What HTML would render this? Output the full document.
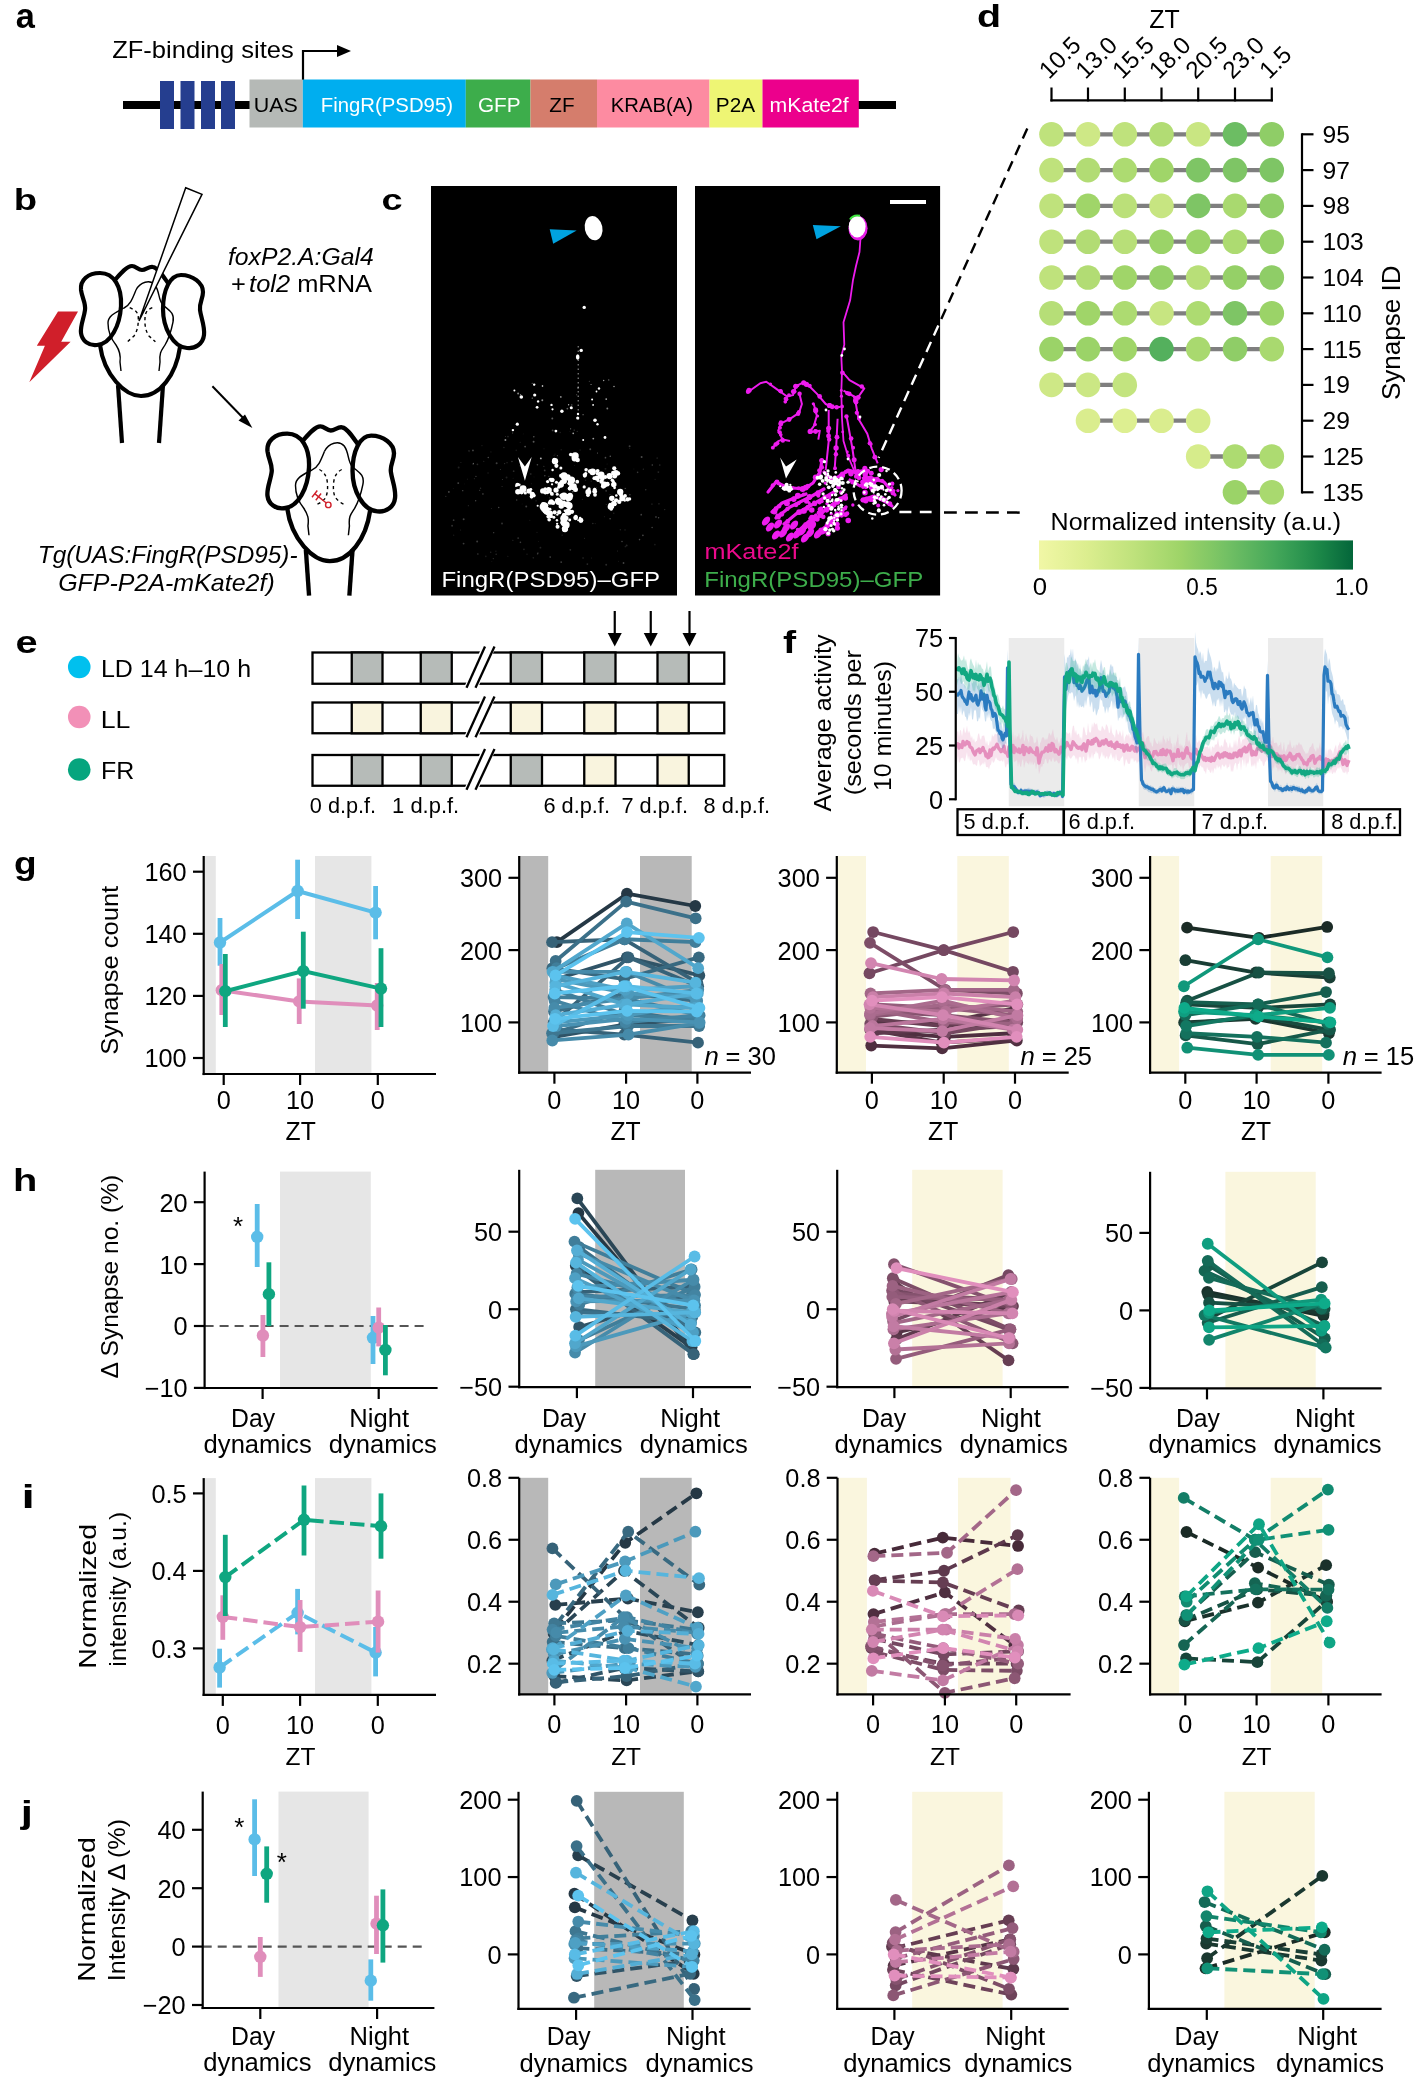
<!DOCTYPE html>
<html><head><meta charset="utf-8"><style>
html,body{margin:0;padding:0;background:#fff;}
svg{display:block;will-change:transform;font-family:"Liberation Sans", sans-serif;}
</style></head><body>
<svg width="1414" height="2079" viewBox="0 0 1414 2079">
<rect width="1414" height="2079" fill="#fff"/>
<text x="15.67" y="27.56" font-size="34.43" font-weight="bold" fill="#000" textLength="19.11" lengthAdjust="spacingAndGlyphs" >a</text>
<text x="112.17" y="58" font-size="24.5" fill="#000" textLength="181.7" lengthAdjust="spacingAndGlyphs" >ZF-binding sites</text>
<path d="M303,80 L303,51 L340,51" stroke="#000" fill="none" stroke-width="2.2" />
<path d="M337,45 L351,51 L337,57 Z" stroke="none" fill="#000" stroke-width="1" />
<rect x="123" y="101" width="128" height="8" fill="#000" />
<rect x="858" y="101" width="38" height="8" fill="#000" />
<rect x="160" y="81" width="14" height="48" fill="#253e8f" />
<rect x="180.5" y="81" width="14" height="48" fill="#253e8f" />
<rect x="201" y="81" width="14" height="48" fill="#253e8f" />
<rect x="221" y="81" width="14" height="48" fill="#253e8f" />
<rect x="249.5" y="79.5" width="53.3" height="48" fill="#b5b9b6" />
<rect x="302.8" y="79.5" width="163" height="48" fill="#00aeef" />
<rect x="465.8" y="79.5" width="64.7" height="48" fill="#3dad4b" />
<rect x="530.5" y="79.5" width="66.5" height="48" fill="#d57d6c" />
<rect x="597" y="79.5" width="112.5" height="48" fill="#fd8ba1" />
<rect x="709.5" y="79.5" width="53" height="48" fill="#eef574" />
<rect x="762.5" y="79.5" width="96.3" height="48" fill="#ec008c" />
<text x="253.84" y="111.8" font-size="20.5" fill="#000" textLength="44.1" lengthAdjust="spacingAndGlyphs" >UAS</text>
<text x="320.82" y="111.8" font-size="20.5" fill="#fff" textLength="132.14" lengthAdjust="spacingAndGlyphs" >FingR(PSD95)</text>
<text x="477.96" y="111.8" font-size="20.5" fill="#fff" textLength="42.64" lengthAdjust="spacingAndGlyphs" >GFP</text>
<text x="549.33" y="111.8" font-size="20.5" fill="#000" textLength="25.29" lengthAdjust="spacingAndGlyphs" >ZF</text>
<text x="610.83" y="111.8" font-size="20.5" fill="#000" textLength="82.16" lengthAdjust="spacingAndGlyphs" >KRAB(A)</text>
<text x="715.79" y="111.8" font-size="20.5" fill="#000" textLength="39.27" lengthAdjust="spacingAndGlyphs" >P2A</text>
<text x="769.57" y="111.8" font-size="20.5" fill="#fff" textLength="79.11" lengthAdjust="spacingAndGlyphs" >mKate2f</text>
<text x="13.82" y="209.8" font-size="30.34" font-weight="bold" fill="#000" textLength="23.35" lengthAdjust="spacingAndGlyphs" >b</text>
<g transform="translate(0,0) scale(1.0)">
<path d="M118,385 L122,443" stroke="#000" fill="none" stroke-width="4.2" />
<path d="M163,385 L159,443" stroke="#000" fill="none" stroke-width="4.2" />
<path d="M100,345 C104,375 125,396 141,396 C160,396 176,375 180,347" stroke="#000" fill="none" stroke-width="4.2" />
<path d="M115,280 C121,273 127,266 132,266 C136,266 138,270 142,270 C146,270 149,266 153,267 C158,268 163,276 168,283" stroke="#000" fill="none" stroke-width="4.2" />
<path d="M100,273 C88,273 80,280 81,290 C82,298 86,303 85,310 C84,318 80,326 81,333 C82,341 89,346 97,345 C111,344 120,325 121,306 C122,287 114,273 100,273 Z" stroke="#000" fill="#fff" stroke-width="4.2" />
<path d="M181,275 C193,275 203,283 203,292 C203,299 199,303 200,310 C201,318 205,326 204,335 C203,344 195,349 187,348 C173,347 163,328 163,309 C163,290 170,275 181,275 Z" stroke="#000" fill="#fff" stroke-width="4.2" />
<path d="M136,290 C140,282 150,279 155,285 C160,292 158,300 163,305 C168,310 175,312 173,322 C171,332 168,340 165,345 C162,350 159,352 160,362 L159,371" stroke="#000" fill="none" stroke-width="1.4" />
<path d="M136,290 C132,300 130,305 124,308 C117,312 108,315 108,323 C108,332 112,340 116,345 C120,351 121,355 120,362 L121,371" stroke="#000" fill="none" stroke-width="1.4" />
<path d="M129.7,307.6 C135,310 138.3,312 138.3,318 C138.3,324 138,330 134,336 L127.4,341.8" stroke="#000" fill="none" stroke-width="1.4" stroke-dasharray="3.2,3.2"/>
<path d="M152.3,307.6 C147,310 145.3,312 145,318 C144.7,324 145,330 149,336 L155.4,341.8" stroke="#000" fill="none" stroke-width="1.4" stroke-dasharray="3.2,3.2"/>
</g>
<path d="M185.7,187.8 L202,194.3 L139,321 Z" stroke="#000" fill="#fff" stroke-width="1.5" />
<path d="M58,311.5 L78,311.5 L61.2,341.8 L70.6,341.8 L29.3,382.3 L44.9,345.7 L36.8,345.7 Z" stroke="none" fill="#d01f2a" stroke-width="1" />
<line x1="212.4" y1="386.3" x2="248" y2="423" stroke="#000" stroke-width="2" />
<path d="M252.4,427.9 L238.5,420.5 L245,414.5 Z" stroke="none" fill="#000" stroke-width="1" />
<g transform="translate(183.5,150.5) scale(1.037)">
<path d="M118,385 L121.06,429.3" stroke="#000" fill="none" stroke-width="4.2" />
<path d="M163,385 L159.94,429.3" stroke="#000" fill="none" stroke-width="4.2" />
<path d="M100,345 C104,375 125,396 141,396 C160,396 176,375 180,347" stroke="#000" fill="none" stroke-width="4.2" />
<path d="M115,280 C121,273 127,266 132,266 C136,266 138,270 142,270 C146,270 149,266 153,267 C158,268 163,276 168,283" stroke="#000" fill="none" stroke-width="4.2" />
<path d="M100,273 C88,273 80,280 81,290 C82,298 86,303 85,310 C84,318 80,326 81,333 C82,341 89,346 97,345 C111,344 120,325 121,306 C122,287 114,273 100,273 Z" stroke="#000" fill="#fff" stroke-width="4.2" />
<path d="M181,275 C193,275 203,283 203,292 C203,299 199,303 200,310 C201,318 205,326 204,335 C203,344 195,349 187,348 C173,347 163,328 163,309 C163,290 170,275 181,275 Z" stroke="#000" fill="#fff" stroke-width="4.2" />
<path d="M136,290 C140,282 150,279 155,285 C160,292 158,300 163,305 C168,310 175,312 173,322 C171,332 168,340 165,345 C162,350 159,352 160,362 L159,371" stroke="#000" fill="none" stroke-width="1.4" />
<path d="M136,290 C132,300 130,305 124,308 C117,312 108,315 108,323 C108,332 112,340 116,345 C120,351 121,355 120,362 L121,371" stroke="#000" fill="none" stroke-width="1.4" />
</g>
<path d="M319.4,469.5 C324,472 326.5,476 327.3,482 C328,488 327.5,494 325.3,498.2 C322,502 319,503.5 316,504.7" stroke="#000" fill="none" stroke-width="1.4" stroke-dasharray="3.2,3.2"/>
<path d="M341.7,469.5 C337,472 334.5,476 333.7,482 C333,488 333.5,494 335.2,497.2 C338,501 341.5,503.5 345.1,504.7" stroke="#000" fill="none" stroke-width="1.4" stroke-dasharray="3.2,3.2"/>
<path d="M315,493.9 L326.3,503" stroke="#d01f2a" fill="none" stroke-width="1.4" />
<path d="M317.3,490.5 L312,497.3 M321.1,493.5 L315.8,500.3" stroke="#d01f2a" fill="none" stroke-width="1.4" />
<circle cx="328.3" cy="504.9" r="2.75" fill="none" stroke="#d01f2a" stroke-width="1.4"/>
<text x="227.9" y="265" font-size="23.5" font-style="italic" fill="#000" textLength="145.79" lengthAdjust="spacingAndGlyphs" >foxP2.A:Gal4</text>
<text x="231" y="292" font-size="23.5" textLength="141" lengthAdjust="spacingAndGlyphs">+<tspan font-style="italic" dx="3">tol2</tspan> mRNA</text>
<text x="37.81" y="562.5" font-size="23.8" font-style="italic" fill="#000" textLength="259.78" lengthAdjust="spacingAndGlyphs" >Tg(UAS:FingR(PSD95)-</text>
<text x="58.15" y="591.3" font-size="23.8" font-style="italic" fill="#000" textLength="216.59" lengthAdjust="spacingAndGlyphs" >GFP-P2A-mKate2f)</text>
<text x="381.48" y="209.9" font-size="29.95" font-weight="bold" fill="#000" textLength="21.11" lengthAdjust="spacingAndGlyphs" >c</text>
<defs><filter id="soft" x="-5%" y="-5%" width="110%" height="110%"><feGaussianBlur stdDeviation="0.7"/></filter></defs>
<rect x="431" y="186" width="246" height="409.5" fill="#000" />
<rect x="695" y="186" width="245.1" height="409.5" fill="#000" />
<ellipse cx="593.6" cy="228.2" rx="8.8" ry="12.2" fill="#fff" transform="rotate(-12 593.6 228.2)"/>
<path d="M549.7,229.3 L576.7,230.6 L553.2,243.8 Z" stroke="none" fill="#00a3e0" stroke-width="1" />
<circle cx="584.2" cy="307.4" r="1.7" fill="#fff" />
<circle cx="581.2" cy="350.4" r="1.7" fill="#fff" />
<ellipse cx="577.7" cy="357" rx="1.8" ry="2.8" fill="#fff"/>
<circle cx="516.24" cy="450.36" r="0.79" fill="#fff" opacity="0.11"/>
<circle cx="562.89" cy="479.37" r="0.43" fill="#fff" opacity="0.2"/>
<circle cx="453.25" cy="488.54" r="0.44" fill="#fff" opacity="0.12"/>
<circle cx="538.39" cy="541.63" r="0.47" fill="#fff" opacity="0.14"/>
<circle cx="583.04" cy="557.94" r="0.75" fill="#fff" opacity="0.18"/>
<circle cx="633.86" cy="469.1" r="0.49" fill="#fff" opacity="0.12"/>
<circle cx="512.87" cy="540.18" r="0.51" fill="#fff" opacity="0.22"/>
<circle cx="585.56" cy="480.27" r="0.73" fill="#fff" opacity="0.11"/>
<circle cx="594.69" cy="487.72" r="0.59" fill="#fff" opacity="0.22"/>
<circle cx="544.7" cy="470.47" r="0.88" fill="#fff" opacity="0.24"/>
<circle cx="498.7" cy="507.55" r="0.72" fill="#fff" opacity="0.28"/>
<circle cx="605.48" cy="468.87" r="0.99" fill="#fff" opacity="0.12"/>
<circle cx="536.99" cy="532.21" r="0.49" fill="#fff" opacity="0.2"/>
<circle cx="453.63" cy="520.21" r="0.86" fill="#fff" opacity="0.21"/>
<circle cx="637.61" cy="472.36" r="0.82" fill="#fff" opacity="0.22"/>
<circle cx="572.58" cy="491.59" r="0.9" fill="#fff" opacity="0.29"/>
<circle cx="549.3" cy="519.66" r="0.44" fill="#fff" opacity="0.24"/>
<circle cx="587.37" cy="564.07" r="0.89" fill="#fff" opacity="0.16"/>
<circle cx="529.87" cy="520.27" r="0.41" fill="#fff" opacity="0.19"/>
<circle cx="481.97" cy="445.81" r="0.44" fill="#fff" opacity="0.25"/>
<circle cx="473.45" cy="463.43" r="0.63" fill="#fff" opacity="0.27"/>
<circle cx="462.73" cy="490.64" r="0.73" fill="#fff" opacity="0.28"/>
<circle cx="625.24" cy="546.64" r="0.57" fill="#fff" opacity="0.18"/>
<circle cx="523.93" cy="549.37" r="0.97" fill="#fff" opacity="0.13"/>
<circle cx="483.77" cy="461.31" r="0.54" fill="#fff" opacity="0.2"/>
<circle cx="574.61" cy="465.47" r="0.4" fill="#fff" opacity="0.18"/>
<circle cx="526.24" cy="506.46" r="0.97" fill="#fff" opacity="0.24"/>
<circle cx="558.41" cy="513.38" r="0.81" fill="#fff" opacity="0.11"/>
<circle cx="642.9" cy="535.3" r="0.92" fill="#fff" opacity="0.26"/>
<circle cx="531.32" cy="483.86" r="0.46" fill="#fff" opacity="0.23"/>
<circle cx="490.93" cy="451.91" r="0.6" fill="#fff" opacity="0.11"/>
<circle cx="467.32" cy="479.09" r="0.42" fill="#fff" opacity="0.27"/>
<circle cx="580.1" cy="450.05" r="0.55" fill="#fff" opacity="0.17"/>
<circle cx="525.12" cy="446.58" r="0.91" fill="#fff" opacity="0.3"/>
<circle cx="547.52" cy="495.32" r="0.45" fill="#fff" opacity="0.12"/>
<circle cx="520.38" cy="465.74" r="0.9" fill="#fff" opacity="0.13"/>
<circle cx="561.22" cy="449.79" r="0.73" fill="#fff" opacity="0.11"/>
<circle cx="561.18" cy="562.1" r="0.92" fill="#fff" opacity="0.24"/>
<circle cx="502.45" cy="479.5" r="0.5" fill="#fff" opacity="0.25"/>
<circle cx="562.17" cy="535.17" r="0.6" fill="#fff" opacity="0.14"/>
<circle cx="623.53" cy="562.97" r="0.91" fill="#fff" opacity="0.26"/>
<circle cx="625.03" cy="529.88" r="0.54" fill="#fff" opacity="0.2"/>
<circle cx="523.22" cy="433.91" r="0.42" fill="#fff" opacity="0.16"/>
<circle cx="502.02" cy="523.49" r="0.97" fill="#fff" opacity="0.19"/>
<circle cx="655.1" cy="479.23" r="0.53" fill="#fff" opacity="0.15"/>
<circle cx="488.28" cy="457.59" r="0.77" fill="#fff" opacity="0.28"/>
<circle cx="629.9" cy="494.73" r="0.79" fill="#fff" opacity="0.26"/>
<circle cx="463.65" cy="519.18" r="0.95" fill="#fff" opacity="0.26"/>
<circle cx="610.03" cy="494.53" r="0.51" fill="#fff" opacity="0.26"/>
<circle cx="518.15" cy="538.11" r="0.98" fill="#fff" opacity="0.18"/>
<circle cx="533.31" cy="557.82" r="0.83" fill="#fff" opacity="0.13"/>
<circle cx="472.95" cy="450.41" r="0.94" fill="#fff" opacity="0.26"/>
<circle cx="477.16" cy="541.58" r="0.99" fill="#fff" opacity="0.23"/>
<circle cx="522.09" cy="504.07" r="0.48" fill="#fff" opacity="0.1"/>
<circle cx="658.6" cy="517.71" r="0.72" fill="#fff" opacity="0.29"/>
<circle cx="540.44" cy="547.69" r="0.9" fill="#fff" opacity="0.14"/>
<circle cx="500.4" cy="469.55" r="0.54" fill="#fff" opacity="0.22"/>
<circle cx="502.06" cy="486.57" r="0.48" fill="#fff" opacity="0.28"/>
<circle cx="522.83" cy="491.85" r="0.75" fill="#fff" opacity="0.28"/>
<circle cx="537.54" cy="553.89" r="0.7" fill="#fff" opacity="0.21"/>
<circle cx="560.17" cy="432.53" r="0.66" fill="#fff" opacity="0.14"/>
<circle cx="482.92" cy="493.92" r="0.84" fill="#fff" opacity="0.21"/>
<circle cx="516.72" cy="499.98" r="0.73" fill="#fff" opacity="0.26"/>
<circle cx="468.34" cy="505.64" r="0.55" fill="#fff" opacity="0.16"/>
<circle cx="614.9" cy="498.54" r="0.74" fill="#fff" opacity="0.25"/>
<circle cx="645.75" cy="489.84" r="0.77" fill="#fff" opacity="0.2"/>
<circle cx="557.68" cy="523.52" r="0.67" fill="#fff" opacity="0.21"/>
<circle cx="550.17" cy="557.1" r="0.82" fill="#fff" opacity="0.28"/>
<circle cx="652.28" cy="465.04" r="0.74" fill="#fff" opacity="0.29"/>
<circle cx="629.8" cy="448.51" r="0.47" fill="#fff" opacity="0.19"/>
<circle cx="460.96" cy="462.49" r="0.44" fill="#fff" opacity="0.23"/>
<circle cx="617.47" cy="551.1" r="0.49" fill="#fff" opacity="0.24"/>
<circle cx="590.26" cy="449.3" r="0.93" fill="#fff" opacity="0.29"/>
<circle cx="493.31" cy="558.59" r="0.64" fill="#fff" opacity="0.2"/>
<circle cx="480.52" cy="488.26" r="0.71" fill="#fff" opacity="0.17"/>
<circle cx="488.06" cy="473" r="0.83" fill="#fff" opacity="0.1"/>
<circle cx="566.89" cy="489.46" r="0.41" fill="#fff" opacity="0.17"/>
<circle cx="582.26" cy="499.16" r="0.44" fill="#fff" opacity="0.3"/>
<circle cx="618.44" cy="561.18" r="0.46" fill="#fff" opacity="0.15"/>
<circle cx="453.71" cy="535.16" r="0.56" fill="#fff" opacity="0.13"/>
<circle cx="537.9" cy="553.04" r="0.89" fill="#fff" opacity="0.15"/>
<circle cx="477.86" cy="554.09" r="0.74" fill="#fff" opacity="0.24"/>
<circle cx="596.41" cy="487.42" r="0.44" fill="#fff" opacity="0.29"/>
<circle cx="584.58" cy="538.22" r="0.45" fill="#fff" opacity="0.27"/>
<circle cx="544.83" cy="475.79" r="0.73" fill="#fff" opacity="0.29"/>
<circle cx="503.93" cy="447.45" r="0.72" fill="#fff" opacity="0.15"/>
<circle cx="469.08" cy="451.8" r="0.43" fill="#fff" opacity="0.14"/>
<circle cx="513.64" cy="471.18" r="0.86" fill="#fff" opacity="0.16"/>
<circle cx="555.02" cy="454.02" r="0.61" fill="#fff" opacity="0.1"/>
<circle cx="606.28" cy="504.39" r="0.51" fill="#fff" opacity="0.19"/>
<circle cx="625.16" cy="488.34" r="0.7" fill="#fff" opacity="0.27"/>
<circle cx="531.48" cy="498.4" r="0.81" fill="#fff" opacity="0.3"/>
<circle cx="520.4" cy="542.36" r="0.82" fill="#fff" opacity="0.23"/>
<circle cx="534.03" cy="476.92" r="0.43" fill="#fff" opacity="0.13"/>
<circle cx="460.56" cy="530.02" r="0.55" fill="#fff" opacity="0.13"/>
<circle cx="463.59" cy="543.57" r="0.92" fill="#fff" opacity="0.23"/>
<circle cx="507.03" cy="462.7" r="0.58" fill="#fff" opacity="0.19"/>
<circle cx="479.66" cy="490.19" r="0.56" fill="#fff" opacity="0.29"/>
<circle cx="658.98" cy="503.85" r="0.55" fill="#fff" opacity="0.29"/>
<circle cx="513.1" cy="478.14" r="0.4" fill="#fff" opacity="0.18"/>
<circle cx="549.42" cy="497.87" r="0.52" fill="#fff" opacity="0.2"/>
<circle cx="464.75" cy="483.93" r="0.43" fill="#fff" opacity="0.1"/>
<circle cx="511.93" cy="461.43" r="0.75" fill="#fff" opacity="0.21"/>
<circle cx="610.12" cy="518.77" r="0.83" fill="#fff" opacity="0.28"/>
<circle cx="530.69" cy="474.03" r="0.99" fill="#fff" opacity="0.13"/>
<circle cx="604.31" cy="516.83" r="0.43" fill="#fff" opacity="0.27"/>
<circle cx="641.23" cy="514.69" r="0.84" fill="#fff" opacity="0.26"/>
<circle cx="475.65" cy="500.71" r="0.7" fill="#fff" opacity="0.27"/>
<circle cx="622.03" cy="541.57" r="0.75" fill="#fff" opacity="0.28"/>
<circle cx="595.24" cy="523.6" r="0.54" fill="#fff" opacity="0.11"/>
<circle cx="474.28" cy="478.7" r="0.46" fill="#fff" opacity="0.27"/>
<circle cx="567.88" cy="514.75" r="0.78" fill="#fff" opacity="0.24"/>
<circle cx="552.64" cy="430.45" r="0.88" fill="#fff" opacity="0.25"/>
<circle cx="555.65" cy="502.25" r="0.8" fill="#fff" opacity="0.11"/>
<circle cx="607.09" cy="464.05" r="0.44" fill="#fff" opacity="0.15"/>
<circle cx="605.45" cy="457.7" r="0.84" fill="#fff" opacity="0.3"/>
<circle cx="553.67" cy="481.65" r="0.69" fill="#fff" opacity="0.24"/>
<circle cx="613.73" cy="513.29" r="0.79" fill="#fff" opacity="0.12"/>
<circle cx="477.43" cy="464.28" r="0.85" fill="#fff" opacity="0.16"/>
<circle cx="569.91" cy="431.68" r="0.44" fill="#fff" opacity="0.15"/>
<circle cx="592.84" cy="523.44" r="0.81" fill="#fff" opacity="0.16"/>
<circle cx="558.64" cy="492.73" r="0.68" fill="#fff" opacity="0.12"/>
<circle cx="641.61" cy="456.9" r="0.99" fill="#fff" opacity="0.29"/>
<circle cx="448.85" cy="491.96" r="0.89" fill="#fff" opacity="0.29"/>
<circle cx="543.88" cy="466.27" r="0.53" fill="#fff" opacity="0.29"/>
<circle cx="491.36" cy="508.5" r="0.49" fill="#fff" opacity="0.2"/>
<circle cx="625.45" cy="498.68" r="0.93" fill="#fff" opacity="0.24"/>
<circle cx="495.9" cy="551.19" r="0.69" fill="#fff" opacity="0.1"/>
<circle cx="445.79" cy="496.38" r="0.67" fill="#fff" opacity="0.16"/>
<circle cx="475.96" cy="476.43" r="0.59" fill="#fff" opacity="0.27"/>
<circle cx="629.6" cy="446.21" r="0.96" fill="#fff" opacity="0.24"/>
<circle cx="643.34" cy="469.13" r="0.62" fill="#fff" opacity="0.18"/>
<circle cx="664.73" cy="509.54" r="0.62" fill="#fff" opacity="0.19"/>
<circle cx="505.53" cy="436.52" r="0.46" fill="#fff" opacity="0.27"/>
<circle cx="507.84" cy="556.3" r="0.55" fill="#fff" opacity="0.15"/>
<circle cx="557.41" cy="455.63" r="0.62" fill="#fff" opacity="0.29"/>
<circle cx="639.54" cy="539.61" r="0.78" fill="#fff" opacity="0.28"/>
<circle cx="651.95" cy="504.15" r="0.83" fill="#fff" opacity="0.11"/>
<circle cx="606.12" cy="490.87" r="0.85" fill="#fff" opacity="0.23"/>
<circle cx="507.97" cy="436.61" r="0.96" fill="#fff" opacity="0.13"/>
<circle cx="548.88" cy="476.39" r="0.58" fill="#fff" opacity="0.25"/>
<circle cx="659.79" cy="465.12" r="0.79" fill="#fff" opacity="0.16"/>
<circle cx="567.61" cy="483.24" r="0.5" fill="#fff" opacity="0.13"/>
<circle cx="490.73" cy="552.3" r="0.7" fill="#fff" opacity="0.14"/>
<circle cx="543.99" cy="448.85" r="0.52" fill="#fff" opacity="0.12"/>
<circle cx="520.23" cy="442.3" r="0.54" fill="#fff" opacity="0.15"/>
<circle cx="570.32" cy="549.78" r="0.85" fill="#fff" opacity="0.18"/>
<circle cx="536.05" cy="500.76" r="0.63" fill="#fff" opacity="0.17"/>
<circle cx="458.65" cy="467.46" r="0.98" fill="#fff" opacity="0.13"/>
<circle cx="555.75" cy="515" r="0.92" fill="#fff" opacity="0.14"/>
<circle cx="504.62" cy="463.54" r="0.64" fill="#fff" opacity="0.19"/>
<circle cx="654.87" cy="544.57" r="0.92" fill="#fff" opacity="0.1"/>
<circle cx="452.09" cy="525.78" r="0.94" fill="#fff" opacity="0.19"/>
<circle cx="574.18" cy="430.02" r="0.63" fill="#fff" opacity="0.29"/>
<circle cx="626.63" cy="545.49" r="0.98" fill="#fff" opacity="0.15"/>
<circle cx="468.99" cy="450.84" r="0.71" fill="#fff" opacity="0.24"/>
<circle cx="652.13" cy="527.43" r="0.79" fill="#fff" opacity="0.25"/>
<circle cx="545.61" cy="504.45" r="0.42" fill="#fff" opacity="0.26"/>
<circle cx="496.17" cy="554.19" r="0.79" fill="#fff" opacity="0.16"/>
<circle cx="473.15" cy="463.99" r="0.78" fill="#fff" opacity="0.24"/>
<circle cx="560.38" cy="508.69" r="0.63" fill="#fff" opacity="0.14"/>
<circle cx="577.23" cy="431.41" r="0.58" fill="#fff" opacity="0.19"/>
<circle cx="655.97" cy="517.02" r="0.93" fill="#fff" opacity="0.2"/>
<circle cx="496.65" cy="463.35" r="0.98" fill="#fff" opacity="0.24"/>
<circle cx="512.63" cy="432.94" r="0.7" fill="#fff" opacity="0.23"/>
<circle cx="537.4" cy="464.73" r="0.8" fill="#fff" opacity="0.29"/>
<circle cx="519.37" cy="486.78" r="0.81" fill="#fff" opacity="0.14"/>
<circle cx="620.35" cy="529.78" r="0.7" fill="#fff" opacity="0.14"/>
<circle cx="658.37" cy="472.08" r="0.89" fill="#fff" opacity="0.15"/>
<circle cx="493.72" cy="532.66" r="0.58" fill="#fff" opacity="0.29"/>
<circle cx="554.07" cy="455.29" r="0.53" fill="#fff" opacity="0.18"/>
<circle cx="591.36" cy="558.08" r="0.49" fill="#fff" opacity="0.18"/>
<circle cx="491.85" cy="561.51" r="0.49" fill="#fff" opacity="0.11"/>
<circle cx="458.23" cy="483.1" r="0.94" fill="#fff" opacity="0.28"/>
<circle cx="606.2" cy="564.67" r="0.96" fill="#fff" opacity="0.17"/>
<circle cx="485.81" cy="556.34" r="0.85" fill="#fff" opacity="0.11"/>
<circle cx="591.17" cy="481.11" r="0.62" fill="#fff" opacity="0.17"/>
<circle cx="506.56" cy="477.45" r="0.97" fill="#fff" opacity="0.12"/>
<circle cx="657.14" cy="458" r="0.61" fill="#fff" opacity="0.26"/>
<circle cx="625.84" cy="488.38" r="0.43" fill="#fff" opacity="0.19"/>
<circle cx="527" cy="554.13" r="0.52" fill="#fff" opacity="0.17"/>
<line x1="578.2" y1="346" x2="578.2" y2="421" stroke="#fff" stroke-width="0.9" stroke-dasharray="1.5,3" opacity="0.7"/>
<circle cx="521.3" cy="397" r="1.8" fill="#fff" />
<circle cx="534.7" cy="395" r="1.6" fill="#fff" />
<circle cx="534.2" cy="384.6" r="1.2" fill="#fff" />
<circle cx="514.4" cy="390.5" r="1" fill="#fff" />
<circle cx="538.1" cy="401.4" r="1.2" fill="#fff" />
<circle cx="537.1" cy="407.3" r="1.4" fill="#fff" />
<circle cx="551.5" cy="404.9" r="1.2" fill="#fff" />
<circle cx="552.5" cy="409.3" r="1.1" fill="#fff" />
<circle cx="561.9" cy="411.3" r="1.7" fill="#fff" />
<circle cx="571.3" cy="407.8" r="1.5" fill="#fff" />
<circle cx="599" cy="388.5" r="1.2" fill="#fff" />
<circle cx="596.5" cy="391.5" r="0.9" fill="#fff" />
<circle cx="592.1" cy="399.4" r="1" fill="#fff" />
<circle cx="593.1" cy="404.9" r="0.9" fill="#fff" />
<circle cx="595" cy="420.2" r="1.8" fill="#fff" />
<circle cx="597.5" cy="424.2" r="1.2" fill="#fff" />
<circle cx="605" cy="437.5" r="1.4" fill="#fff" />
<circle cx="517.3" cy="424.2" r="1.6" fill="#fff" />
<circle cx="512.9" cy="430.1" r="1.2" fill="#fff" />
<circle cx="555.9" cy="431.1" r="1.4" fill="#fff" />
<circle cx="583.2" cy="440" r="1" fill="#fff" />
<circle cx="577.7" cy="418" r="1.6" fill="#fff" />
<circle cx="578" cy="414" r="1.2" fill="#fff" />
<circle cx="542.5" cy="386" r="0.8" fill="#fff" />
<circle cx="603.67" cy="380.48" r="0.71" fill="#fff" opacity="0.62"/>
<circle cx="589.33" cy="381.33" r="0.52" fill="#fff" opacity="0.33"/>
<circle cx="606.21" cy="399.08" r="0.87" fill="#fff" opacity="0.66"/>
<circle cx="542.3" cy="400.33" r="0.98" fill="#fff" opacity="0.55"/>
<circle cx="533.84" cy="436.76" r="0.66" fill="#fff" opacity="0.41"/>
<circle cx="505.41" cy="439.96" r="0.96" fill="#fff" opacity="0.55"/>
<circle cx="608.76" cy="379.99" r="0.62" fill="#fff" opacity="0.49"/>
<circle cx="610.25" cy="456.22" r="0.69" fill="#fff" opacity="0.4"/>
<circle cx="552.29" cy="418.46" r="0.96" fill="#fff" opacity="0.37"/>
<circle cx="593.28" cy="438.56" r="0.91" fill="#fff" opacity="0.61"/>
<circle cx="571.8" cy="404.88" r="0.66" fill="#fff" opacity="0.44"/>
<circle cx="591.05" cy="384.48" r="0.6" fill="#fff" opacity="0.6"/>
<circle cx="532.2" cy="383.31" r="0.52" fill="#fff" opacity="0.52"/>
<circle cx="540.83" cy="458.38" r="0.94" fill="#fff" opacity="0.7"/>
<circle cx="534.14" cy="384.89" r="0.55" fill="#fff" opacity="0.5"/>
<circle cx="583.07" cy="414.65" r="0.62" fill="#fff" opacity="0.47"/>
<circle cx="573.23" cy="433.28" r="0.87" fill="#fff" opacity="0.64"/>
<circle cx="578.09" cy="387.94" r="0.92" fill="#fff" opacity="0.42"/>
<circle cx="567.36" cy="408.58" r="0.87" fill="#fff" opacity="0.38"/>
<circle cx="532.22" cy="398.12" r="0.58" fill="#fff" opacity="0.65"/>
<circle cx="568.61" cy="404.76" r="0.7" fill="#fff" opacity="0.7"/>
<circle cx="560.81" cy="396.97" r="0.9" fill="#fff" opacity="0.56"/>
<circle cx="614.01" cy="386.39" r="0.74" fill="#fff" opacity="0.63"/>
<circle cx="597.46" cy="452.98" r="0.52" fill="#fff" opacity="0.42"/>
<circle cx="518.11" cy="393.55" r="0.99" fill="#fff" opacity="0.53"/>
<circle cx="607.32" cy="408.52" r="0.93" fill="#fff" opacity="0.48"/>
<circle cx="533.59" cy="441.78" r="0.97" fill="#fff" opacity="0.34"/>
<circle cx="570.58" cy="428.84" r="0.61" fill="#fff" opacity="0.45"/>
<circle cx="520.55" cy="394.73" r="0.63" fill="#fff" opacity="0.54"/>
<circle cx="576.68" cy="394.68" r="0.51" fill="#fff" opacity="0.43"/>
<circle cx="555" cy="461.2" r="3.15" fill="#fff" />
<circle cx="554.25" cy="459.64" r="1.83" fill="#fff" />
<circle cx="556.39" cy="465.8" r="2.08" fill="#fff" />
<circle cx="556.15" cy="461.68" r="1.92" fill="#fff" />
<circle cx="575.1" cy="455.9" r="3.68" fill="#fff" />
<circle cx="570.82" cy="454.51" r="1.86" fill="#fff" />
<circle cx="577.61" cy="460.06" r="2.25" fill="#fff" />
<circle cx="574.54" cy="458.54" r="2.92" fill="#fff" />
<circle cx="523.1" cy="488.8" r="3.46" fill="#fff" />
<circle cx="521.63" cy="492.35" r="2.06" fill="#fff" />
<circle cx="517.96" cy="491.77" r="2.8" fill="#fff" />
<circle cx="521.81" cy="490.29" r="2.49" fill="#fff" />
<circle cx="529" cy="491" r="2.62" fill="#fff" />
<circle cx="529.07" cy="491.23" r="2.04" fill="#fff" />
<circle cx="525.3" cy="492.92" r="1.61" fill="#fff" />
<circle cx="530.85" cy="489.32" r="1.39" fill="#fff" />
<circle cx="517.3" cy="484.6" r="1.89" fill="#fff" />
<circle cx="519.34" cy="484.79" r="1.3" fill="#fff" />
<circle cx="517.89" cy="484.22" r="1.29" fill="#fff" />
<circle cx="515.98" cy="485.99" r="0.99" fill="#fff" />
<circle cx="532.1" cy="494.1" r="2.42" fill="#fff" />
<circle cx="531.58" cy="496.56" r="1.9" fill="#fff" />
<circle cx="533.96" cy="495.62" r="1.8" fill="#fff" />
<circle cx="533.44" cy="493.82" r="1.25" fill="#fff" />
<circle cx="542.7" cy="490.9" r="2.62" fill="#fff" />
<circle cx="548.44" cy="488.75" r="1.67" fill="#fff" />
<circle cx="547.55" cy="492.59" r="1.59" fill="#fff" />
<circle cx="545.28" cy="489.13" r="1.97" fill="#fff" />
<circle cx="549.1" cy="489.9" r="2.73" fill="#fff" />
<circle cx="551.3" cy="493.37" r="1.5" fill="#fff" />
<circle cx="545.36" cy="492.46" r="2.05" fill="#fff" />
<circle cx="549.77" cy="491.4" r="1.66" fill="#fff" />
<circle cx="564" cy="476" r="3.68" fill="#fff" />
<circle cx="560.92" cy="475.65" r="1.9" fill="#fff" />
<circle cx="564.09" cy="481.06" r="2.85" fill="#fff" />
<circle cx="567.92" cy="477.03" r="2.68" fill="#fff" />
<circle cx="571.4" cy="480.3" r="3.68" fill="#fff" />
<circle cx="577.24" cy="481.73" r="1.89" fill="#fff" />
<circle cx="568.17" cy="477.97" r="2.52" fill="#fff" />
<circle cx="570.26" cy="483.39" r="2.46" fill="#fff" />
<circle cx="573.5" cy="486.7" r="3.36" fill="#fff" />
<circle cx="569.73" cy="488.6" r="2.1" fill="#fff" />
<circle cx="572.92" cy="486.94" r="2.29" fill="#fff" />
<circle cx="571.4" cy="486.84" r="2.46" fill="#fff" />
<circle cx="560.8" cy="484.6" r="3.15" fill="#fff" />
<circle cx="561.36" cy="481.66" r="1.69" fill="#fff" />
<circle cx="559.53" cy="484.82" r="1.63" fill="#fff" />
<circle cx="559.73" cy="485.1" r="1.96" fill="#fff" />
<circle cx="564" cy="496.2" r="3.68" fill="#fff" />
<circle cx="563.09" cy="496.14" r="2.53" fill="#fff" />
<circle cx="568.45" cy="498.73" r="2.7" fill="#fff" />
<circle cx="562.95" cy="496.12" r="2.37" fill="#fff" />
<circle cx="569.3" cy="497.3" r="3.46" fill="#fff" />
<circle cx="564.05" cy="502.36" r="1.81" fill="#fff" />
<circle cx="575.47" cy="489.56" r="2.5" fill="#fff" />
<circle cx="570.07" cy="495.51" r="2.78" fill="#fff" />
<circle cx="558.6" cy="501.5" r="3.46" fill="#fff" />
<circle cx="551.17" cy="501.88" r="2.71" fill="#fff" />
<circle cx="561.26" cy="506.01" r="2.72" fill="#fff" />
<circle cx="561.13" cy="502.6" r="2.52" fill="#fff" />
<circle cx="543.8" cy="506.8" r="4.2" fill="#fff" />
<circle cx="547.96" cy="513.24" r="2.38" fill="#fff" />
<circle cx="544.6" cy="504.96" r="2.7" fill="#fff" />
<circle cx="545.96" cy="505.61" r="2.37" fill="#fff" />
<circle cx="545.9" cy="510" r="3.68" fill="#fff" />
<circle cx="543.14" cy="509.9" r="1.8" fill="#fff" />
<circle cx="546.67" cy="511.7" r="2.9" fill="#fff" />
<circle cx="543.04" cy="503.95" r="1.96" fill="#fff" />
<circle cx="569.3" cy="505.8" r="3.36" fill="#fff" />
<circle cx="569.61" cy="504.41" r="2.19" fill="#fff" />
<circle cx="567.52" cy="503.74" r="2.58" fill="#fff" />
<circle cx="565.73" cy="504.51" r="2.59" fill="#fff" />
<circle cx="568.2" cy="512.1" r="3.46" fill="#fff" />
<circle cx="575.6" cy="517.81" r="2.38" fill="#fff" />
<circle cx="564.02" cy="515.37" r="1.96" fill="#fff" />
<circle cx="572.09" cy="511.87" r="2.07" fill="#fff" />
<circle cx="564" cy="518.5" r="3.78" fill="#fff" />
<circle cx="564.32" cy="515.01" r="2.02" fill="#fff" />
<circle cx="563.96" cy="517.48" r="2.83" fill="#fff" />
<circle cx="563.89" cy="523.13" r="3.04" fill="#fff" />
<circle cx="566.1" cy="524.9" r="3.57" fill="#fff" />
<circle cx="562.22" cy="522.58" r="2.07" fill="#fff" />
<circle cx="566.9" cy="524.91" r="1.88" fill="#fff" />
<circle cx="563.67" cy="522.73" r="2.31" fill="#fff" />
<circle cx="565" cy="529.1" r="3.15" fill="#fff" />
<circle cx="566.14" cy="528.22" r="1.74" fill="#fff" />
<circle cx="564.67" cy="528.63" r="1.5" fill="#fff" />
<circle cx="564.22" cy="530.11" r="1.88" fill="#fff" />
<circle cx="550.2" cy="513.2" r="2.73" fill="#fff" />
<circle cx="550.7" cy="516.26" r="1.84" fill="#fff" />
<circle cx="551.13" cy="516.34" r="1.73" fill="#fff" />
<circle cx="553.84" cy="517.32" r="1.52" fill="#fff" />
<circle cx="556" cy="490" r="2.62" fill="#fff" />
<circle cx="556.6" cy="490.81" r="1.81" fill="#fff" />
<circle cx="558.71" cy="487.16" r="1.6" fill="#fff" />
<circle cx="555.97" cy="490.34" r="1.81" fill="#fff" />
<circle cx="552" cy="480" r="2.31" fill="#fff" />
<circle cx="550.3" cy="479.3" r="1.6" fill="#fff" />
<circle cx="547.63" cy="481.61" r="1.66" fill="#fff" />
<circle cx="552.04" cy="484.28" r="1.13" fill="#fff" />
<circle cx="592.6" cy="471.8" r="3.36" fill="#fff" />
<circle cx="589.72" cy="471.22" r="1.87" fill="#fff" />
<circle cx="597.27" cy="473.59" r="1.61" fill="#fff" />
<circle cx="586.1" cy="469.65" r="1.76" fill="#fff" />
<circle cx="601.1" cy="475" r="3.46" fill="#fff" />
<circle cx="602.37" cy="478.86" r="2.24" fill="#fff" />
<circle cx="597.67" cy="470.77" r="1.85" fill="#fff" />
<circle cx="600.19" cy="477.34" r="1.71" fill="#fff" />
<circle cx="609.6" cy="476.1" r="3.15" fill="#fff" />
<circle cx="613.22" cy="473.08" r="2.25" fill="#fff" />
<circle cx="614.8" cy="476.31" r="2.28" fill="#fff" />
<circle cx="605.26" cy="477.06" r="1.98" fill="#fff" />
<circle cx="615.9" cy="472.9" r="2.94" fill="#fff" />
<circle cx="616.08" cy="474.08" r="1.63" fill="#fff" />
<circle cx="618.11" cy="473.45" r="2.13" fill="#fff" />
<circle cx="614.25" cy="468.32" r="2.1" fill="#fff" />
<circle cx="588.3" cy="492" r="2.94" fill="#fff" />
<circle cx="587.98" cy="495.19" r="1.83" fill="#fff" />
<circle cx="589.03" cy="489.02" r="1.66" fill="#fff" />
<circle cx="584.2" cy="486.92" r="1.61" fill="#fff" />
<circle cx="594.7" cy="491.4" r="2.42" fill="#fff" />
<circle cx="594.96" cy="491.15" r="1.36" fill="#fff" />
<circle cx="595" cy="494.8" r="1.91" fill="#fff" />
<circle cx="594.66" cy="489.56" r="1.86" fill="#fff" />
<circle cx="604.3" cy="484.6" r="3.15" fill="#fff" />
<circle cx="603.35" cy="486.36" r="2.45" fill="#fff" />
<circle cx="601.47" cy="481.56" r="2.2" fill="#fff" />
<circle cx="607.31" cy="484.2" r="2.38" fill="#fff" />
<circle cx="613.8" cy="484.6" r="2.73" fill="#fff" />
<circle cx="612.31" cy="480.23" r="1.7" fill="#fff" />
<circle cx="613.32" cy="481.6" r="1.58" fill="#fff" />
<circle cx="614.57" cy="487.77" r="1.37" fill="#fff" />
<circle cx="620.2" cy="492" r="3.15" fill="#fff" />
<circle cx="621.48" cy="491.2" r="1.53" fill="#fff" />
<circle cx="625.07" cy="495.86" r="1.86" fill="#fff" />
<circle cx="620.61" cy="492.51" r="1.54" fill="#fff" />
<circle cx="622.3" cy="498.3" r="2.94" fill="#fff" />
<circle cx="621.04" cy="494.96" r="2.08" fill="#fff" />
<circle cx="622.22" cy="497.37" r="1.98" fill="#fff" />
<circle cx="619.26" cy="501.82" r="2.2" fill="#fff" />
<circle cx="611.7" cy="498.3" r="2.62" fill="#fff" />
<circle cx="612.34" cy="497.78" r="2.01" fill="#fff" />
<circle cx="616.34" cy="495.53" r="1.34" fill="#fff" />
<circle cx="612" cy="499.35" r="1.28" fill="#fff" />
<circle cx="613.8" cy="503.6" r="2.73" fill="#fff" />
<circle cx="616.26" cy="500.1" r="1.88" fill="#fff" />
<circle cx="615.3" cy="500.65" r="1.56" fill="#fff" />
<circle cx="614.66" cy="504.22" r="1.99" fill="#fff" />
<circle cx="610.6" cy="506.8" r="2.94" fill="#fff" />
<circle cx="611.22" cy="508.92" r="1.82" fill="#fff" />
<circle cx="612.52" cy="507.05" r="1.68" fill="#fff" />
<circle cx="610.08" cy="504.44" r="1.71" fill="#fff" />
<circle cx="627.6" cy="499.4" r="2.1" fill="#fff" />
<circle cx="629.68" cy="498.92" r="1.6" fill="#fff" />
<circle cx="627.27" cy="499.09" r="1.29" fill="#fff" />
<circle cx="624.74" cy="500.61" r="1.24" fill="#fff" />
<circle cx="580.9" cy="520.6" r="2.42" fill="#fff" />
<circle cx="580.18" cy="518.13" r="1.32" fill="#fff" />
<circle cx="581.49" cy="519.91" r="1.81" fill="#fff" />
<circle cx="580.95" cy="520.69" r="1.31" fill="#fff" />
<circle cx="597" cy="478" r="2.62" fill="#fff" />
<circle cx="597.47" cy="471.81" r="1.25" fill="#fff" />
<circle cx="594.39" cy="478.15" r="1.95" fill="#fff" />
<circle cx="598.05" cy="480.41" r="1.55" fill="#fff" />
<circle cx="585" cy="475" r="2.1" fill="#fff" />
<circle cx="585.69" cy="473.78" r="1.66" fill="#fff" />
<circle cx="584.74" cy="476.22" r="1.49" fill="#fff" />
<circle cx="584.13" cy="475.01" r="1.45" fill="#fff" />
<circle cx="575.85" cy="516.71" r="1.84" fill="#fff" />
<circle cx="564.91" cy="481.1" r="1.43" fill="#fff" />
<circle cx="554.66" cy="512.32" r="2.07" fill="#fff" />
<circle cx="578.15" cy="520.27" r="1.03" fill="#fff" />
<circle cx="563.92" cy="515.03" r="2.08" fill="#fff" />
<circle cx="553.21" cy="502.88" r="2.06" fill="#fff" />
<circle cx="563.03" cy="520.69" r="1.64" fill="#fff" />
<circle cx="562.42" cy="476.25" r="1.78" fill="#fff" />
<circle cx="557.36" cy="514.59" r="1.19" fill="#fff" />
<circle cx="569.32" cy="483.35" r="1.89" fill="#fff" />
<circle cx="566.68" cy="518.05" r="1.93" fill="#fff" />
<circle cx="557.89" cy="499.04" r="1.55" fill="#fff" />
<circle cx="566.98" cy="495.21" r="1.23" fill="#fff" />
<circle cx="557.54" cy="526.64" r="2.01" fill="#fff" />
<circle cx="564.96" cy="510.69" r="1.3" fill="#fff" />
<circle cx="556.94" cy="520.24" r="1.19" fill="#fff" />
<circle cx="559.25" cy="512.14" r="2.17" fill="#fff" />
<circle cx="561.44" cy="495.65" r="2.15" fill="#fff" />
<circle cx="569.12" cy="512.39" r="2.18" fill="#fff" />
<circle cx="566.07" cy="478.02" r="1.52" fill="#fff" />
<circle cx="566.26" cy="524.52" r="1.13" fill="#fff" />
<circle cx="564.41" cy="518.27" r="1.04" fill="#fff" />
<circle cx="549.17" cy="519.78" r="1.83" fill="#fff" />
<circle cx="549.27" cy="502.93" r="1.56" fill="#fff" />
<circle cx="569.7" cy="519.93" r="1.49" fill="#fff" />
<circle cx="560.88" cy="468.1" r="1.52" fill="#fff" />
<circle cx="548.62" cy="491.07" r="1.51" fill="#fff" />
<circle cx="563.93" cy="528.38" r="2.06" fill="#fff" />
<circle cx="564.1" cy="478.45" r="2.02" fill="#fff" />
<circle cx="556.48" cy="482.29" r="1.54" fill="#fff" />
<circle cx="557.12" cy="523.77" r="1.12" fill="#fff" />
<circle cx="548.25" cy="516.53" r="1.86" fill="#fff" />
<circle cx="557.31" cy="494.17" r="1.51" fill="#fff" />
<circle cx="549.95" cy="509.2" r="1.49" fill="#fff" />
<circle cx="552.6" cy="470.08" r="1.22" fill="#fff" />
<circle cx="553.18" cy="480.08" r="1.47" fill="#fff" />
<circle cx="537.65" cy="505.77" r="1.05" fill="#fff" />
<circle cx="556.87" cy="500.45" r="1.94" fill="#fff" />
<circle cx="572.14" cy="495.94" r="1.12" fill="#fff" />
<circle cx="551.98" cy="493.98" r="1.86" fill="#fff" />
<path d="M517.9,456.9 L524.9,480.8 L531.7,456.9 L524.9,466.4 Z" stroke="none" fill="#fff" stroke-width="1" />
<text x="441.42" y="587.4" font-size="22.8" fill="#fff" textLength="218.72" lengthAdjust="spacingAndGlyphs" >FingR(PSD95)–GFP</text>
<rect x="890" y="200" width="36" height="4" fill="#fff" />
<path d="M812.8,225 L840.8,226.3 L816.5,239.2 Z" stroke="none" fill="#00a3e0" stroke-width="1" />
<polyline points="860.5,238 859.5,252 856,266 853,280 850.2,300 843.5,322.3 844.3,344.6 841.3,356.4 842,371.3 841.3,392.1 842,418.8 843.5,441.1 848,456 853.9,470" stroke="#ee1cee" fill="none" stroke-width="1.8" stroke-linejoin="round"/>
<polyline points="842,371.3 849.5,380.2 864.3,388.4 855.4,401 858.4,418.8 867.3,433.7 871.7,448.5 877.7,463.4" stroke="#ee1cee" fill="none" stroke-width="2.0" stroke-linejoin="round"/>
<circle cx="856.81" cy="412.77" r="2.13" fill="#ee1cee" />
<circle cx="856.04" cy="402.37" r="2.32" fill="#ee1cee" />
<circle cx="855.69" cy="400.32" r="2.68" fill="#ee1cee" />
<circle cx="858.48" cy="397.44" r="1.98" fill="#ee1cee" />
<circle cx="842.4" cy="372.74" r="2.34" fill="#ee1cee" />
<circle cx="858.21" cy="397.39" r="2.39" fill="#ee1cee" />
<circle cx="874.8" cy="457.15" r="2.46" fill="#ee1cee" />
<circle cx="855.77" cy="400.88" r="2.43" fill="#ee1cee" />
<circle cx="869.81" cy="443.15" r="2.17" fill="#ee1cee" />
<circle cx="861.79" cy="386.58" r="2.27" fill="#ee1cee" />
<circle cx="870.82" cy="444.01" r="1.85" fill="#ee1cee" />
<circle cx="859" cy="418.39" r="1.93" fill="#ee1cee" />
<polyline points="843.5,390.6 856.9,398" stroke="#ee1cee" fill="none" stroke-width="2.0" stroke-linejoin="round"/>
<circle cx="854.84" cy="397.47" r="1.8" fill="#ee1cee" />
<circle cx="849.23" cy="393.79" r="2.37" fill="#ee1cee" />
<circle cx="847.28" cy="393.19" r="2.08" fill="#ee1cee" />
<polyline points="747,392.8 760.3,383.2 766.3,381.7 776.7,389.1 787.1,396.5 793,395.1 796,386.1 802,383.2 807.9,384.7 816.8,393.6 825.7,404 831.6,406.9 840.5,406.9" stroke="#ee1cee" fill="none" stroke-width="2.0" stroke-linejoin="round"/>
<circle cx="788.98" cy="395.25" r="1.93" fill="#ee1cee" />
<circle cx="832.2" cy="406.74" r="2.49" fill="#ee1cee" />
<circle cx="829.67" cy="405.59" r="2.5" fill="#ee1cee" />
<circle cx="806.44" cy="384.31" r="2.64" fill="#ee1cee" />
<circle cx="808.67" cy="385.75" r="1.67" fill="#ee1cee" />
<circle cx="770.48" cy="384.07" r="1.68" fill="#ee1cee" />
<circle cx="829.51" cy="405.48" r="2.57" fill="#ee1cee" />
<circle cx="803.68" cy="382.71" r="2.57" fill="#ee1cee" />
<circle cx="819.69" cy="396.39" r="2.33" fill="#ee1cee" />
<circle cx="795.67" cy="386.35" r="2.56" fill="#ee1cee" />
<circle cx="797.69" cy="385.7" r="1.67" fill="#ee1cee" />
<circle cx="794.92" cy="391.47" r="1.67" fill="#ee1cee" />
<circle cx="793.48" cy="391.42" r="2.54" fill="#ee1cee" />
<circle cx="748" cy="391.78" r="2.18" fill="#ee1cee" />
<circle cx="809.77" cy="385.76" r="2" fill="#ee1cee" />
<circle cx="836.61" cy="407.29" r="2.26" fill="#ee1cee" />
<circle cx="749.03" cy="390.25" r="2.62" fill="#ee1cee" />
<circle cx="780.43" cy="391.16" r="2.08" fill="#ee1cee" />
<circle cx="829.66" cy="405.69" r="2.25" fill="#ee1cee" />
<circle cx="780.87" cy="391.36" r="2.07" fill="#ee1cee" />
<polyline points="787.1,396.5 785.6,402.5" stroke="#ee1cee" fill="none" stroke-width="2.0" stroke-linejoin="round"/>
<circle cx="786.36" cy="399.24" r="2.02" fill="#ee1cee" />
<circle cx="785.41" cy="398.66" r="1.85" fill="#ee1cee" />
<circle cx="785.27" cy="401.87" r="1.83" fill="#ee1cee" />
<polyline points="799,392.1 801.9,404 799,412.9 790,418.8 781.1,423.3 778.2,430.7 782.6,439.6 790,441.1" stroke="#ee1cee" fill="none" stroke-width="2.0" stroke-linejoin="round"/>
<circle cx="789.12" cy="419.54" r="2.45" fill="#ee1cee" />
<circle cx="798.11" cy="413.81" r="2.2" fill="#ee1cee" />
<circle cx="780.89" cy="423.76" r="2.37" fill="#ee1cee" />
<circle cx="782.33" cy="439.36" r="1.86" fill="#ee1cee" />
<circle cx="799.6" cy="393.77" r="2.23" fill="#ee1cee" />
<circle cx="780.6" cy="424.12" r="2.23" fill="#ee1cee" />
<circle cx="780.94" cy="422.39" r="2.22" fill="#ee1cee" />
<circle cx="779.92" cy="427.71" r="2.05" fill="#ee1cee" />
<circle cx="779.12" cy="432.18" r="1.54" fill="#ee1cee" />
<circle cx="779.93" cy="432.22" r="1.94" fill="#ee1cee" />
<circle cx="780.79" cy="434.84" r="1.81" fill="#ee1cee" />
<circle cx="798.89" cy="412.06" r="2.02" fill="#ee1cee" />
<polyline points="782.6,439.6 778.2,441.1 772.2,448.5" stroke="#ee1cee" fill="none" stroke-width="2.0" stroke-linejoin="round"/>
<circle cx="775.58" cy="444.47" r="2.18" fill="#ee1cee" />
<circle cx="782.87" cy="440.52" r="2.19" fill="#ee1cee" />
<circle cx="772.83" cy="447.64" r="1.96" fill="#ee1cee" />
<circle cx="777.4" cy="443.36" r="2.07" fill="#ee1cee" />
<polyline points="813.8,404 816.8,415.8 813.8,426.2 809.4,432.2 819.8,430.7 818.3,439.6" stroke="#ee1cee" fill="none" stroke-width="2.0" stroke-linejoin="round"/>
<circle cx="815.15" cy="424.42" r="1.75" fill="#ee1cee" />
<circle cx="815.73" cy="411.36" r="2.32" fill="#ee1cee" />
<circle cx="815.55" cy="409.84" r="2.54" fill="#ee1cee" />
<circle cx="816.34" cy="410.35" r="1.79" fill="#ee1cee" />
<circle cx="815.63" cy="431.49" r="2.43" fill="#ee1cee" />
<circle cx="815.16" cy="430.69" r="1.6" fill="#ee1cee" />
<circle cx="810.2" cy="431.42" r="2.62" fill="#ee1cee" />
<circle cx="817.59" cy="416.09" r="1.51" fill="#ee1cee" />
<circle cx="813.33" cy="403.82" r="1.6" fill="#ee1cee" />
<polyline points="828.7,409.9 828.7,441.1 825.7,470" stroke="#ee1cee" fill="none" stroke-width="2.0" stroke-linejoin="round"/>
<circle cx="828.65" cy="428.28" r="2.53" fill="#ee1cee" />
<circle cx="829.23" cy="439.41" r="2.19" fill="#ee1cee" />
<circle cx="828.55" cy="436.03" r="2.46" fill="#ee1cee" />
<circle cx="828.18" cy="431.12" r="2" fill="#ee1cee" />
<polyline points="837.6,418.8 836.1,448.5 834.6,470" stroke="#ee1cee" fill="none" stroke-width="2.0" stroke-linejoin="round"/>
<circle cx="836.93" cy="437.15" r="2.44" fill="#ee1cee" />
<circle cx="836.08" cy="448.04" r="2.67" fill="#ee1cee" />
<circle cx="835.91" cy="454.34" r="2.23" fill="#ee1cee" />
<circle cx="835.08" cy="468.14" r="1.87" fill="#ee1cee" />
<polyline points="846.5,415.8 852.4,448.5 855.4,470" stroke="#ee1cee" fill="none" stroke-width="2.0" stroke-linejoin="round"/>
<circle cx="851.13" cy="438.59" r="2.32" fill="#ee1cee" />
<circle cx="853.24" cy="447.67" r="1.84" fill="#ee1cee" />
<circle cx="846.46" cy="416.52" r="2.2" fill="#ee1cee" />
<circle cx="854.14" cy="459.87" r="2.5" fill="#ee1cee" />
<circle cx="847.27" cy="452.02" r="1.49" fill="#ee1cee" />
<circle cx="848.3" cy="455.63" r="1.94" fill="#ee1cee" />
<circle cx="842.11" cy="406.45" r="1.86" fill="#ee1cee" />
<circle cx="841.32" cy="390.53" r="1.46" fill="#ee1cee" />
<circle cx="842.71" cy="431.92" r="1.44" fill="#ee1cee" />
<circle cx="841.43" cy="396.21" r="1.62" fill="#ee1cee" />
<circle cx="844.5" cy="349" r="1.4" fill="#fff" />
<circle cx="841.8" cy="355.5" r="1.4" fill="#fff" />
<circle cx="826" cy="410" r="1.4" fill="#fff" />
<circle cx="860" cy="417" r="1.4" fill="#fff" />
<circle cx="848" cy="459" r="1.4" fill="#fff" />
<ellipse cx="858" cy="228.2" rx="9.6" ry="12.2" fill="#e61ee6" filter="url(#soft)"/>
<ellipse cx="857.2" cy="226.6" rx="8.4" ry="10.9" fill="#fff"/>
<path d="M850,219.5 C852,216 856,215 860,215.8" stroke="#3de63d" fill="none" stroke-width="2.0" />
<g filter="url(#soft)">
<polyline points="768,492 776,482 787,487.5 804,489 813,483 820,472 822,460" stroke="#ee1cee" fill="none" stroke-width="3.2" stroke-linejoin="round" stroke-linecap="round"/>
<circle cx="772.76" cy="485.36" r="2.08" fill="#ee1cee" />
<circle cx="807.95" cy="486.25" r="2.43" fill="#ee1cee" />
<circle cx="798.67" cy="488.29" r="2.03" fill="#ee1cee" />
<circle cx="776.95" cy="481.87" r="2.48" fill="#ee1cee" />
<circle cx="792.89" cy="488.01" r="1.85" fill="#ee1cee" />
<circle cx="821.7" cy="460.49" r="2.56" fill="#ee1cee" />
<circle cx="818.2" cy="476.66" r="2.21" fill="#ee1cee" />
<circle cx="802.66" cy="488.89" r="2.99" fill="#ee1cee" />
<circle cx="819.25" cy="470.42" r="2.11" fill="#ee1cee" />
<circle cx="815.53" cy="477.17" r="2.72" fill="#ee1cee" />
<circle cx="819.52" cy="473.55" r="1.85" fill="#ee1cee" />
<circle cx="778.74" cy="483.6" r="1.86" fill="#ee1cee" />
<circle cx="805.78" cy="487.57" r="2.94" fill="#ee1cee" />
<circle cx="821.84" cy="467.37" r="2.28" fill="#ee1cee" />
<polyline points="772,512 782,503 792,499 806,494" stroke="#ee1cee" fill="none" stroke-width="3.2" stroke-linejoin="round" stroke-linecap="round"/>
<circle cx="776.08" cy="508.71" r="2.48" fill="#ee1cee" />
<circle cx="793.92" cy="498.4" r="2.27" fill="#ee1cee" />
<circle cx="786.9" cy="503.24" r="2.99" fill="#ee1cee" />
<circle cx="779.04" cy="506.35" r="2.22" fill="#ee1cee" />
<circle cx="803.68" cy="494.42" r="1.86" fill="#ee1cee" />
<circle cx="797.85" cy="495.69" r="2.98" fill="#ee1cee" />
<circle cx="774.44" cy="511.6" r="2.93" fill="#ee1cee" />
<circle cx="793.78" cy="499.27" r="2.71" fill="#ee1cee" />
<polyline points="776,518 790,507 800,502 812,496 824,489" stroke="#ee1cee" fill="none" stroke-width="3.2" stroke-linejoin="round" stroke-linecap="round"/>
<circle cx="780.39" cy="514.88" r="1.95" fill="#ee1cee" />
<circle cx="798.6" cy="503.36" r="1.97" fill="#ee1cee" />
<circle cx="809.46" cy="498" r="2.03" fill="#ee1cee" />
<circle cx="778.1" cy="516.5" r="2.92" fill="#ee1cee" />
<circle cx="817.86" cy="492.5" r="2.34" fill="#ee1cee" />
<circle cx="781.68" cy="513.96" r="2.55" fill="#ee1cee" />
<circle cx="796.05" cy="504.83" r="2.37" fill="#ee1cee" />
<circle cx="806.06" cy="499.59" r="1.87" fill="#ee1cee" />
<circle cx="809.59" cy="496.85" r="2.84" fill="#ee1cee" />
<circle cx="787.4" cy="508.98" r="2.13" fill="#ee1cee" />
<polyline points="784,524 796,514 808,507 822,499 834,492" stroke="#ee1cee" fill="none" stroke-width="3.2" stroke-linejoin="round" stroke-linecap="round"/>
<circle cx="825.5" cy="497.23" r="2.39" fill="#ee1cee" />
<circle cx="799.19" cy="512.11" r="2.97" fill="#ee1cee" />
<circle cx="787.54" cy="521.11" r="2.05" fill="#ee1cee" />
<circle cx="806.92" cy="508.15" r="2.04" fill="#ee1cee" />
<circle cx="804.06" cy="510.78" r="2.91" fill="#ee1cee" />
<circle cx="788.04" cy="521.93" r="1.87" fill="#ee1cee" />
<circle cx="819.33" cy="502.32" r="1.82" fill="#ee1cee" />
<circle cx="823.84" cy="498.16" r="1.8" fill="#ee1cee" />
<circle cx="824.87" cy="496.95" r="2.32" fill="#ee1cee" />
<circle cx="829.68" cy="495.66" r="1.97" fill="#ee1cee" />
<polyline points="806,527 818,517 826,509 836,502 846,495" stroke="#ee1cee" fill="none" stroke-width="3.2" stroke-linejoin="round" stroke-linecap="round"/>
<circle cx="813.27" cy="519.83" r="2.04" fill="#ee1cee" />
<circle cx="810.06" cy="524.97" r="2.39" fill="#ee1cee" />
<circle cx="817.1" cy="519.06" r="2.65" fill="#ee1cee" />
<circle cx="837.61" cy="500.28" r="1.88" fill="#ee1cee" />
<circle cx="833.68" cy="503.57" r="1.87" fill="#ee1cee" />
<circle cx="837.25" cy="501.9" r="2.84" fill="#ee1cee" />
<circle cx="826.6" cy="510.32" r="2.37" fill="#ee1cee" />
<circle cx="840.56" cy="499.28" r="2.8" fill="#ee1cee" />
<circle cx="820.68" cy="515.38" r="2.51" fill="#ee1cee" />
<circle cx="805.32" cy="526.74" r="2.42" fill="#ee1cee" />
<polyline points="818,535 828,526 836,517 846,507" stroke="#ee1cee" fill="none" stroke-width="3.2" stroke-linejoin="round" stroke-linecap="round"/>
<circle cx="821.23" cy="530.36" r="2.84" fill="#ee1cee" />
<circle cx="827.27" cy="525.73" r="2.7" fill="#ee1cee" />
<circle cx="821.19" cy="531.95" r="2.39" fill="#ee1cee" />
<circle cx="831.6" cy="520.66" r="1.82" fill="#ee1cee" />
<circle cx="845.17" cy="508.41" r="1.92" fill="#ee1cee" />
<circle cx="825.46" cy="528.18" r="1.92" fill="#ee1cee" />
<circle cx="837.61" cy="515.58" r="2.52" fill="#ee1cee" />
<circle cx="833.01" cy="518.8" r="1.92" fill="#ee1cee" />
<polyline points="796,533 806,524 816,515" stroke="#ee1cee" fill="none" stroke-width="3.2" stroke-linejoin="round" stroke-linecap="round"/>
<circle cx="813.34" cy="517.11" r="1.95" fill="#ee1cee" />
<circle cx="805.22" cy="524.11" r="1.95" fill="#ee1cee" />
<circle cx="804.81" cy="526.51" r="2.83" fill="#ee1cee" />
<circle cx="797.76" cy="529.76" r="2" fill="#ee1cee" />
<circle cx="813.25" cy="517.83" r="2.3" fill="#ee1cee" />
<circle cx="812" cy="517.76" r="2.93" fill="#ee1cee" />
<polyline points="824,472 832,480 840,476 848,470 856,472 866,470" stroke="#ee1cee" fill="none" stroke-width="3.2" stroke-linejoin="round" stroke-linecap="round"/>
<circle cx="855.04" cy="472.34" r="2.2" fill="#ee1cee" />
<circle cx="842.2" cy="475.26" r="2.9" fill="#ee1cee" />
<circle cx="857.32" cy="471.55" r="2.42" fill="#ee1cee" />
<circle cx="864.54" cy="470.16" r="2.31" fill="#ee1cee" />
<circle cx="847.89" cy="470.88" r="1.88" fill="#ee1cee" />
<circle cx="840.5" cy="475.5" r="1.97" fill="#ee1cee" />
<circle cx="864.87" cy="468.43" r="2.56" fill="#ee1cee" />
<circle cx="858.13" cy="470.72" r="1.84" fill="#ee1cee" />
<circle cx="848.84" cy="471.44" r="2.13" fill="#ee1cee" />
<circle cx="845.91" cy="471.8" r="2.1" fill="#ee1cee" />
<circle cx="842.27" cy="473.75" r="2.15" fill="#ee1cee" />
<circle cx="834.94" cy="478.08" r="2.51" fill="#ee1cee" />
<polyline points="850,480 860,486 872,478 884,482 895,495" stroke="#ee1cee" fill="none" stroke-width="3.2" stroke-linejoin="round" stroke-linecap="round"/>
<circle cx="892.79" cy="493.08" r="2.36" fill="#ee1cee" />
<circle cx="875.74" cy="479.5" r="1.96" fill="#ee1cee" />
<circle cx="863.37" cy="483.75" r="2.09" fill="#ee1cee" />
<circle cx="852.73" cy="482.08" r="2.53" fill="#ee1cee" />
<circle cx="877.1" cy="479.37" r="2.65" fill="#ee1cee" />
<circle cx="870.63" cy="477.89" r="2.36" fill="#ee1cee" />
<circle cx="864.73" cy="483.43" r="2.41" fill="#ee1cee" />
<circle cx="867.97" cy="480.55" r="2.22" fill="#ee1cee" />
<circle cx="890.1" cy="490.14" r="2.39" fill="#ee1cee" />
<circle cx="864.18" cy="483.61" r="2.73" fill="#ee1cee" />
<polyline points="862,500 874,496 886,502 892,506" stroke="#ee1cee" fill="none" stroke-width="3.2" stroke-linejoin="round" stroke-linecap="round"/>
<circle cx="868.49" cy="498.99" r="2.33" fill="#ee1cee" />
<circle cx="863.3" cy="499.91" r="2.68" fill="#ee1cee" />
<circle cx="865.76" cy="500.85" r="2.69" fill="#ee1cee" />
<circle cx="866.49" cy="499.01" r="2.61" fill="#ee1cee" />
<circle cx="881.9" cy="498.31" r="2.42" fill="#ee1cee" />
<circle cx="884.62" cy="499.99" r="2.37" fill="#ee1cee" />
<circle cx="885.59" cy="500.32" r="1.95" fill="#ee1cee" />
<circle cx="889.79" cy="503.65" r="2.5" fill="#ee1cee" />
<ellipse cx="770" cy="527" rx="3.2" ry="5.2" fill="#ee1cee" transform="rotate(40 770 527)"/>
<ellipse cx="778" cy="524" rx="3.2" ry="5.2" fill="#ee1cee" transform="rotate(40 778 524)"/>
<ellipse cx="786" cy="528" rx="3.2" ry="5.2" fill="#ee1cee" transform="rotate(40 786 528)"/>
<ellipse cx="794" cy="525" rx="3.2" ry="5.2" fill="#ee1cee" transform="rotate(40 794 525)"/>
<ellipse cx="802" cy="531" rx="3.2" ry="5.2" fill="#ee1cee" transform="rotate(40 802 531)"/>
<ellipse cx="810" cy="533" rx="3.2" ry="5.2" fill="#ee1cee" transform="rotate(40 810 533)"/>
<ellipse cx="818" cy="534" rx="3.2" ry="5.2" fill="#ee1cee" transform="rotate(40 818 534)"/>
<ellipse cx="776" cy="535" rx="3.2" ry="5.2" fill="#ee1cee" transform="rotate(40 776 535)"/>
<ellipse cx="790" cy="537" rx="3.2" ry="5.2" fill="#ee1cee" transform="rotate(40 790 537)"/>
<ellipse cx="805" cy="538" rx="3.2" ry="5.2" fill="#ee1cee" transform="rotate(40 805 538)"/>
<ellipse cx="783" cy="533" rx="3.2" ry="5.2" fill="#ee1cee" transform="rotate(40 783 533)"/>
<ellipse cx="797" cy="534" rx="3.2" ry="5.2" fill="#ee1cee" transform="rotate(40 797 534)"/>
<ellipse cx="812" cy="526" rx="3.2" ry="5.2" fill="#ee1cee" transform="rotate(40 812 526)"/>
<ellipse cx="766" cy="521" rx="3.2" ry="5.2" fill="#ee1cee" transform="rotate(40 766 521)"/>
<ellipse cx="824" cy="530" rx="3.2" ry="5.2" fill="#ee1cee" transform="rotate(40 824 530)"/>
<circle cx="852.84" cy="505.01" r="1.69" fill="#ee1cee" />
<circle cx="842.63" cy="512.16" r="1.99" fill="#ee1cee" />
<circle cx="875.09" cy="481.06" r="1.96" fill="#ee1cee" />
<circle cx="827.12" cy="526.46" r="2" fill="#ee1cee" />
<circle cx="848.23" cy="520.56" r="2.79" fill="#ee1cee" />
<circle cx="872.01" cy="489.98" r="1.9" fill="#ee1cee" />
<circle cx="807.84" cy="508.83" r="1.8" fill="#ee1cee" />
<circle cx="828.1" cy="533.78" r="2.59" fill="#ee1cee" />
<circle cx="837.39" cy="528.09" r="2.68" fill="#ee1cee" />
<circle cx="836.84" cy="501.72" r="2.66" fill="#ee1cee" />
<circle cx="847.09" cy="513.38" r="2.2" fill="#ee1cee" />
<circle cx="866" cy="486.81" r="2.39" fill="#ee1cee" />
<circle cx="875.19" cy="488.58" r="2.38" fill="#ee1cee" />
<circle cx="892.23" cy="483.65" r="2.18" fill="#ee1cee" />
<circle cx="821.06" cy="508.89" r="2.34" fill="#ee1cee" />
<circle cx="864.19" cy="480.66" r="2.05" fill="#ee1cee" />
<circle cx="864.98" cy="492.63" r="2.79" fill="#ee1cee" />
<circle cx="830.24" cy="507.63" r="1.62" fill="#ee1cee" />
<circle cx="831.14" cy="519.69" r="2.66" fill="#ee1cee" />
<circle cx="845.44" cy="498.01" r="2.65" fill="#ee1cee" />
<circle cx="869.72" cy="479.95" r="2.56" fill="#ee1cee" />
<circle cx="809.84" cy="504.8" r="1.74" fill="#ee1cee" />
<circle cx="857.53" cy="475.18" r="2.79" fill="#ee1cee" />
<circle cx="829.53" cy="498.08" r="1.5" fill="#ee1cee" />
<circle cx="867.11" cy="478.1" r="2.59" fill="#ee1cee" />
<circle cx="863.46" cy="478.12" r="1.73" fill="#ee1cee" />
<circle cx="850.92" cy="473.86" r="2.66" fill="#ee1cee" />
<circle cx="869.84" cy="477.88" r="2.03" fill="#ee1cee" />
<circle cx="836.65" cy="513.4" r="2.16" fill="#ee1cee" />
<circle cx="834.45" cy="505.04" r="2.18" fill="#ee1cee" />
<circle cx="864.25" cy="477.37" r="1.58" fill="#ee1cee" />
<circle cx="825.27" cy="483.12" r="1.69" fill="#ee1cee" />
<circle cx="812.04" cy="509.84" r="1.85" fill="#ee1cee" />
<circle cx="843.87" cy="473.7" r="1.58" fill="#ee1cee" />
<circle cx="807.49" cy="508.06" r="1.57" fill="#ee1cee" />
<circle cx="856.01" cy="476.68" r="2.07" fill="#ee1cee" />
<circle cx="862.31" cy="481.54" r="1.71" fill="#ee1cee" />
<circle cx="865.19" cy="474.56" r="2.67" fill="#ee1cee" />
<circle cx="873.5" cy="499.54" r="2.75" fill="#ee1cee" />
<circle cx="881.71" cy="487.57" r="2.38" fill="#ee1cee" />
<circle cx="862.92" cy="482.23" r="2.64" fill="#ee1cee" />
<circle cx="897.93" cy="490.54" r="1.61" fill="#ee1cee" />
<circle cx="811.76" cy="509.99" r="2.76" fill="#ee1cee" />
<circle cx="828.97" cy="524.62" r="1.94" fill="#ee1cee" />
<circle cx="870.54" cy="499.21" r="2.75" fill="#ee1cee" />
<circle cx="882.27" cy="480.56" r="1.82" fill="#ee1cee" />
<circle cx="807.8" cy="506.89" r="2.07" fill="#ee1cee" />
<circle cx="831.25" cy="513.72" r="1.7" fill="#ee1cee" />
<circle cx="820.3" cy="509.36" r="2.59" fill="#ee1cee" />
<circle cx="806.55" cy="501.2" r="2.53" fill="#ee1cee" />
<circle cx="819.03" cy="512.85" r="2.44" fill="#ee1cee" />
<circle cx="868.93" cy="479.38" r="1.89" fill="#ee1cee" />
<circle cx="870.82" cy="487.8" r="2.09" fill="#ee1cee" />
<circle cx="841.27" cy="492.49" r="2.27" fill="#ee1cee" />
<circle cx="869.83" cy="483.49" r="1.82" fill="#ee1cee" />
<circle cx="858.9" cy="477.83" r="2.48" fill="#ee1cee" />
<circle cx="871.84" cy="483.31" r="2.46" fill="#ee1cee" />
<circle cx="893.66" cy="490.57" r="1.69" fill="#ee1cee" />
<circle cx="827.06" cy="503.79" r="1.73" fill="#ee1cee" />
<circle cx="809.91" cy="518.3" r="1.64" fill="#ee1cee" />
<circle cx="871.3" cy="473.34" r="2.49" fill="#ee1cee" />
<circle cx="821.32" cy="508.48" r="1.79" fill="#ee1cee" />
<circle cx="818.29" cy="495.79" r="1.96" fill="#ee1cee" />
<circle cx="881.24" cy="469.59" r="2.62" fill="#ee1cee" />
<circle cx="819.6" cy="502.59" r="1.98" fill="#ee1cee" />
<circle cx="836.44" cy="518.91" r="2.41" fill="#ee1cee" />
<circle cx="878.19" cy="505.43" r="1.96" fill="#ee1cee" />
<circle cx="831.85" cy="506.3" r="2.69" fill="#ee1cee" />
<circle cx="814.46" cy="502.21" r="1.55" fill="#ee1cee" />
<circle cx="802.8" cy="512.09" r="1.7" fill="#ee1cee" />
<circle cx="818" cy="493.63" r="2.72" fill="#ee1cee" />
<circle cx="866.16" cy="472.5" r="2.43" fill="#ee1cee" />
<circle cx="845.64" cy="514.64" r="2.25" fill="#ee1cee" />
<circle cx="841.66" cy="515.37" r="2.35" fill="#ee1cee" />
<circle cx="838.45" cy="486.88" r="2.4" fill="#ee1cee" />
<circle cx="814.08" cy="502.5" r="1.91" fill="#ee1cee" />
<circle cx="834.99" cy="516.6" r="2.4" fill="#ee1cee" />
<circle cx="891.82" cy="487.85" r="1.79" fill="#ee1cee" />
<circle cx="874.26" cy="484.48" r="2.05" fill="#ee1cee" />
<circle cx="830.3" cy="507.77" r="2.58" fill="#ee1cee" />
<circle cx="863" cy="487.26" r="1.77" fill="#ee1cee" />
<circle cx="867.94" cy="470.87" r="2.14" fill="#ee1cee" />
<circle cx="826.99" cy="509.22" r="2.55" fill="#ee1cee" />
<circle cx="837.18" cy="524.26" r="2.52" fill="#ee1cee" />
<circle cx="809.17" cy="502.93" r="1.58" fill="#ee1cee" />
<circle cx="832.98" cy="522.89" r="2.33" fill="#ee1cee" />
<circle cx="823.2" cy="516.85" r="2.37" fill="#ee1cee" />
<circle cx="814.76" cy="503.96" r="2.4" fill="#ee1cee" />
<circle cx="821.85" cy="501.35" r="1.89" fill="#ee1cee" />
</g>
<circle cx="835.47" cy="482.28" r="1.76" fill="#fff" />
<circle cx="823.93" cy="506.95" r="1.2" fill="#fff" />
<circle cx="834.38" cy="480.48" r="1.92" fill="#fff" />
<circle cx="877.6" cy="489.81" r="1.43" fill="#fff" />
<circle cx="890.43" cy="490.01" r="1.36" fill="#fff" />
<circle cx="830.37" cy="501.6" r="1.14" fill="#fff" />
<circle cx="783.95" cy="488.66" r="1.35" fill="#fff" />
<circle cx="837.39" cy="515.18" r="2.18" fill="#fff" />
<circle cx="831.49" cy="482" r="2.18" fill="#fff" />
<circle cx="887.19" cy="502.12" r="1.52" fill="#fff" />
<circle cx="873.68" cy="479.97" r="1.43" fill="#fff" />
<circle cx="827.67" cy="500.92" r="2.12" fill="#fff" />
<circle cx="878.15" cy="494.68" r="1.9" fill="#fff" />
<circle cx="835.76" cy="472.42" r="1.36" fill="#fff" />
<circle cx="842.75" cy="482.98" r="2.07" fill="#fff" />
<circle cx="843.1" cy="491.68" r="1.37" fill="#fff" />
<circle cx="784.38" cy="489.49" r="1.43" fill="#fff" />
<circle cx="864.28" cy="492.51" r="1.44" fill="#fff" />
<circle cx="880.15" cy="499.03" r="1.68" fill="#fff" />
<circle cx="840.97" cy="513.89" r="1.59" fill="#fff" />
<circle cx="824.41" cy="461.64" r="1.72" fill="#fff" />
<circle cx="834.26" cy="517.59" r="1.17" fill="#fff" />
<circle cx="833.97" cy="522.91" r="1.53" fill="#fff" />
<circle cx="873.72" cy="492.62" r="1.04" fill="#fff" />
<circle cx="833.96" cy="523.82" r="1.07" fill="#fff" />
<circle cx="834.11" cy="520.63" r="1.01" fill="#fff" />
<circle cx="839.97" cy="482.62" r="1.35" fill="#fff" />
<circle cx="828" cy="470.93" r="1.68" fill="#fff" />
<circle cx="829.04" cy="480.25" r="1.55" fill="#fff" />
<circle cx="848.09" cy="482.13" r="1.74" fill="#fff" />
<circle cx="833.08" cy="485.5" r="1.79" fill="#fff" />
<circle cx="837.38" cy="519.99" r="1.78" fill="#fff" />
<circle cx="886.52" cy="490.55" r="1.76" fill="#fff" />
<circle cx="874.54" cy="497.31" r="1.83" fill="#fff" />
<circle cx="835.94" cy="479.29" r="1.7" fill="#fff" />
<circle cx="831.11" cy="525.43" r="1.53" fill="#fff" />
<circle cx="883.8" cy="499.91" r="2.07" fill="#fff" />
<circle cx="833.71" cy="530.75" r="1.78" fill="#fff" />
<circle cx="865.28" cy="484.98" r="1.59" fill="#fff" />
<circle cx="826.77" cy="484.45" r="1.14" fill="#fff" />
<circle cx="836.49" cy="499.88" r="1.96" fill="#fff" />
<circle cx="841.31" cy="478.3" r="1.86" fill="#fff" />
<circle cx="823.11" cy="493.85" r="1.62" fill="#fff" />
<circle cx="827.93" cy="473.63" r="1.21" fill="#fff" />
<circle cx="857.66" cy="481.34" r="1.16" fill="#fff" />
<circle cx="832.46" cy="499.29" r="1.05" fill="#fff" />
<circle cx="867.58" cy="486.89" r="1.16" fill="#fff" />
<circle cx="824.66" cy="498.01" r="1.68" fill="#fff" />
<circle cx="789.04" cy="490.16" r="1.41" fill="#fff" />
<circle cx="835.4" cy="491.08" r="1.45" fill="#fff" />
<circle cx="786.87" cy="487.56" r="1.72" fill="#fff" />
<circle cx="829.25" cy="519.01" r="1.72" fill="#fff" />
<circle cx="842.03" cy="488.19" r="1.31" fill="#fff" />
<circle cx="871.36" cy="484.64" r="2.19" fill="#fff" />
<circle cx="826.62" cy="478.67" r="1.13" fill="#fff" />
<circle cx="884.02" cy="505.17" r="1.35" fill="#fff" />
<circle cx="835.75" cy="515.15" r="1.3" fill="#fff" />
<circle cx="881.27" cy="496.63" r="1.41" fill="#fff" />
<circle cx="833.41" cy="485.65" r="1.04" fill="#fff" />
<circle cx="841.45" cy="505.17" r="1.77" fill="#fff" />
<circle cx="838.77" cy="508.9" r="1.83" fill="#fff" />
<circle cx="819.63" cy="484.31" r="1.73" fill="#fff" />
<circle cx="828.07" cy="521.4" r="1.37" fill="#fff" />
<circle cx="836.99" cy="483.89" r="1.2" fill="#fff" />
<circle cx="786.68" cy="486.67" r="1.56" fill="#fff" />
<circle cx="786.11" cy="489.25" r="1.58" fill="#fff" />
<circle cx="881.9" cy="487" r="2.18" fill="#fff" />
<circle cx="827.42" cy="481.65" r="1.17" fill="#fff" />
<circle cx="832.31" cy="528.99" r="1.31" fill="#fff" />
<circle cx="839.05" cy="484.91" r="1.67" fill="#fff" />
<circle cx="838" cy="499.6" r="1.76" fill="#fff" />
<circle cx="829.35" cy="518.17" r="1.95" fill="#fff" />
<circle cx="836.58" cy="479.59" r="1.92" fill="#fff" />
<circle cx="783.46" cy="487.88" r="1.42" fill="#fff" />
<circle cx="829.84" cy="530.08" r="1.81" fill="#fff" />
<circle cx="817.52" cy="477.75" r="1.97" fill="#fff" />
<circle cx="787.99" cy="488.83" r="2.07" fill="#fff" />
<circle cx="822.68" cy="480.82" r="1.93" fill="#fff" />
<circle cx="836.09" cy="482.98" r="1.86" fill="#fff" />
<circle cx="878.52" cy="488.23" r="2.12" fill="#fff" />
<circle cx="788.45" cy="488.43" r="2.11" fill="#fff" />
<circle cx="836.75" cy="491.16" r="1.56" fill="#fff" />
<circle cx="831.37" cy="508.67" r="2.01" fill="#fff" />
<circle cx="788.62" cy="487.29" r="1.31" fill="#fff" />
<circle cx="834.45" cy="478.78" r="1.28" fill="#fff" />
<circle cx="835.2" cy="509.87" r="1.24" fill="#fff" />
<circle cx="887.6" cy="489.37" r="1.24" fill="#fff" />
<circle cx="841.92" cy="492.95" r="1.1" fill="#fff" />
<circle cx="786.95" cy="487.85" r="1.32" fill="#fff" />
<circle cx="825.33" cy="474.34" r="1.25" fill="#fff" />
<circle cx="787.39" cy="487.74" r="1.58" fill="#fff" />
<circle cx="789.28" cy="490.66" r="1.96" fill="#fff" />
<circle cx="828.84" cy="505.57" r="1.59" fill="#fff" />
<circle cx="832.8" cy="528.69" r="1.02" fill="#fff" />
<circle cx="780.19" cy="486.26" r="1.07" fill="#fff" />
<circle cx="787.27" cy="488.24" r="1.25" fill="#fff" />
<circle cx="829.03" cy="519.38" r="1.41" fill="#fff" />
<circle cx="835.02" cy="477.07" r="1.4" fill="#fff" />
<circle cx="883.54" cy="489.65" r="1.04" fill="#fff" />
<circle cx="874.15" cy="489.8" r="1.85" fill="#fff" />
<circle cx="873.67" cy="503.58" r="1.33" fill="#fff" />
<circle cx="889.08" cy="497.45" r="1.79" fill="#fff" />
<circle cx="789.06" cy="489.71" r="1.48" fill="#fff" />
<circle cx="838.46" cy="506.6" r="1.15" fill="#fff" />
<circle cx="866.64" cy="484.49" r="2.13" fill="#fff" />
<circle cx="786.58" cy="484.77" r="2.05" fill="#fff" />
<circle cx="834.34" cy="483.84" r="1.85" fill="#fff" />
<circle cx="830.67" cy="477.35" r="1.76" fill="#fff" />
<circle cx="789.02" cy="487.13" r="1.25" fill="#fff" />
<circle cx="841.6" cy="510.25" r="1.08" fill="#fff" />
<circle cx="831.3" cy="517.04" r="1.27" fill="#fff" />
<circle cx="825.43" cy="529.22" r="2.13" fill="#fff" />
<circle cx="873.81" cy="486.27" r="1.85" fill="#fff" />
<circle cx="872.71" cy="490.69" r="1.91" fill="#fff" />
<circle cx="872.29" cy="518.47" r="1.26" fill="#fff" />
<circle cx="828.77" cy="487.31" r="1.92" fill="#fff" />
<circle cx="839.44" cy="479.88" r="1.4" fill="#fff" />
<circle cx="828.1" cy="475.27" r="1.38" fill="#fff" />
<circle cx="826.31" cy="479.59" r="1.94" fill="#fff" />
<circle cx="791.13" cy="488.74" r="1.53" fill="#fff" />
<circle cx="841.52" cy="507.31" r="1.36" fill="#fff" />
<circle cx="835.17" cy="489.98" r="2.1" fill="#fff" />
<circle cx="839.94" cy="482.89" r="1.88" fill="#fff" />
<circle cx="832.05" cy="500.82" r="1.48" fill="#fff" />
<circle cx="828.22" cy="533.36" r="1.86" fill="#fff" />
<circle cx="787.64" cy="487.95" r="1.28" fill="#fff" />
<circle cx="840.91" cy="500.63" r="1.28" fill="#fff" />
<circle cx="830.94" cy="512.82" r="1.06" fill="#fff" />
<circle cx="788.11" cy="488.29" r="2.15" fill="#fff" />
<circle cx="837.72" cy="484.92" r="1.27" fill="#fff" />
<circle cx="834.64" cy="478.47" r="2.19" fill="#fff" />
<circle cx="790.35" cy="484.81" r="1.09" fill="#fff" />
<circle cx="886.54" cy="471.07" r="1.27" fill="#fff" />
<circle cx="831.55" cy="518.18" r="1.32" fill="#fff" />
<circle cx="835.23" cy="510.61" r="1.06" fill="#fff" />
<circle cx="786.76" cy="489.32" r="1.05" fill="#fff" />
<circle cx="821.14" cy="476.28" r="1.83" fill="#fff" />
<circle cx="874.35" cy="500.62" r="1.5" fill="#fff" />
<circle cx="835.01" cy="489.5" r="1.49" fill="#fff" />
<circle cx="842.55" cy="479.06" r="1.29" fill="#fff" />
<circle cx="875.51" cy="486.37" r="2.19" fill="#fff" />
<circle cx="870.01" cy="483.45" r="1.74" fill="#fff" />
<circle cx="835.6" cy="494.75" r="1.83" fill="#fff" />
<circle cx="785.92" cy="486.51" r="1.8" fill="#fff" />
<circle cx="826.17" cy="477.96" r="1.9" fill="#fff" />
<circle cx="820.65" cy="477.57" r="2.19" fill="#fff" />
<circle cx="879.23" cy="474.96" r="2.04" fill="#fff" />
<circle cx="786.41" cy="486.54" r="1.63" fill="#fff" />
<circle cx="791.02" cy="489.17" r="1.8" fill="#fff" />
<circle cx="878.82" cy="510.38" r="2.03" fill="#fff" />
<circle cx="784.18" cy="487.76" r="1.27" fill="#fff" />
<circle cx="844.16" cy="489.74" r="1.44" fill="#fff" />
<circle cx="855.76" cy="483.8" r="1.29" fill="#fff" />
<circle cx="841.39" cy="493.43" r="1.21" fill="#fff" />
<circle cx="831.52" cy="508.08" r="2.04" fill="#fff" />
<circle cx="834.65" cy="524.42" r="1.3" fill="#fff" />
<circle cx="827.13" cy="523.08" r="1.63" fill="#fff" />
<circle cx="876.72" cy="497.88" r="1.47" fill="#fff" />
<circle cx="824.52" cy="472.86" r="1.57" fill="#fff" />
<circle cx="838.13" cy="481.02" r="1.82" fill="#fff" />
<circle cx="783.34" cy="488.16" r="1.75" fill="#fff" />
<circle cx="787.61" cy="486.91" r="1.67" fill="#fff" />
<circle cx="832.13" cy="495.08" r="1.21" fill="#fff" />
<circle cx="885.33" cy="494.32" r="1.32" fill="#fff" />
<circle cx="830.78" cy="481.86" r="2.03" fill="#fff" />
<circle cx="887.71" cy="498.74" r="1.35" fill="#fff" />
<circle cx="790.49" cy="486.86" r="1.45" fill="#fff" />
<circle cx="832.83" cy="486.42" r="1.49" fill="#fff" />
<circle cx="875.27" cy="502.53" r="1.69" fill="#fff" />
<circle cx="889.41" cy="484.09" r="1.7" fill="#fff" />
<path d="M780.1,457.6 L786,478.4 L796.7,459.4 L786,466.4 Z" stroke="none" fill="#fff" stroke-width="1" />
<circle cx="877.6" cy="490.6" r="24" fill="none" stroke="#fff" stroke-width="2.3" stroke-dasharray="8,5"/>
<text x="704.5" y="559.3" font-size="22.8" fill="#ec0a8c" textLength="93.92" lengthAdjust="spacingAndGlyphs" >mKate2f</text>
<text x="704.22" y="586.5" font-size="22.8" fill="#3dad4b" textLength="219.02" lengthAdjust="spacingAndGlyphs" >FingR(PSD95)–GFP</text>
<line x1="1027.3" y1="128.5" x2="940" y2="321.83" stroke="#000" stroke-width="2.4" stroke-dasharray="11,7"/>
<line x1="940" y1="321.83" x2="878.6" y2="457.8" stroke="#fff" stroke-width="2.4" stroke-dasharray="11,7" stroke-dashoffset="-4"/>
<line x1="899.4" y1="512" x2="931.6" y2="512" stroke="#fff" stroke-width="2.4" stroke-dasharray="12,8.4"/>
<line x1="944" y1="512.6" x2="1019.7" y2="512.6" stroke="#000" stroke-width="2.5" stroke-dasharray="12.8,8.2"/>
<text x="977.02" y="27.18" font-size="32.11" font-weight="bold" fill="#000" textLength="24.07" lengthAdjust="spacingAndGlyphs" >d</text>
<text x="1149.19" y="28.2" font-size="25" fill="#000" textLength="30.41" lengthAdjust="spacingAndGlyphs" >ZT</text>
<line x1="1050.4" y1="100.3" x2="1272.9" y2="100.3" stroke="#000" stroke-width="2.2" />
<line x1="1051.5" y1="87.5" x2="1051.5" y2="101.4" stroke="#000" stroke-width="2.2" />
<line x1="1088" y1="87.5" x2="1088" y2="101.4" stroke="#000" stroke-width="2.2" />
<line x1="1124.8" y1="87.5" x2="1124.8" y2="101.4" stroke="#000" stroke-width="2.2" />
<line x1="1161.5" y1="87.5" x2="1161.5" y2="101.4" stroke="#000" stroke-width="2.2" />
<line x1="1198.2" y1="87.5" x2="1198.2" y2="101.4" stroke="#000" stroke-width="2.2" />
<line x1="1235" y1="87.5" x2="1235" y2="101.4" stroke="#000" stroke-width="2.2" />
<line x1="1271.8" y1="87.5" x2="1271.8" y2="101.4" stroke="#000" stroke-width="2.2" />
<text transform="translate(1048.9,80) rotate(-45)" font-size="24.2">10.5</text>
<text transform="translate(1085.4,80) rotate(-45)" font-size="24.2">13.0</text>
<text transform="translate(1122.2,80) rotate(-45)" font-size="24.2">15.5</text>
<text transform="translate(1158.9,80) rotate(-45)" font-size="24.2">18.0</text>
<text transform="translate(1195.6,80) rotate(-45)" font-size="24.2">20.5</text>
<text transform="translate(1232.4,80) rotate(-45)" font-size="24.2">23.0</text>
<text transform="translate(1269.2,80) rotate(-45)" font-size="24.2">1.5</text>
<line x1="1051.5" y1="134.3" x2="1271.8" y2="134.3" stroke="#7f7f7f" stroke-width="4.3" />
<circle cx="1051.5" cy="134.3" r="12.3" fill="#bfe27c" />
<circle cx="1088" cy="134.3" r="12.3" fill="#cee886" />
<circle cx="1124.8" cy="134.3" r="12.3" fill="#bfe27c" />
<circle cx="1161.5" cy="134.3" r="12.3" fill="#b2dc74" />
<circle cx="1198.2" cy="134.3" r="12.3" fill="#c9e682" />
<circle cx="1235" cy="134.3" r="12.3" fill="#6cbd63" />
<circle cx="1271.8" cy="134.3" r="12.3" fill="#8fcd67" />
<line x1="1302" y1="134.3" x2="1313.5" y2="134.3" stroke="#000" stroke-width="2.2" />
<text x="1322.6" y="142.8" font-size="24.6" text-anchor="start" font-weight="normal" font-style="normal" fill="#000" >95</text>
<line x1="1051.5" y1="170.1" x2="1271.8" y2="170.1" stroke="#7f7f7f" stroke-width="4.3" />
<circle cx="1051.5" cy="170.1" r="12.3" fill="#bfe27c" />
<circle cx="1088" cy="170.1" r="12.3" fill="#b2dc74" />
<circle cx="1124.8" cy="170.1" r="12.3" fill="#addb71" />
<circle cx="1161.5" cy="170.1" r="12.3" fill="#a0d569" />
<circle cx="1198.2" cy="170.1" r="12.3" fill="#7ec565" />
<circle cx="1235" cy="170.1" r="12.3" fill="#7ec565" />
<circle cx="1271.8" cy="170.1" r="12.3" fill="#7ec565" />
<line x1="1302" y1="170.1" x2="1313.5" y2="170.1" stroke="#000" stroke-width="2.2" />
<text x="1322.6" y="178.6" font-size="24.6" text-anchor="start" font-weight="normal" font-style="normal" fill="#000" >97</text>
<line x1="1051.5" y1="205.9" x2="1271.8" y2="205.9" stroke="#7f7f7f" stroke-width="4.3" />
<circle cx="1051.5" cy="205.9" r="12.3" fill="#bfe27c" />
<circle cx="1088" cy="205.9" r="12.3" fill="#a0d569" />
<circle cx="1124.8" cy="205.9" r="12.3" fill="#bbe079" />
<circle cx="1161.5" cy="205.9" r="12.3" fill="#c7e581" />
<circle cx="1198.2" cy="205.9" r="12.3" fill="#7ec565" />
<circle cx="1235" cy="205.9" r="12.3" fill="#a9d96f" />
<circle cx="1271.8" cy="205.9" r="12.3" fill="#8fcd67" />
<line x1="1302" y1="205.9" x2="1313.5" y2="205.9" stroke="#000" stroke-width="2.2" />
<text x="1322.6" y="214.4" font-size="24.6" text-anchor="start" font-weight="normal" font-style="normal" fill="#000" >98</text>
<line x1="1051.5" y1="241.7" x2="1271.8" y2="241.7" stroke="#7f7f7f" stroke-width="4.3" />
<circle cx="1051.5" cy="241.7" r="12.3" fill="#bfe27c" />
<circle cx="1088" cy="241.7" r="12.3" fill="#b2dc74" />
<circle cx="1124.8" cy="241.7" r="12.3" fill="#b8df78" />
<circle cx="1161.5" cy="241.7" r="12.3" fill="#9bd368" />
<circle cx="1198.2" cy="241.7" r="12.3" fill="#9bd368" />
<circle cx="1235" cy="241.7" r="12.3" fill="#addb71" />
<circle cx="1271.8" cy="241.7" r="12.3" fill="#95d067" />
<line x1="1302" y1="241.7" x2="1313.5" y2="241.7" stroke="#000" stroke-width="2.2" />
<text x="1322.6" y="250.2" font-size="24.6" text-anchor="start" font-weight="normal" font-style="normal" fill="#000" >103</text>
<line x1="1051.5" y1="277.5" x2="1271.8" y2="277.5" stroke="#7f7f7f" stroke-width="4.3" />
<circle cx="1051.5" cy="277.5" r="12.3" fill="#bfe27c" />
<circle cx="1088" cy="277.5" r="12.3" fill="#b2dc74" />
<circle cx="1124.8" cy="277.5" r="12.3" fill="#a0d569" />
<circle cx="1161.5" cy="277.5" r="12.3" fill="#95d067" />
<circle cx="1198.2" cy="277.5" r="12.3" fill="#b8df78" />
<circle cx="1235" cy="277.5" r="12.3" fill="#95d067" />
<circle cx="1271.8" cy="277.5" r="12.3" fill="#8fcd67" />
<line x1="1302" y1="277.5" x2="1313.5" y2="277.5" stroke="#000" stroke-width="2.2" />
<text x="1322.6" y="286" font-size="24.6" text-anchor="start" font-weight="normal" font-style="normal" fill="#000" >104</text>
<line x1="1051.5" y1="313.3" x2="1271.8" y2="313.3" stroke="#7f7f7f" stroke-width="4.3" />
<circle cx="1051.5" cy="313.3" r="12.3" fill="#b6de77" />
<circle cx="1088" cy="313.3" r="12.3" fill="#a0d569" />
<circle cx="1124.8" cy="313.3" r="12.3" fill="#addb71" />
<circle cx="1161.5" cy="313.3" r="12.3" fill="#c7e581" />
<circle cx="1198.2" cy="313.3" r="12.3" fill="#addb71" />
<circle cx="1235" cy="313.3" r="12.3" fill="#7ec565" />
<circle cx="1271.8" cy="313.3" r="12.3" fill="#9bd368" />
<line x1="1302" y1="313.3" x2="1313.5" y2="313.3" stroke="#000" stroke-width="2.2" />
<text x="1322.6" y="321.8" font-size="24.6" text-anchor="start" font-weight="normal" font-style="normal" fill="#000" >110</text>
<line x1="1051.5" y1="349.1" x2="1271.8" y2="349.1" stroke="#7f7f7f" stroke-width="4.3" />
<circle cx="1051.5" cy="349.1" r="12.3" fill="#9bd368" />
<circle cx="1088" cy="349.1" r="12.3" fill="#9bd368" />
<circle cx="1124.8" cy="349.1" r="12.3" fill="#a0d569" />
<circle cx="1161.5" cy="349.1" r="12.3" fill="#54b05d" />
<circle cx="1198.2" cy="349.1" r="12.3" fill="#a9d96f" />
<circle cx="1235" cy="349.1" r="12.3" fill="#8fcd67" />
<circle cx="1271.8" cy="349.1" r="12.3" fill="#a9d96f" />
<line x1="1302" y1="349.1" x2="1313.5" y2="349.1" stroke="#000" stroke-width="2.2" />
<text x="1322.6" y="357.6" font-size="24.6" text-anchor="start" font-weight="normal" font-style="normal" fill="#000" >115</text>
<line x1="1051.5" y1="384.9" x2="1124.8" y2="384.9" stroke="#7f7f7f" stroke-width="4.3" />
<circle cx="1051.5" cy="384.9" r="12.3" fill="#cee886" />
<circle cx="1088" cy="384.9" r="12.3" fill="#cbe784" />
<circle cx="1124.8" cy="384.9" r="12.3" fill="#c3e47f" />
<line x1="1302" y1="384.9" x2="1313.5" y2="384.9" stroke="#000" stroke-width="2.2" />
<text x="1322.6" y="393.4" font-size="24.6" text-anchor="start" font-weight="normal" font-style="normal" fill="#000" >19</text>
<line x1="1088" y1="420.7" x2="1198.2" y2="420.7" stroke="#7f7f7f" stroke-width="4.3" />
<circle cx="1088" cy="420.7" r="12.3" fill="#daed8e" />
<circle cx="1124.8" cy="420.7" r="12.3" fill="#ddef91" />
<circle cx="1161.5" cy="420.7" r="12.3" fill="#daed8e" />
<circle cx="1198.2" cy="420.7" r="12.3" fill="#d6ec8b" />
<line x1="1302" y1="420.7" x2="1313.5" y2="420.7" stroke="#000" stroke-width="2.2" />
<text x="1322.6" y="429.2" font-size="24.6" text-anchor="start" font-weight="normal" font-style="normal" fill="#000" >29</text>
<line x1="1198.2" y1="456.5" x2="1271.8" y2="456.5" stroke="#7f7f7f" stroke-width="4.3" />
<circle cx="1198.2" cy="456.5" r="12.3" fill="#d6ec8b" />
<circle cx="1235" cy="456.5" r="12.3" fill="#addb71" />
<circle cx="1271.8" cy="456.5" r="12.3" fill="#addb71" />
<line x1="1302" y1="456.5" x2="1313.5" y2="456.5" stroke="#000" stroke-width="2.2" />
<text x="1322.6" y="465" font-size="24.6" text-anchor="start" font-weight="normal" font-style="normal" fill="#000" >125</text>
<line x1="1235" y1="492.3" x2="1271.8" y2="492.3" stroke="#7f7f7f" stroke-width="4.3" />
<circle cx="1235" cy="492.3" r="12.3" fill="#9bd368" />
<circle cx="1271.8" cy="492.3" r="12.3" fill="#a9d96f" />
<line x1="1302" y1="492.3" x2="1313.5" y2="492.3" stroke="#000" stroke-width="2.2" />
<text x="1322.6" y="500.8" font-size="24.6" text-anchor="start" font-weight="normal" font-style="normal" fill="#000" >135</text>
<line x1="1302" y1="133.2" x2="1302" y2="493.4" stroke="#000" stroke-width="2.2" />
<text transform="translate(1400.2,398.9) rotate(-90)" x="-1.17" y="0" font-size="25" fill="#000" textLength="134.6" lengthAdjust="spacingAndGlyphs">Synapse ID</text>
<defs><linearGradient id="ylgn" x1="0" x2="1" y1="0" y2="0"><stop offset="0.00" stop-color="#f1f7a6"/><stop offset="0.05" stop-color="#eaf49e"/><stop offset="0.10" stop-color="#e3f197"/><stop offset="0.15" stop-color="#dcee8f"/><stop offset="0.20" stop-color="#d2ea89"/><stop offset="0.25" stop-color="#c9e682"/><stop offset="0.30" stop-color="#bfe27c"/><stop offset="0.35" stop-color="#b4dd75"/><stop offset="0.40" stop-color="#a9d96f"/><stop offset="0.45" stop-color="#9ed468"/><stop offset="0.50" stop-color="#8fcd67"/><stop offset="0.55" stop-color="#81c765"/><stop offset="0.60" stop-color="#72c064"/><stop offset="0.65" stop-color="#63b861"/><stop offset="0.70" stop-color="#54b05d"/><stop offset="0.75" stop-color="#45a85a"/><stop offset="0.80" stop-color="#369d54"/><stop offset="0.85" stop-color="#28924e"/><stop offset="0.90" stop-color="#1a8547"/><stop offset="0.95" stop-color="#0f7541"/><stop offset="1.00" stop-color="#03663a"/></linearGradient></defs>
<rect x="1039" y="540.4" width="314" height="29.2" fill="url(#ylgn)" />
<text x="1050.64" y="529.5" font-size="23" fill="#000" textLength="290.58" lengthAdjust="spacingAndGlyphs" >Normalized intensity (a.u.)</text>
<text x="1032.67" y="594.5" font-size="23.5" fill="#000" textLength="14.33" lengthAdjust="spacingAndGlyphs" >0</text>
<text x="1186.35" y="594.5" font-size="23.5" fill="#000" textLength="31.31" lengthAdjust="spacingAndGlyphs" >0.5</text>
<text x="1334.89" y="594.5" font-size="23.5" fill="#000" textLength="33.52" lengthAdjust="spacingAndGlyphs" >1.0</text>
<text x="15.4" y="652.94" font-size="31.05" font-weight="bold" fill="#000" textLength="22.19" lengthAdjust="spacingAndGlyphs" >e</text>
<circle cx="79.25" cy="667" r="11.3" fill="#00c0ee" />
<text x="100.94" y="677" font-size="23.5" fill="#000" textLength="150.13" lengthAdjust="spacingAndGlyphs" >LD 14 h–10 h</text>
<circle cx="79.25" cy="717" r="11.3" fill="#f290b7" />
<text x="100.8" y="727.5" font-size="23.5" fill="#000" textLength="29.63" lengthAdjust="spacingAndGlyphs" >LL</text>
<circle cx="79.25" cy="769.5" r="11.3" fill="#06a57e" />
<text x="100.94" y="779.25" font-size="23.5" fill="#000" textLength="33.26" lengthAdjust="spacingAndGlyphs" >FR</text>
<rect x="312.5" y="652.5" width="411.75" height="31.25" fill="#fff" stroke="#000" stroke-width="2.3"/>
<rect x="351.75" y="652.5" width="30.75" height="31.25" fill="#b6bbb8" stroke="#000" stroke-width="2.3"/>
<rect x="420.75" y="652.5" width="31" height="31.25" fill="#b6bbb8" stroke="#000" stroke-width="2.3"/>
<rect x="510.75" y="652.5" width="31.25" height="31.25" fill="#b6bbb8" stroke="#000" stroke-width="2.3"/>
<rect x="584.25" y="652.5" width="31.25" height="31.25" fill="#b6bbb8" stroke="#000" stroke-width="2.3"/>
<rect x="657.5" y="652.5" width="31.25" height="31.25" fill="#b6bbb8" stroke="#000" stroke-width="2.3"/>
<path d="M464,687.75 L482,646.5 L496,646.5 L478,687.75 Z" stroke="none" fill="#fff" stroke-width="1" />
<line x1="466.5" y1="687.75" x2="485" y2="646.5" stroke="#000" stroke-width="2.3" />
<line x1="475.5" y1="687.75" x2="494.5" y2="646.5" stroke="#000" stroke-width="2.3" />
<rect x="312.5" y="702.5" width="411.75" height="30.75" fill="#fff" stroke="#000" stroke-width="2.3"/>
<rect x="351.75" y="702.5" width="30.75" height="30.75" fill="#f9f4de" stroke="#000" stroke-width="2.3"/>
<rect x="420.75" y="702.5" width="31" height="30.75" fill="#f9f4de" stroke="#000" stroke-width="2.3"/>
<rect x="510.75" y="702.5" width="31.25" height="30.75" fill="#f9f4de" stroke="#000" stroke-width="2.3"/>
<rect x="584.25" y="702.5" width="31.25" height="30.75" fill="#f9f4de" stroke="#000" stroke-width="2.3"/>
<rect x="657.5" y="702.5" width="31.25" height="30.75" fill="#f9f4de" stroke="#000" stroke-width="2.3"/>
<path d="M464,737.25 L482,696.5 L496,696.5 L478,737.25 Z" stroke="none" fill="#fff" stroke-width="1" />
<line x1="466.5" y1="737.25" x2="485" y2="696.5" stroke="#000" stroke-width="2.3" />
<line x1="475.5" y1="737.25" x2="494.5" y2="696.5" stroke="#000" stroke-width="2.3" />
<rect x="312.5" y="755" width="411.75" height="30.75" fill="#fff" stroke="#000" stroke-width="2.3"/>
<rect x="351.75" y="755" width="30.75" height="30.75" fill="#b6bbb8" stroke="#000" stroke-width="2.3"/>
<rect x="420.75" y="755" width="31" height="30.75" fill="#b6bbb8" stroke="#000" stroke-width="2.3"/>
<rect x="510.75" y="755" width="31.25" height="30.75" fill="#b6bbb8" stroke="#000" stroke-width="2.3"/>
<rect x="584.25" y="755" width="31.25" height="30.75" fill="#f9f4de" stroke="#000" stroke-width="2.3"/>
<rect x="657.5" y="755" width="31.25" height="30.75" fill="#f9f4de" stroke="#000" stroke-width="2.3"/>
<path d="M464,789.75 L482,749 L496,749 L478,789.75 Z" stroke="none" fill="#fff" stroke-width="1" />
<line x1="466.5" y1="789.75" x2="485" y2="749" stroke="#000" stroke-width="2.3" />
<line x1="475.5" y1="789.75" x2="494.5" y2="749" stroke="#000" stroke-width="2.3" />
<line x1="614.75" y1="611" x2="614.75" y2="638" stroke="#000" stroke-width="2.2" />
<path d="M607.75,633 L621.75,633 L614.75,646.5 Z" stroke="none" fill="#000" stroke-width="1" />
<line x1="650.75" y1="611" x2="650.75" y2="638" stroke="#000" stroke-width="2.2" />
<path d="M643.75,633 L657.75,633 L650.75,646.5 Z" stroke="none" fill="#000" stroke-width="1" />
<line x1="689.5" y1="611" x2="689.5" y2="638" stroke="#000" stroke-width="2.2" />
<path d="M682.5,633 L696.5,633 L689.5,646.5 Z" stroke="none" fill="#000" stroke-width="1" />
<text x="309.83" y="813.2" font-size="21.5" fill="#000" textLength="66.33" lengthAdjust="spacingAndGlyphs" >0 d.p.f.</text>
<text x="392.1" y="813.2" font-size="21.5" fill="#000" textLength="67.13" lengthAdjust="spacingAndGlyphs" >1 d.p.f.</text>
<text x="543.41" y="813.2" font-size="21.5" fill="#000" textLength="66.55" lengthAdjust="spacingAndGlyphs" >6 d.p.f.</text>
<text x="621.41" y="813.2" font-size="21.5" fill="#000" textLength="66.55" lengthAdjust="spacingAndGlyphs" >7 d.p.f.</text>
<text x="703.58" y="813.2" font-size="21.5" fill="#000" textLength="66.38" lengthAdjust="spacingAndGlyphs" >8 d.p.f.</text>
<text x="783.06" y="652.5" font-size="31.03" font-weight="bold" fill="#000" textLength="13.11" lengthAdjust="spacingAndGlyphs" >f</text>
<rect x="1008.75" y="638" width="55.5" height="168.25" fill="#ebebeb" />
<rect x="1138.75" y="638" width="55.5" height="168.25" fill="#ebebeb" />
<rect x="1268" y="638" width="55.25" height="168.25" fill="#ebebeb" />
<path d="M957,732.53 L958,730.52 L959,737.26 L960,729.9 L961,730.56 L962,736.72 L963,730.2 L964,726.9 L965,733.5 L966,731.26 L967,725.5 L968,733.32 L969,730.85 L970,733.16 L971,738.38 L972,735.79 L973,740.94 L974,737.96 L975,742.71 L976,741.2 L977,740.67 L978,734.4 L979,732.89 L980,738.35 L981,740.03 L982,735.57 L983,736.22 L984,735.01 L985,738.97 L986,744.46 L987,740.57 L988,745.84 L989,744.83 L990,739.91 L991,742.68 L992,733.97 L993,736.7 L994,735.71 L995,733.26 L996,734.58 L997,734.17 L998,731.49 L999,734.16 L1000,738.98 L1001,736.37 L1002,737.01 L1003,736.39 L1004,734.39 L1005,739.62 L1006,741.91 L1007,743.67 L1008,747.33 L1009,731.23 L1010,744.13 L1011,740.04 L1012,736.77 L1013,731.32 L1014,741.1 L1015,734.61 L1016,740.19 L1017,735.68 L1018,737.25 L1019,732.85 L1020,740.06 L1021,738.31 L1022,736.08 L1023,729.17 L1024,742.03 L1025,739.77 L1026,733.21 L1027,738.14 L1028,740.22 L1029,743.62 L1030,733.86 L1031,736.17 L1032,735.91 L1033,737.79 L1034,743.7 L1035,742.52 L1036,742.54 L1037,736.27 L1038,741.78 L1039,750.25 L1040,743.55 L1041,741.56 L1042,737.67 L1043,737.27 L1044,737.73 L1045,740.8 L1046,738.13 L1047,740.22 L1048,737.22 L1049,732.44 L1050,734.24 L1051,735.93 L1052,732.49 L1053,728.91 L1054,736.35 L1055,738.76 L1056,740.53 L1057,736.79 L1058,740.91 L1059,744.25 L1060,741.01 L1061,737.8 L1062,738.42 L1063,743.19 L1064,735.46 L1065,732.83 L1066,732.23 L1067,732.6 L1068,733.92 L1069,733.16 L1070,732.2 L1071,739.61 L1072,730.66 L1073,725.49 L1074,725.9 L1075,733.5 L1076,729.85 L1077,735.59 L1078,733.9 L1079,733.53 L1080,738.7 L1081,736.52 L1082,740.47 L1083,728.73 L1084,726.36 L1085,730.92 L1086,735.38 L1087,734.83 L1088,722.8 L1089,731.13 L1090,732.98 L1091,731.83 L1092,722.93 L1093,728.1 L1094,722.31 L1095,723.68 L1096,724.73 L1097,723.08 L1098,729.07 L1099,730.55 L1100,730.46 L1101,731.01 L1102,725.48 L1103,727.32 L1104,728.89 L1105,730.54 L1106,724.34 L1107,725.11 L1108,727.46 L1109,733.26 L1110,732.19 L1111,724.3 L1112,732.37 L1113,734.51 L1114,735.3 L1115,738.06 L1116,729.12 L1117,730.77 L1118,735.3 L1119,733.42 L1120,730.48 L1121,734.16 L1122,736.88 L1123,729.21 L1124,742.24 L1125,737.6 L1126,735.62 L1127,733.91 L1128,736.58 L1129,732.99 L1130,738.89 L1131,735.03 L1132,730.4 L1133,731.18 L1134,736.95 L1135,736.89 L1136,735.97 L1137,741.78 L1138,734.36 L1139,733.89 L1140,739.28 L1141,725.77 L1142,734.19 L1143,731.5 L1144,736.93 L1145,743.82 L1146,738.76 L1147,737.12 L1148,736.05 L1149,736.36 L1150,743.77 L1151,741.29 L1152,747.05 L1153,745.87 L1154,737.71 L1155,739.7 L1156,742.6 L1157,743.82 L1158,744.1 L1159,740.04 L1160,745.34 L1161,738.92 L1162,745.15 L1163,735.11 L1164,738.9 L1165,740.09 L1166,744.3 L1167,737.42 L1168,740.51 L1169,741.2 L1170,735.76 L1171,743.75 L1172,743.23 L1173,752.23 L1174,742.07 L1175,747.47 L1176,743.14 L1177,740.29 L1178,733.3 L1179,746.92 L1180,743.17 L1181,746.77 L1182,744.22 L1183,748.82 L1184,746.38 L1185,744.76 L1186,736.16 L1187,731.64 L1188,742.9 L1189,739.57 L1190,742.06 L1191,745.43 L1192,749.81 L1193,740.53 L1194,736.86 L1195,738.73 L1196,734.17 L1197,742.53 L1198,742.6 L1199,739.8 L1200,741.73 L1201,743.72 L1202,742.79 L1203,743.64 L1204,749.94 L1205,746.83 L1206,747.36 L1207,746.57 L1208,746.57 L1209,749.39 L1210,745.61 L1211,752.79 L1212,746.82 L1213,746.44 L1214,748.53 L1215,744.3 L1216,745.08 L1217,743.66 L1218,737.9 L1219,744.79 L1220,748.1 L1221,745.28 L1222,745.45 L1223,747.44 L1224,740.66 L1225,738.18 L1226,741.88 L1227,743.12 L1228,748.48 L1229,746.18 L1230,742.06 L1231,748.21 L1232,746.01 L1233,748.39 L1234,739.82 L1235,745.47 L1236,739.09 L1237,747.24 L1238,740.86 L1239,735.23 L1240,738.56 L1241,744.94 L1242,740.44 L1243,738.85 L1244,739.74 L1245,737.56 L1246,736.42 L1247,735.7 L1248,736.36 L1249,732.63 L1250,732.66 L1251,739 L1252,741.27 L1253,739.33 L1254,743.04 L1255,737.78 L1256,742.23 L1257,734.29 L1258,731.25 L1259,737.26 L1260,738.64 L1261,733.57 L1262,736 L1263,741.19 L1264,735.17 L1265,735.35 L1266,737.32 L1267,733.11 L1268,738.31 L1269,734.71 L1270,733.48 L1271,740.14 L1272,741.7 L1273,736.49 L1274,742.96 L1275,742.95 L1276,742.41 L1277,743.11 L1278,747.36 L1279,745.06 L1280,745.18 L1281,741.17 L1282,751.54 L1283,748.3 L1284,741.57 L1285,752.42 L1286,750.15 L1287,748.07 L1288,744.07 L1289,745.42 L1290,739.76 L1291,744.89 L1292,748.29 L1293,747.81 L1294,744.84 L1295,749.58 L1296,743.97 L1297,745.85 L1298,744.78 L1299,742.02 L1300,745.05 L1301,744.12 L1302,745.87 L1303,748.65 L1304,750.84 L1305,752.27 L1306,754.41 L1307,752.62 L1308,753.7 L1309,749.42 L1310,747.24 L1311,746.77 L1312,744.28 L1313,742.8 L1314,748.46 L1315,749.71 L1316,752.18 L1317,746.87 L1318,749.96 L1319,747.31 L1320,742.26 L1321,749.23 L1322,746.47 L1323,752.72 L1324,759.03 L1325,757.24 L1326,747.69 L1327,755.95 L1328,748.9 L1329,750.78 L1330,748.34 L1331,750.23 L1332,750.76 L1333,754.54 L1334,749.8 L1335,747.1 L1336,744.53 L1337,752.29 L1338,746.19 L1339,744.61 L1340,741.47 L1341,745.27 L1342,745.68 L1343,755.93 L1344,753.83 L1345,749.48 L1346,750.23 L1347,755.95 L1348,754.02 L1349,750.63 L1349,772.35 L1348,771.59 L1347,774.94 L1346,770.63 L1345,773.14 L1344,772.35 L1343,772.81 L1342,769.92 L1341,767.9 L1340,766.43 L1339,768.91 L1338,767.35 L1337,769.15 L1336,771.15 L1335,773.64 L1334,771.22 L1333,773.55 L1332,773.96 L1331,770.11 L1330,773.81 L1329,771.1 L1328,773.16 L1327,772.5 L1326,770.68 L1325,777.56 L1324,777.35 L1323,771.62 L1322,772.19 L1321,769.83 L1320,770.38 L1319,769.17 L1318,766.27 L1317,773.96 L1316,770.95 L1315,774.92 L1314,767.62 L1313,768.31 L1312,767.18 L1311,767.5 L1310,769.25 L1309,767.33 L1308,769.44 L1307,775.69 L1306,772.02 L1305,775.75 L1304,773.31 L1303,769.15 L1302,770.35 L1301,771.41 L1300,769.97 L1299,769.18 L1298,763.52 L1297,765.3 L1296,765.44 L1295,769.21 L1294,765.99 L1293,773.37 L1292,769.15 L1291,767.06 L1290,764.43 L1289,770.63 L1288,770.38 L1287,767.77 L1286,774.46 L1285,773.73 L1284,769.35 L1283,767.84 L1282,773.34 L1281,768 L1280,771 L1279,767.77 L1278,771.95 L1277,766.97 L1276,767.91 L1275,762.7 L1274,768.98 L1273,766.39 L1272,771.17 L1271,764.59 L1270,757.6 L1269,759.71 L1268,762.08 L1267,759.27 L1266,760.97 L1265,762.35 L1264,766.33 L1263,765.5 L1262,760.74 L1261,761.78 L1260,758.45 L1259,758.82 L1258,763.42 L1257,759.84 L1256,769.68 L1255,762.47 L1254,766.65 L1253,764.1 L1252,767.35 L1251,764.8 L1250,754.23 L1249,760.7 L1248,764.54 L1247,762.08 L1246,767.92 L1245,757.92 L1244,766.61 L1243,758.84 L1242,760.89 L1241,770.93 L1240,759.85 L1239,763.79 L1238,763.85 L1237,770.42 L1236,762.85 L1235,763.45 L1234,766.35 L1233,772.35 L1232,769.9 L1231,772.26 L1230,762.99 L1229,767.3 L1228,766.89 L1227,768.95 L1226,764.01 L1225,765.93 L1224,766.89 L1223,765.48 L1222,764.33 L1221,770.43 L1220,766.78 L1219,766.28 L1218,768.56 L1217,764.56 L1216,769.88 L1215,767.51 L1214,769.36 L1213,774.09 L1212,768.9 L1211,772.99 L1210,772.37 L1209,769.79 L1208,769.96 L1207,766.64 L1206,774.22 L1205,771.41 L1204,770.96 L1203,767.06 L1202,767.71 L1201,766.11 L1200,765.34 L1199,768.89 L1198,762.31 L1197,766.02 L1196,762.8 L1195,767.61 L1194,764.15 L1193,768.5 L1192,766.75 L1191,767.18 L1190,768.41 L1189,767.64 L1188,762.62 L1187,763.17 L1186,763.75 L1185,765.05 L1184,767.07 L1183,771.69 L1182,764.06 L1181,767.44 L1180,765.29 L1179,764.54 L1178,758.75 L1177,769.17 L1176,767.89 L1175,765.56 L1174,763.79 L1173,771.82 L1172,764.99 L1171,764.32 L1170,765.81 L1169,763.95 L1168,766.72 L1167,763.09 L1166,766.39 L1165,761.37 L1164,768.88 L1163,765.7 L1162,768.31 L1161,760.07 L1160,764.88 L1159,764.29 L1158,768.39 L1157,765.62 L1156,765.74 L1155,765.41 L1154,762.51 L1153,764.29 L1152,771.56 L1151,770.86 L1150,767.95 L1149,764.15 L1148,767.02 L1147,762 L1146,767.38 L1145,772.44 L1144,766.23 L1143,753.9 L1142,756.63 L1141,755.79 L1140,761.27 L1139,761.73 L1138,761.13 L1137,763.87 L1136,760.6 L1135,760.33 L1134,762.23 L1133,757.6 L1132,760.22 L1131,757.56 L1130,763.63 L1129,763.78 L1128,763.73 L1127,761.12 L1126,758.65 L1125,764.12 L1124,767.03 L1123,755.47 L1122,757.13 L1121,758.03 L1120,760.54 L1119,761.5 L1118,759.98 L1117,760.07 L1116,753.13 L1115,762.27 L1114,756.04 L1113,759.28 L1112,756.28 L1111,752.59 L1110,755.44 L1109,757.61 L1108,759.64 L1107,755.54 L1106,757.27 L1105,758.92 L1104,754.22 L1103,757.29 L1102,751.26 L1101,755.11 L1100,757.9 L1099,759.78 L1098,752.4 L1097,753.81 L1096,750.56 L1095,754.11 L1094,754.23 L1093,759.21 L1092,752.01 L1091,759.07 L1090,756.23 L1089,759.72 L1088,751.29 L1087,760.48 L1086,760.06 L1085,762.96 L1084,757.23 L1083,756.26 L1082,763.56 L1081,756.47 L1080,757.75 L1079,756.46 L1078,764.73 L1077,757.25 L1076,760 L1075,756.45 L1074,755.23 L1073,755.45 L1072,757.26 L1071,758.73 L1070,758.33 L1069,756.74 L1068,755.2 L1067,760.16 L1066,757.48 L1065,756.95 L1064,760.2 L1063,760.96 L1062,761.43 L1061,757.17 L1060,762.29 L1059,763.7 L1058,762.72 L1057,761.05 L1056,759.92 L1055,762.07 L1054,761.36 L1053,756.68 L1052,760.44 L1051,762.21 L1050,758.92 L1049,759.77 L1048,763.84 L1047,762.78 L1046,758.44 L1045,759.5 L1044,764.12 L1043,763.98 L1042,767.62 L1041,765.75 L1040,770.65 L1039,774.2 L1038,764.2 L1037,763.68 L1036,769.6 L1035,761.83 L1034,763.77 L1033,765.36 L1032,760.94 L1031,765.59 L1030,760.44 L1029,764.66 L1028,763.21 L1027,762.98 L1026,760.43 L1025,763.64 L1024,768.11 L1023,758.62 L1022,761.17 L1021,767.53 L1020,765.43 L1019,760.92 L1018,767.02 L1017,759.37 L1016,761.14 L1015,761.29 L1014,762.52 L1013,755.92 L1012,765.7 L1011,765.88 L1010,763.61 L1009,761.54 L1008,765.09 L1007,763.44 L1006,767.63 L1005,766.45 L1004,758.71 L1003,762.25 L1002,760.44 L1001,760.47 L1000,761.59 L999,760.52 L998,760.13 L997,759.5 L996,756.93 L995,760.12 L994,762.35 L993,762.87 L992,759.79 L991,764.58 L990,765.62 L989,769.62 L988,766.89 L987,767.33 L986,766.66 L985,761.08 L984,764.68 L983,762.43 L982,764.47 L981,764.73 L980,766.63 L979,760.84 L978,759.64 L977,765.79 L976,765.39 L975,763.99 L974,764.62 L973,764.25 L972,760.98 L971,759.25 L970,761.38 L969,755.45 L968,759.98 L967,751.91 L966,756.43 L965,761.3 L964,760.41 L963,757.22 L962,758.48 L961,757.65 L960,761.91 L959,762.71 L958,755.24 L957,764.01 Z" stroke="none" fill="#e58fbd" stroke-width="1" fill-opacity="0.25"/>
<polyline points="957,747.39 958,743.85 959,748.12 960,744.76 961,746.52 962,747.33 963,741.54 964,743.49 965,744.95 966,743.4 967,741.4 968,743.62 969,742.88 970,746.9 971,747.53 972,748.19 973,751.2 974,753.33 975,754.86 976,751.85 977,750.31 978,750.09 979,749.03 980,752.55 981,750.96 982,749.44 983,747.42 984,750.92 985,751.59 986,756.05 987,754.09 988,757.68 989,757.27 990,750.08 991,755.5 992,749.87 993,748.29 994,749.19 995,747.43 996,746.29 997,744.21 998,746.64 999,748.8 1000,749.84 1001,751.5 1002,749.7 1003,750.87 1004,746.27 1005,752.19 1006,752.98 1007,752.98 1008,756.16 1009,746.59 1010,753.85 1011,751.76 1012,751.49 1013,745.4 1014,752.56 1015,747.79 1016,750.49 1017,750.35 1018,751.81 1019,749.05 1020,752.63 1021,751.65 1022,750.09 1023,745.4 1024,754.62 1025,748.75 1026,747.49 1027,750.8 1028,750.45 1029,752.44 1030,747.93 1031,749.38 1032,751.24 1033,752.2 1034,752.61 1035,752.75 1036,754.68 1037,747.85 1038,754.97 1039,763.04 1040,757.82 1041,755.06 1042,752.19 1043,752.19 1044,751.93 1045,750.4 1046,747.81 1047,750.23 1048,751.13 1049,745.19 1050,745.94 1051,750.41 1052,743.52 1053,744.23 1054,748.25 1055,751.79 1056,749.44 1057,751.3 1058,752.78 1059,754.11 1060,752.52 1061,747.16 1062,748.69 1063,752.21 1064,747.99 1065,747.44 1066,744.88 1067,742.49 1068,745.06 1069,746.18 1070,746.36 1071,749.44 1072,745.76 1073,741.82 1074,743.16 1075,744.91 1076,745.67 1077,747.4 1078,748.2 1079,747.3 1080,747.99 1081,747.02 1082,749.73 1083,745.3 1084,743.82 1085,746.49 1086,751.1 1087,746.46 1088,740.68 1089,743.14 1090,743.48 1091,744.05 1092,740.66 1093,743.68 1094,739.48 1095,741.25 1096,738.45 1097,739.73 1098,741.16 1099,745.62 1100,745.47 1101,744.41 1102,741.26 1103,741.08 1104,743.92 1105,742.21 1106,739.8 1107,742.08 1108,744.22 1109,745.29 1110,742.46 1111,741.99 1112,746.15 1113,744.6 1114,746.43 1115,748.26 1116,743.48 1117,742.36 1118,746.28 1119,746.02 1120,744.77 1121,747.45 1122,747.39 1123,745.2 1124,751.12 1125,748.18 1126,745.62 1127,745.07 1128,750.05 1129,747.96 1130,750.29 1131,747.6 1132,746.26 1133,746.79 1134,749.87 1135,751.04 1136,747.75 1137,751.03 1138,748.95 1139,747.98 1140,749.75 1141,743.48 1142,746.77 1143,742.91 1144,752.33 1145,757.75 1146,751.89 1147,750 1148,751.7 1149,751.97 1150,757.12 1151,756.35 1152,757.1 1153,755.4 1154,751.7 1155,752.11 1156,751.56 1157,754.16 1158,754.84 1159,753.82 1160,754.41 1161,750.75 1162,754.56 1163,749.35 1164,754.26 1165,751.51 1166,754.81 1167,750.19 1168,751.79 1169,751.92 1170,751.08 1171,754.23 1172,756.86 1173,760.72 1174,754.26 1175,755.98 1176,756.57 1177,755.41 1178,749.62 1179,756.33 1180,754.57 1181,755.36 1182,753.35 1183,758.38 1184,757.27 1185,753.51 1186,749.77 1187,747.81 1188,753.16 1189,753.49 1190,754.08 1191,757.24 1192,758.79 1193,753.6 1194,752.12 1195,752.2 1196,749.29 1197,753.9 1198,752.41 1199,753.23 1200,754.03 1201,754.55 1202,756.47 1203,758.08 1204,759.76 1205,757.62 1206,760.45 1207,758.57 1208,758.35 1209,760.27 1210,758.31 1211,761.05 1212,757.36 1213,760.05 1214,760.42 1215,758.4 1216,755.92 1217,754.27 1218,753.25 1219,755.27 1220,757.95 1221,755.28 1222,754.35 1223,756.88 1224,752.99 1225,752.81 1226,755.79 1227,753.59 1228,757 1229,757.48 1230,754.31 1231,757.77 1232,755.26 1233,757.58 1234,753.19 1235,754.77 1236,753.09 1237,756.63 1238,755.27 1239,751.1 1240,750.24 1241,755.84 1242,751.22 1243,748.92 1244,751.08 1245,747.29 1246,751.96 1247,751.61 1248,748.14 1249,745.79 1250,744.62 1251,750.39 1252,755.06 1253,751.44 1254,754.52 1255,752.44 1256,754.75 1257,749.61 1258,747.81 1259,747.66 1260,749.11 1261,749.83 1262,751.19 1263,750.11 1264,750 1265,749.46 1266,751.64 1267,746.58 1268,748.44 1269,746.49 1270,745.76 1271,751.47 1272,756.59 1273,751.54 1274,753.48 1275,753.36 1276,754.33 1277,753.95 1278,757.31 1279,756.33 1280,756.9 1281,756.19 1282,761.87 1283,756.84 1284,755.71 1285,760.47 1286,760.34 1287,758.43 1288,756.06 1289,756.51 1290,753.36 1291,755.25 1292,758.81 1293,759.85 1294,756.93 1295,758.89 1296,756.36 1297,754.73 1298,755.05 1299,754.23 1300,756.81 1301,757.74 1302,759.67 1303,760.74 1304,763.64 1305,762.69 1306,763.52 1307,764.85 1308,761.75 1309,759.52 1310,760.37 1311,756.74 1312,756.01 1313,755.45 1314,759.18 1315,763.22 1316,760.39 1317,759.63 1318,758.3 1319,758.44 1320,756.55 1321,759.24 1322,758.31 1323,761.56 1324,766.54 1325,764.6 1326,759.01 1327,763.76 1328,759.74 1329,761.76 1330,762.1 1331,761.22 1332,760.38 1333,762.78 1334,761.37 1335,759.9 1336,758.24 1337,761.19 1338,757.18 1339,754.34 1340,751.71 1341,759.31 1342,759.52 1343,764.45 1344,761.6 1345,759.76 1346,762.88 1347,765.49 1348,762.57 1349,760.07" stroke="#e58fbd" fill="none" stroke-width="3.4" stroke-linejoin="round"/>
<path d="M957,678.64 L958,679.42 L959,676.65 L960,679.97 L961,673.73 L962,679.83 L963,683.17 L964,684.35 L965,685.56 L966,686.73 L967,689.53 L968,685.11 L969,679.12 L970,685.35 L971,680.5 L972,683.81 L973,682.44 L974,679.63 L975,682.53 L976,676.42 L977,685.84 L978,685.64 L979,681.76 L980,688.29 L981,678.05 L982,675.83 L983,681.81 L984,680.58 L985,695.56 L986,692.02 L987,677.16 L988,684.19 L989,684.16 L990,690.69 L991,690.23 L992,695.33 L993,700.25 L994,699.23 L995,702.94 L996,699.78 L997,712.17 L998,721.3 L999,719.9 L1000,722.79 L1001,722.21 L1002,725.97 L1003,731.14 L1004,723.15 L1005,721.93 L1006,718.55 L1006.5,727.2 L1007,694.49 L1007.5,649.42 L1008,660.35 L1009,697.24 L1010,735.06 L1011,780.25 L1012,781.55 L1013,784.2 L1014,782.28 L1015,784.51 L1016,785.41 L1017,788.38 L1018,789.76 L1019,790 L1020,789.89 L1021,787.35 L1022,789.83 L1023,789.46 L1024,789.33 L1025,788.06 L1026,789.34 L1027,788.35 L1028,788.27 L1029,787.54 L1030,789.06 L1031,788.28 L1032,789.94 L1033,791.37 L1034,789.89 L1035,789.07 L1036,790.3 L1037,788.88 L1038,789.5 L1039,789.37 L1040,793.87 L1041,792.69 L1042,791.19 L1043,792.6 L1044,793 L1045,791.18 L1046,791.5 L1047,789.89 L1048,790.83 L1049,791.77 L1050,790.77 L1051,791.51 L1052,792.04 L1053,791.16 L1054,791.28 L1055,791.63 L1056,792.46 L1057,792.44 L1058,792.35 L1059,790.79 L1060,789.55 L1061,790.63 L1062,791.07 L1062.5,794.23 L1063,758.75 L1064,689.11 L1064.5,653.76 L1065,657.88 L1066,675.63 L1067,656.49 L1068,658.13 L1069,655.25 L1070,654.86 L1071,648.36 L1072,657.29 L1073,648.2 L1074,665.91 L1075,657.97 L1076,660.47 L1077,662.99 L1078,665.57 L1079,674.51 L1080,663.87 L1081,673.13 L1082,674.15 L1083,671.55 L1084,669.6 L1085,663.62 L1086,664.69 L1087,659.75 L1088,659.82 L1089,656.07 L1090,675.46 L1091,672.82 L1092,668.28 L1093,671.98 L1094,675.62 L1095,674.39 L1096,683.16 L1097,676.22 L1098,677.25 L1099,679.15 L1100,666.61 L1101,659.75 L1102,664.71 L1103,671.3 L1104,669.65 L1105,679.9 L1106,684.37 L1107,675.02 L1108,676.11 L1109,674.4 L1110,665.98 L1111,663.67 L1112,667.18 L1113,665.43 L1114,675.46 L1115,675.36 L1116,676.45 L1117,677.12 L1118,688.48 L1119,678.67 L1120,687.11 L1121,687.19 L1122,690.63 L1123,687.14 L1124,687.42 L1125,685.98 L1126,691.04 L1127,692.48 L1128,701.42 L1129,703.99 L1130,706.97 L1131,706.97 L1132,711.65 L1133,720.22 L1134,722.4 L1135,724.06 L1136,726.9 L1137,733.04 L1137.5,731.58 L1138,680.4 L1138.5,637.67 L1139,667.96 L1140,721.77 L1141,757.22 L1141.5,776.59 L1142,775.35 L1143,780.96 L1144,780.52 L1145,782.83 L1146,784.18 L1147,783.29 L1148,784.56 L1149,785.92 L1150,785.29 L1151,785.56 L1152,786.42 L1153,786.31 L1154,788.48 L1155,787.94 L1156,788.32 L1157,789.82 L1158,788.76 L1159,787.03 L1160,786.3 L1161,785.6 L1162,788.29 L1163,785.67 L1164,784.82 L1165,787.71 L1166,788.23 L1167,789.13 L1168,787.48 L1169,786.64 L1170,787.6 L1171,790.93 L1172,785.7 L1173,785.46 L1174,785.9 L1175,788.2 L1176,787.47 L1177,786.58 L1178,788.18 L1179,786.37 L1180,788.48 L1181,786.61 L1182,787.51 L1183,786.6 L1184,789.2 L1185,787.31 L1186,787.71 L1187,788.94 L1188,788.87 L1189,789.14 L1190,788.63 L1191,788.55 L1192,787.4 L1193,786.82 L1193.5,786.69 L1194,731.55 L1195,632.11 L1196,642.51 L1197,646.97 L1198,649.35 L1199,654.6 L1200,651.1 L1201,653.61 L1202,661.3 L1203,652.18 L1204,663.6 L1205,660.87 L1206,661.08 L1207,660.78 L1208,647.25 L1209,651.84 L1210,654.98 L1211,658.09 L1212,663.08 L1213,672.62 L1214,666.52 L1215,668.13 L1216,671.65 L1217,667.48 L1218,669.98 L1219,659.8 L1220,663.1 L1221,668.6 L1222,672.67 L1223,671.58 L1224,679.3 L1225,684.08 L1226,674.99 L1227,678.38 L1228,678.64 L1229,671.06 L1230,678.09 L1231,679.01 L1232,682.05 L1233,688.9 L1234,682.48 L1235,684.7 L1236,685.45 L1237,687.27 L1238,688.27 L1239,689.55 L1240,689.08 L1241,688.91 L1242,696.92 L1243,693.3 L1244,685.26 L1245,688.77 L1246,688.77 L1247,700.21 L1248,696.76 L1249,705.74 L1250,701.7 L1251,696.88 L1252,704.01 L1253,695.31 L1254,708.5 L1255,713.26 L1256,704.7 L1257,705.16 L1258,712.79 L1259,715.07 L1260,721.48 L1261,717.98 L1262,723.73 L1263,720.36 L1264,728.13 L1265,733.42 L1266,732.15 L1266.5,733.75 L1267,690.18 L1267.5,660.46 L1268,680.87 L1269,734.44 L1270,763.58 L1270.5,776.26 L1271,777.6 L1272,779.09 L1273,782.26 L1274,785.44 L1275,784.71 L1276,781.87 L1277,781.09 L1278,785.48 L1279,785.72 L1280,786.08 L1281,784.61 L1282,787.63 L1283,787.19 L1284,786.25 L1285,785.29 L1286,786.21 L1287,782.49 L1288,785.26 L1289,787.05 L1290,784.68 L1291,785.21 L1292,785.36 L1293,784.72 L1294,784.17 L1295,785.92 L1296,785.94 L1297,785.23 L1298,786.77 L1299,785.67 L1300,786.79 L1301,787.98 L1302,786.2 L1303,789.55 L1304,788.69 L1305,790.02 L1306,787.95 L1307,788.29 L1308,784.92 L1309,785.39 L1310,787.87 L1311,786.48 L1312,787.73 L1313,788.39 L1314,787.25 L1315,786.41 L1316,783.98 L1317,782.8 L1318,787.26 L1319,788.48 L1320,789.27 L1321,788.76 L1322,788.73 L1322.5,787.67 L1323,744.93 L1324,657.34 L1325,648.77 L1326,651.87 L1327,654.45 L1328,665.1 L1329,657.95 L1330,661.11 L1331,669.92 L1332,673.19 L1333,677.35 L1334,685.61 L1335,691.12 L1336,689.18 L1337,693.99 L1338,694.23 L1339,694.61 L1340,695.82 L1341,701.25 L1342,699.96 L1343,698.69 L1344,704.92 L1345,704.24 L1346,710.9 L1347,711.79 L1348,717.38 L1349,714.64 L1349,738.62 L1348,741.85 L1347,737.8 L1346,733.76 L1345,730.9 L1344,727.29 L1343,729.88 L1342,726.23 L1341,727.08 L1340,725.73 L1339,728.54 L1338,722.36 L1337,721.31 L1336,719.87 L1335,724.86 L1334,718.56 L1333,715.99 L1332,713.05 L1331,705.59 L1330,697.98 L1329,695.25 L1328,704.72 L1327,690.41 L1326,692.3 L1325,683.67 L1324,692.64 L1323,760.58 L1322.5,792.78 L1322,794.56 L1321,793.83 L1320,794.19 L1319,794.31 L1318,792.95 L1317,790.15 L1316,790.96 L1315,791.87 L1314,793.29 L1313,793.21 L1312,793.17 L1311,793.97 L1310,792.95 L1309,790.75 L1308,791.83 L1307,793.68 L1306,793.88 L1305,794.93 L1304,794.01 L1303,794.24 L1302,792.5 L1301,794.36 L1300,793.26 L1299,791.39 L1298,793.02 L1297,791.73 L1296,792.33 L1295,791.44 L1294,790.41 L1293,790.56 L1292,792.94 L1291,792.49 L1290,791.67 L1289,792.02 L1288,790.47 L1287,789.95 L1286,792.2 L1285,791.31 L1284,791.85 L1283,792.65 L1282,793.42 L1281,791.65 L1280,792.01 L1279,791.5 L1278,791.48 L1277,788.14 L1276,788.32 L1275,791.92 L1274,790.35 L1273,789.42 L1272,786.61 L1271,786.66 L1270.5,784.63 L1270,774.21 L1269,751.93 L1268,711.83 L1267.5,690.34 L1267,717.25 L1266.5,754.31 L1266,753.09 L1265,753.81 L1264,745.68 L1263,743.99 L1262,746.49 L1261,742.15 L1260,740.58 L1259,739.14 L1258,738.62 L1257,730.14 L1256,735.75 L1255,740.7 L1254,734.81 L1253,724.98 L1252,727.25 L1251,730.4 L1250,724.07 L1249,731.98 L1248,728.89 L1247,730.62 L1246,719.08 L1245,715.9 L1244,720.21 L1243,717.41 L1242,727.01 L1241,722.22 L1240,719.97 L1239,718.6 L1238,719.58 L1237,715.68 L1236,718 L1235,711.67 L1234,716.25 L1233,714.22 L1232,714.93 L1231,714.06 L1230,711.78 L1229,705.73 L1228,709.85 L1227,714.86 L1226,708.64 L1225,711.86 L1224,712.47 L1223,698.18 L1222,706.73 L1221,699.69 L1220,707.17 L1219,697.79 L1218,700.67 L1217,698.97 L1216,706.04 L1215,706.57 L1214,701.08 L1213,706.64 L1212,702.22 L1211,698.01 L1210,693.4 L1209,693.66 L1208,695 L1207,698.28 L1206,698.94 L1205,695.99 L1204,692.97 L1203,694.26 L1202,689.61 L1201,699.26 L1200,690.04 L1199,693.19 L1198,680.71 L1197,684.52 L1196,685.65 L1195,679.6 L1194,750.95 L1193.5,792.61 L1193,791.68 L1192,794.25 L1191,794.43 L1190,793.53 L1189,794.38 L1188,794.69 L1187,795.41 L1186,794.02 L1185,793.3 L1184,795.32 L1183,792.76 L1182,793.35 L1181,792.94 L1180,794.54 L1179,792.25 L1178,794.4 L1177,792.49 L1176,794.42 L1175,794.16 L1174,792.38 L1173,791.55 L1172,792.56 L1171,796.79 L1170,794.15 L1169,793.83 L1168,793.14 L1167,793.78 L1166,794.23 L1165,793.46 L1164,791.41 L1163,791.61 L1162,793.42 L1161,792.82 L1160,793.34 L1159,794.2 L1158,793.36 L1157,794.22 L1156,794.27 L1155,793.1 L1154,794.3 L1153,792.84 L1152,792.91 L1151,793.24 L1150,791.98 L1149,792.44 L1148,791.42 L1147,790.61 L1146,789.74 L1145,789.95 L1144,789.45 L1143,788.51 L1142,784.53 L1141.5,785.64 L1141,772.82 L1140,746.58 L1139,698.89 L1138.5,672.98 L1138,707.44 L1137.5,752.42 L1137,754.72 L1136,751.37 L1135,749.27 L1134,739.2 L1133,741.82 L1132,732.16 L1131,735.82 L1130,732.95 L1129,732.17 L1128,728.01 L1127,718.69 L1126,723.07 L1125,712.6 L1124,717.44 L1123,716.32 L1122,719.04 L1121,714.58 L1120,718.28 L1119,717.2 L1118,721.47 L1117,708.87 L1116,703.96 L1115,709.68 L1114,701.81 L1113,710.08 L1112,700.19 L1111,702.01 L1110,707.2 L1109,707.24 L1108,713.28 L1107,706.77 L1106,710.08 L1105,713.76 L1104,706.54 L1103,706.68 L1102,699.79 L1101,700.72 L1100,697.39 L1099,708.6 L1098,710.28 L1097,713.95 L1096,715.69 L1095,707.43 L1094,711.35 L1093,712.54 L1092,701.12 L1091,704 L1090,707.63 L1089,698.11 L1088,694.88 L1087,699.22 L1086,706.13 L1085,699.69 L1084,708.23 L1083,706.09 L1082,706.79 L1081,707.17 L1080,704.34 L1079,708.17 L1078,701.14 L1077,707.37 L1076,695.33 L1075,696.76 L1074,701.34 L1073,693.78 L1072,691.67 L1071,693 L1070,693.8 L1069,692.83 L1068,696.79 L1067,702.85 L1066,709.78 L1065,702.94 L1064.5,696.77 L1064,723.18 L1063,771.08 L1062.5,798.6 L1062,795.79 L1061,795.48 L1060,794.55 L1059,796.64 L1058,796.92 L1057,797.84 L1056,797.87 L1055,796.69 L1054,795.79 L1053,795.88 L1052,797.37 L1051,796.87 L1050,795.77 L1049,796.71 L1048,795.11 L1047,795.4 L1046,796.81 L1045,797.19 L1044,797.67 L1043,797.46 L1042,795.75 L1041,798.12 L1040,797.66 L1039,794.84 L1038,794.78 L1037,793.89 L1036,795.54 L1035,795.14 L1034,794.12 L1033,795.04 L1032,795.04 L1031,793.83 L1030,793.65 L1029,793.94 L1028,794.09 L1027,793.99 L1026,794.85 L1025,793.02 L1024,794.04 L1023,795.53 L1022,795.16 L1021,793.35 L1020,795.58 L1019,794.13 L1018,795.3 L1017,793.12 L1016,791.57 L1015,791.01 L1014,789.12 L1013,790.94 L1012,788.79 L1011,787.96 L1010,754.31 L1009,727.17 L1008,698.27 L1007.5,693.4 L1007,723.13 L1006.5,744.02 L1006,743.22 L1005,743.78 L1004,748.35 L1003,747.39 L1002,749.94 L1001,742.14 L1000,745.98 L999,741.34 L998,744.46 L997,733.37 L996,731.95 L995,729.24 L994,728.35 L993,729.23 L992,721.27 L991,720.64 L990,718.58 L989,712.34 L988,718.79 L987,714.05 L986,721.75 L985,721.06 L984,712.72 L983,710.38 L982,709.46 L981,703.5 L980,719.26 L979,716.72 L978,721.51 L977,721.08 L976,711.02 L975,709.57 L974,711.23 L973,720.06 L972,718.65 L971,706.76 L970,716.82 L969,712.4 L968,718.49 L967,721.25 L966,716.91 L965,716.62 L964,710 L963,712.48 L962,715.65 L961,706.22 L960,713.27 L959,705.87 L958,714.03 L957,713.91 Z" stroke="none" fill="#2b7bc0" stroke-width="1" fill-opacity="0.25"/>
<polyline points="957,694.84 958,695.11 959,693.06 960,693.25 961,690.47 962,696.14 963,697.89 964,698.86 965,701.4 966,702.03 967,704.29 968,698.01 969,691.98 970,698.13 971,694.52 972,699.83 973,701.11 974,699.78 975,697.35 976,695.2 977,703.23 978,705.01 979,700.76 980,699.98 981,690.8 982,695.33 983,699.09 984,694.16 985,706.22 986,709.97 987,695.41 988,700.81 989,701.41 990,703.06 991,708.69 992,710.25 993,716.35 994,713.18 995,713.66 996,715.63 997,722.95 998,730.38 999,730.78 1000,733.8 1001,732.11 1002,737.93 1003,739.93 1004,736.37 1005,733.47 1006,732.64 1006.5,735.98 1007,707.72 1007.5,667.89 1008,680.36 1009,712.45 1010,745.03 1011,784.14 1012,785.86 1013,788.05 1014,786.51 1015,787.8 1016,788.97 1017,790.86 1018,792.52 1019,791.92 1020,792.12 1021,790.25 1022,792.19 1023,792.61 1024,791.32 1025,790.92 1026,792.47 1027,790.88 1028,791.26 1029,791.03 1030,791.59 1031,791.22 1032,792.64 1033,793.18 1034,792.06 1035,792.32 1036,792.54 1037,791.85 1038,792.56 1039,792.78 1040,795.79 1041,795.43 1042,793.79 1043,794.84 1044,794.73 1045,794.12 1046,794.22 1047,793.19 1048,793.11 1049,793.78 1050,792.76 1051,793.83 1052,794.75 1053,794.11 1054,793.46 1055,793.98 1056,795.26 1057,795.3 1058,794.53 1059,793.66 1060,792.06 1061,793.35 1062,794.08 1062.5,796.52 1063,764.17 1064,703.94 1064.5,676.95 1065,680.34 1066,689.3 1067,678.79 1068,679.5 1069,671.41 1070,671.11 1071,669.18 1072,674.79 1073,672.41 1074,682.64 1075,676.18 1076,679.18 1077,685.68 1078,685.89 1079,688.57 1080,685.01 1081,687.51 1082,691.23 1083,689.54 1084,688.38 1085,686.24 1086,683.4 1087,679.91 1088,681.83 1089,678.04 1090,692.9 1091,690.91 1092,686.11 1093,692.89 1094,692.07 1095,690.2 1096,696.04 1097,695.11 1098,690.01 1099,691.07 1100,684.29 1101,677.62 1102,683.91 1103,691.31 1104,690.62 1105,692.36 1106,696.35 1107,694.13 1108,693.13 1109,692.03 1110,686.24 1111,682.59 1112,683.23 1113,687.86 1114,687.62 1115,689.61 1116,690.37 1117,695.89 1118,707.26 1119,698.31 1120,699.98 1121,701.77 1122,701.8 1123,702.91 1124,705.27 1125,700.95 1126,704.66 1127,707.1 1128,713.03 1129,715.62 1130,716.74 1131,720.63 1132,722.97 1133,729.46 1134,730.51 1135,736.36 1136,739.19 1137,742.96 1137.5,742.4 1138,695.87 1138.5,654.26 1139,685.23 1140,735.43 1141,764.72 1141.5,780.25 1142,780.83 1143,783.95 1144,785.09 1145,786.19 1146,786.84 1147,786.61 1148,787.13 1149,788.26 1150,788.06 1151,789.27 1152,789.45 1153,789.07 1154,790.72 1155,790.98 1156,791.82 1157,791.86 1158,790.84 1159,790.36 1160,789.62 1161,789.31 1162,790.97 1163,788.26 1164,787.58 1165,790.36 1166,791.16 1167,791.37 1168,790.73 1169,789.97 1170,790.37 1171,793.61 1172,788.91 1173,788.97 1174,789.08 1175,791.02 1176,791.04 1177,790.14 1178,791.35 1179,790.15 1180,790.81 1181,789.47 1182,790.6 1183,789.57 1184,792.62 1185,790.73 1186,790.96 1187,792.06 1188,791.01 1189,792.05 1190,791.39 1191,790.96 1192,790.69 1193,789.3 1193.5,789.54 1194,742.45 1195,656.85 1196,660.92 1197,662.5 1198,665.91 1199,673.65 1200,671.96 1201,677.25 1202,676.3 1203,676.34 1204,677.87 1205,681.3 1206,678.31 1207,677.83 1208,672.03 1209,672.77 1210,672.25 1211,678.39 1212,681.22 1213,686.96 1214,688.66 1215,683.4 1216,684.94 1217,685.92 1218,688.54 1219,681.77 1220,685.27 1221,682.7 1222,686.52 1223,684.99 1224,692.16 1225,697.61 1226,691.29 1227,693.98 1228,693.57 1229,691.51 1230,691.6 1231,693.68 1232,700.58 1233,702.62 1234,701.36 1235,698.97 1236,698.65 1237,699.48 1238,704.39 1239,704.55 1240,701.62 1241,707.03 1242,709.12 1243,705.49 1244,701.79 1245,704.41 1246,707.52 1247,712.74 1248,712.98 1249,715.74 1250,714.47 1251,713.06 1252,713.96 1253,712.51 1254,719.82 1255,724.95 1256,720.22 1257,719.63 1258,726.09 1259,726.81 1260,731.39 1261,731.89 1262,732.21 1263,731.62 1264,737.5 1265,742.16 1266,740.72 1266.5,742.31 1267,702.5 1267.5,675.29 1268,697.11 1269,744.09 1270,768.88 1270.5,781.48 1271,781.58 1272,783.22 1273,786.76 1274,788.01 1275,787.9 1276,785.09 1277,785.4 1278,787.84 1279,788.18 1280,788.61 1281,788.52 1282,790.21 1283,790.49 1284,788.92 1285,788.52 1286,789.58 1287,786.79 1288,788.01 1289,789.45 1290,788.63 1291,788.35 1292,789.34 1293,787.55 1294,787.54 1295,788.81 1296,788.65 1297,788.63 1298,789.77 1299,789.15 1300,790.36 1301,790.63 1302,789.73 1303,791.55 1304,791.4 1305,792.08 1306,790.47 1307,791.19 1308,788.74 1309,787.88 1310,790.07 1311,790.2 1312,790.88 1313,790.83 1314,790.03 1315,788.7 1316,787.23 1317,786.92 1318,790.4 1319,791.24 1320,791.34 1321,791.56 1322,791.15 1322.5,790.37 1323,752.16 1324,675.26 1325,666.86 1326,671.52 1327,669.43 1328,681.24 1329,681.02 1330,681.46 1331,683.65 1332,693.72 1333,695 1334,701.53 1335,707.08 1336,706.95 1337,706.15 1338,709.31 1339,711.62 1340,711.41 1341,716.17 1342,715.83 1343,715.41 1344,716.45 1345,718.1 1346,724.52 1347,726.39 1348,728.58 1349,727.2" stroke="#2b7bc0" fill="none" stroke-width="3.2" stroke-linejoin="round"/>
<path d="M957,661.63 L958,653.03 L959,656.84 L960,658.06 L961,660.38 L962,660.59 L963,659.25 L964,655.31 L965,661.74 L966,658.8 L967,664.81 L968,669.16 L969,669.59 L970,660.82 L971,658.31 L972,661.88 L973,664.48 L974,666.22 L975,669.37 L976,659.31 L977,669.36 L978,662.09 L979,665.44 L980,664.04 L981,665.94 L982,668.66 L983,668.8 L984,674.07 L985,671.05 L986,667.84 L987,660.88 L988,672.12 L989,668.25 L990,666.1 L991,667.56 L992,678.02 L993,679.72 L994,685.11 L995,687.81 L996,694.42 L997,694.41 L998,694.6 L999,698.91 L1000,705.26 L1001,708.09 L1002,708.04 L1003,705.35 L1004,709.43 L1005,708.56 L1006,714.48 L1007,712.43 L1008,719.9 L1009,652.58 L1010,724.82 L1011,762.96 L1011.5,785.39 L1012,783.55 L1013,785.39 L1014,786.38 L1015,789.02 L1016,788.48 L1017,789.39 L1018,789.35 L1019,790.13 L1020,789.75 L1021,790.06 L1022,790.62 L1023,791.64 L1024,791.25 L1025,790.48 L1026,790.83 L1027,790.81 L1028,791.68 L1029,793.05 L1030,790.73 L1031,790.92 L1032,788.84 L1033,788.94 L1034,790.39 L1035,791.84 L1036,791.88 L1037,791.05 L1038,791.21 L1039,791.37 L1040,791.76 L1041,792.4 L1042,791.95 L1043,791.68 L1044,791.98 L1045,791.01 L1046,790.99 L1047,792.2 L1048,791.39 L1049,790.17 L1050,791.76 L1051,791.43 L1052,793 L1053,793.02 L1054,793.4 L1055,793.36 L1056,793.58 L1057,791.01 L1058,790.53 L1059,791.68 L1060,790.84 L1061,790.77 L1062,791.91 L1063,793.14 L1064,728.37 L1065,668.9 L1066,662.59 L1067,662.98 L1068,667.84 L1069,672.51 L1070,667.32 L1071,656.29 L1072,658.61 L1073,661.37 L1074,660.77 L1075,660.7 L1076,660.26 L1077,669.45 L1078,662.57 L1079,669.09 L1080,668.21 L1081,670.19 L1082,672.01 L1083,664.96 L1084,666.92 L1085,662.17 L1086,658.57 L1087,663.65 L1088,665.58 L1089,668.32 L1090,665.22 L1091,662.25 L1092,667.93 L1093,661.68 L1094,663.72 L1095,659.03 L1096,665.41 L1097,669.57 L1098,669.86 L1099,671.6 L1100,672.65 L1101,672.83 L1102,674.12 L1103,670.32 L1104,666.89 L1105,667.39 L1106,676.46 L1107,675.12 L1108,673.22 L1109,677.25 L1110,669.09 L1111,672.62 L1112,675.59 L1113,673.01 L1114,672.29 L1115,674.09 L1116,671.89 L1117,680.13 L1118,679.67 L1119,683.84 L1120,676.76 L1121,688.15 L1122,686.41 L1123,693.01 L1124,697.18 L1125,695.82 L1126,696.02 L1127,702.3 L1128,705.65 L1129,701.77 L1130,701.36 L1131,708.23 L1132,711.19 L1133,714.87 L1134,716.8 L1135,724.21 L1136,724.23 L1137,726.41 L1138,730.02 L1139,730.6 L1140,737.39 L1141,736.57 L1142,737.68 L1143,742.5 L1144,743.06 L1145,744.1 L1146,745.62 L1147,749.01 L1148,749.45 L1149,748.72 L1150,750.59 L1151,754.68 L1152,755.51 L1153,759.81 L1154,758.76 L1155,758.26 L1156,759.09 L1157,763.17 L1158,761.51 L1159,764.26 L1160,762.53 L1161,764.71 L1162,764.18 L1163,764.13 L1164,763.83 L1165,763.47 L1166,763.57 L1167,765.88 L1168,769.11 L1169,768.49 L1170,769.04 L1171,770.15 L1172,771.04 L1173,770.39 L1174,768.06 L1175,768.39 L1176,767.74 L1177,769.1 L1178,770.55 L1179,771.17 L1180,770.73 L1181,770.88 L1182,772.01 L1183,771.28 L1184,770.87 L1185,771.21 L1186,769.43 L1187,769.63 L1188,768.96 L1189,769.39 L1190,770.79 L1191,765.54 L1192,766.47 L1193,762.51 L1194,766.35 L1195,765.48 L1196,762.14 L1197,757.45 L1198,757.48 L1199,751.13 L1200,746.65 L1201,743.46 L1202,742 L1203,735.97 L1204,736.54 L1205,733.58 L1206,729.66 L1207,729.35 L1208,729.06 L1209,731.67 L1210,728.29 L1211,725.24 L1212,726.5 L1213,725.86 L1214,723.96 L1215,721.59 L1216,721.79 L1217,720.82 L1218,718.57 L1219,715.74 L1220,717.34 L1221,720.58 L1222,718.37 L1223,718.31 L1224,717.89 L1225,714.71 L1226,715.98 L1227,712 L1228,715.66 L1229,715.06 L1230,712.82 L1231,720.01 L1232,718.22 L1233,715 L1234,721.08 L1235,713.62 L1236,717.36 L1237,715.86 L1238,715.51 L1239,717.63 L1240,722.07 L1241,722.46 L1242,719.24 L1243,721.75 L1244,720.12 L1245,724.8 L1246,722.92 L1247,727.75 L1248,726.91 L1249,729.72 L1250,731.15 L1251,730.72 L1252,731.64 L1253,733.75 L1254,728.93 L1255,731.14 L1256,730.54 L1257,736.99 L1258,737.45 L1259,735.83 L1260,741.56 L1261,740.15 L1262,741.92 L1263,740.91 L1264,741.91 L1265,742.94 L1266,744.56 L1267,744.78 L1268,746.03 L1269,746.36 L1270,744.29 L1271,746.37 L1272,745.62 L1273,747.44 L1274,750.4 L1275,751.59 L1276,754.24 L1277,754.21 L1278,754.65 L1279,753.5 L1280,755.63 L1281,756.18 L1282,758.74 L1283,759.95 L1284,763.34 L1285,762.61 L1286,765.03 L1287,763.67 L1288,764.49 L1289,766.06 L1290,766.41 L1291,766.32 L1292,769.54 L1293,767.31 L1294,768.15 L1295,767.53 L1296,768.2 L1297,769.99 L1298,768.23 L1299,766.29 L1300,766.02 L1301,767.2 L1302,770.1 L1303,770.09 L1304,767.83 L1305,772.15 L1306,770.59 L1307,766.47 L1308,770.48 L1309,769.25 L1310,766.45 L1311,768.26 L1312,769.18 L1313,769.35 L1314,769.69 L1315,769.81 L1316,768.45 L1317,766.9 L1318,767.96 L1319,767.46 L1320,767.72 L1321,770.34 L1322,766.73 L1323,766.88 L1324,765.47 L1325,767.44 L1326,765.34 L1327,764.02 L1328,761.32 L1329,759.46 L1330,758.84 L1331,761.06 L1332,759.92 L1333,758.73 L1334,756.57 L1335,758.93 L1336,756.23 L1337,754.7 L1338,752.12 L1339,754.4 L1340,751.39 L1341,747.22 L1342,747.85 L1343,743.88 L1344,742.95 L1345,742 L1346,739.74 L1347,744.05 L1348,739.56 L1349,744.31 L1349,754.66 L1348,751.06 L1347,754.74 L1346,753.89 L1345,755.53 L1344,753.91 L1343,754.46 L1342,757.32 L1341,759.6 L1340,759.08 L1339,764.02 L1338,764.54 L1337,762.89 L1336,765 L1335,767.14 L1334,765.2 L1333,767.51 L1332,767.14 L1331,770 L1330,768.08 L1329,768.04 L1328,770.74 L1327,773.6 L1326,774.35 L1325,774.94 L1324,774.24 L1323,773.64 L1322,774.62 L1321,776.71 L1320,775.45 L1319,776.32 L1318,777.59 L1317,775.9 L1316,776.86 L1315,776.16 L1314,777.9 L1313,776.18 L1312,775.48 L1311,776.72 L1310,774.89 L1309,777.91 L1308,778.4 L1307,776.06 L1306,778.4 L1305,779.1 L1304,774.4 L1303,776.96 L1302,776.47 L1301,775.54 L1300,774.86 L1299,774.03 L1298,776.66 L1297,777.2 L1296,776.34 L1295,775.42 L1294,775.28 L1293,774.1 L1292,776.4 L1291,774.64 L1290,774.39 L1289,773.42 L1288,771.82 L1287,771.98 L1286,773.4 L1285,771.2 L1284,770.16 L1283,769.35 L1282,765.87 L1281,765.56 L1280,763.54 L1279,764.58 L1278,764.61 L1277,763.85 L1276,763.4 L1275,761.97 L1274,759.81 L1273,757.66 L1272,757.9 L1271,754.47 L1270,756.52 L1269,757.76 L1268,757.71 L1267,757 L1266,755.34 L1265,753.68 L1264,754.15 L1263,750.57 L1262,753.28 L1261,752.42 L1260,752.31 L1259,750.35 L1258,750.6 L1257,751.24 L1256,744.97 L1255,745.17 L1254,744.34 L1253,745.5 L1252,744.49 L1251,745.49 L1250,743.8 L1249,742.48 L1248,740.24 L1247,739.1 L1246,735.78 L1245,737.38 L1244,735.29 L1243,733.28 L1242,736.2 L1241,736.14 L1240,737 L1239,728.94 L1238,731.11 L1237,730.62 L1236,730.66 L1235,731.09 L1234,734.9 L1233,730.49 L1232,731.35 L1231,734.81 L1230,729.71 L1229,731.43 L1228,731 L1227,729.14 L1226,730.5 L1225,733.33 L1224,732.76 L1223,731.58 L1222,733.57 L1221,734.29 L1220,734.14 L1219,731.67 L1218,733.09 L1217,736.51 L1216,736.98 L1215,737.27 L1214,740.92 L1213,739.05 L1212,740.45 L1211,738.89 L1210,742.59 L1209,745.7 L1208,745.29 L1207,745.42 L1206,744.03 L1205,744.6 L1204,748.74 L1203,748.81 L1202,751.49 L1201,755.25 L1200,757.92 L1199,760.77 L1198,766.99 L1197,767.38 L1196,770.95 L1195,775.17 L1194,772.63 L1193,772.38 L1192,774.3 L1191,774.6 L1190,777.25 L1189,776.62 L1188,776.22 L1187,777.69 L1186,775.95 L1185,778.78 L1184,778.91 L1183,779.28 L1182,778.99 L1181,779.13 L1180,778.33 L1179,776.67 L1178,778.36 L1177,777.19 L1176,776.66 L1175,775.81 L1174,777.56 L1173,777.16 L1172,778.87 L1171,776.94 L1170,775.24 L1169,776.45 L1168,775.42 L1167,774.64 L1166,772.34 L1165,772.94 L1164,771.36 L1163,772.45 L1162,772.62 L1161,771.48 L1160,770.6 L1159,772.14 L1158,772.06 L1157,770.8 L1156,768.8 L1155,767.78 L1154,766.34 L1153,768.12 L1152,764.14 L1151,765.56 L1150,761.79 L1149,760.46 L1148,760.13 L1147,760.37 L1146,758.59 L1145,755.38 L1144,755.77 L1143,752.48 L1142,748.36 L1141,750.03 L1140,749.52 L1139,743.6 L1138,740.96 L1137,741.94 L1136,736.04 L1135,738.14 L1134,733.32 L1133,728.95 L1132,726.65 L1131,724.71 L1130,722.73 L1129,717.12 L1128,721.56 L1127,721.16 L1126,714.42 L1125,713.43 L1124,715.44 L1123,713.63 L1122,706.03 L1121,709.65 L1120,702.31 L1119,700.24 L1118,698.57 L1117,699.13 L1116,695.26 L1115,696.37 L1114,693.08 L1113,694.56 L1112,697.02 L1111,691.43 L1110,693.87 L1109,697.46 L1108,699.1 L1107,692.76 L1106,696.91 L1105,690.9 L1104,690.22 L1103,690.34 L1102,690.9 L1101,693.52 L1100,694.04 L1099,694.3 L1098,691.39 L1097,690.84 L1096,687.23 L1095,688.28 L1094,688.23 L1093,682.17 L1092,687.13 L1091,684.75 L1090,686.31 L1089,691.44 L1088,688.23 L1087,688.84 L1086,681.78 L1085,690.27 L1084,691.74 L1083,689.23 L1082,693.28 L1081,692.58 L1080,691.23 L1079,687.41 L1078,685.74 L1077,695.87 L1076,686.4 L1075,684.45 L1074,688.87 L1073,683.69 L1072,682.86 L1071,679.21 L1070,687.8 L1069,691.81 L1068,692.05 L1067,682.43 L1066,686.79 L1065,688.63 L1064,743.71 L1063,797.24 L1062,795.2 L1061,795.47 L1060,795.21 L1059,795.3 L1058,794.21 L1057,795.55 L1056,796.54 L1055,797.42 L1054,796.92 L1053,797.36 L1052,796.61 L1051,796.31 L1050,795.49 L1049,795.3 L1048,796.33 L1047,796.22 L1046,796.05 L1045,795.86 L1044,796.28 L1043,796.14 L1042,795.65 L1041,795.95 L1040,796.5 L1039,796.17 L1038,794.64 L1037,795.51 L1036,796.11 L1035,796.2 L1034,795.82 L1033,794.61 L1032,793.24 L1031,795.44 L1030,795.77 L1029,796.05 L1028,796.25 L1027,795.2 L1026,795.09 L1025,795.26 L1024,795.91 L1023,795.72 L1022,795.94 L1021,795.28 L1020,793.85 L1019,793.95 L1018,793.42 L1017,793.51 L1016,792.37 L1015,793.1 L1014,792.36 L1013,790.51 L1012,789.4 L1011.5,789.96 L1011,771.93 L1010,738.12 L1009,676.95 L1008,733.92 L1007,727.9 L1006,730.09 L1005,724.97 L1004,728.33 L1003,724.49 L1002,721.4 L1001,725.17 L1000,721.08 L999,718.89 L998,715.79 L997,712.6 L996,709.96 L995,708.27 L994,703.17 L993,699.12 L992,696.26 L991,694.88 L990,690.53 L989,692.71 L988,689.21 L987,683.19 L986,690.55 L985,692.53 L984,698.09 L983,690.65 L982,692.12 L981,686.85 L980,688.34 L979,693.21 L978,689.79 L977,688.17 L976,684.18 L975,693.06 L974,689.7 L973,691.67 L972,685.64 L971,679.56 L970,684.64 L969,692.75 L968,688.44 L967,690.48 L966,683.94 L965,688.93 L964,682.33 L963,681.14 L962,683.42 L961,683.93 L960,680.86 L959,677.71 L958,681.44 L957,685.57 Z" stroke="none" fill="#12a882" stroke-width="1" fill-opacity="0.25"/>
<polyline points="957,671.1 958,668.13 959,667.86 960,669.7 961,670.67 962,673.34 963,669.01 964,668.99 965,674.44 966,672.49 967,677.92 968,679.39 969,680.02 970,674.3 971,670.62 972,674.28 973,677.75 974,674.76 975,678.51 976,674.43 977,679.26 978,676.48 979,679.86 980,674.73 981,676.49 982,679.46 983,678.9 984,685.34 985,681.95 986,679.52 987,674.23 988,681.13 989,679 990,678.19 991,681.61 992,687.37 993,690.39 994,695.69 995,697.05 996,702.49 997,705.05 998,705.99 999,709.85 1000,713.77 1001,714.34 1002,715.07 1003,715.92 1004,718.05 1005,717.93 1006,721.39 1007,721.25 1008,726.32 1009,661.93 1010,732.54 1011,767.43 1011.5,787.4 1012,786.75 1013,788.34 1014,789.62 1015,791.45 1016,790.68 1017,791.63 1018,791.34 1019,791.94 1020,792.06 1021,792.41 1022,793.12 1023,793.32 1024,793.12 1025,792.72 1026,793.38 1027,792.53 1028,794.21 1029,794.55 1030,793.32 1031,792.98 1032,791.6 1033,791.62 1034,793.1 1035,793.91 1036,793.55 1037,793.45 1038,792.84 1039,793.43 1040,793.87 1041,794.13 1042,793.77 1043,794.18 1044,793.9 1045,793.15 1046,793.43 1047,794.23 1048,793.51 1049,792.99 1050,793.9 1051,794.03 1052,794.95 1053,795.04 1054,795.16 1055,795.4 1056,795.03 1057,793.06 1058,792.62 1059,793.52 1060,793.38 1061,793.57 1062,793.66 1063,795.18 1064,736.27 1065,680.42 1066,677.04 1067,672.92 1068,679.71 1069,682.36 1070,675.53 1071,669.9 1072,668.87 1073,674.54 1074,675.77 1075,673.96 1076,675.16 1077,681.5 1078,676.44 1079,677.98 1080,677.08 1081,681.61 1082,682.22 1083,676.09 1084,677.78 1085,676.14 1086,672.23 1087,674.78 1088,676.16 1089,677.77 1090,675.67 1091,676.03 1092,676.08 1093,673.1 1094,674.65 1095,673.52 1096,678.78 1097,679.92 1098,678.05 1099,681.27 1100,684.68 1101,682.82 1102,683.11 1103,680.98 1104,676.72 1105,680.27 1106,684.27 1107,684.47 1108,685.66 1109,686.42 1110,682.7 1111,682.66 1112,683.46 1113,685.82 1114,684.17 1115,686.42 1116,684.1 1117,688.08 1118,691.01 1119,691.31 1120,688.73 1121,697.68 1122,697.52 1123,702.18 1124,706.25 1125,706.2 1126,705.05 1127,711.4 1128,713.08 1129,710.39 1130,711.6 1131,716.84 1132,718.71 1133,722.14 1134,726.38 1135,730.21 1136,729.37 1137,733.63 1138,736 1139,738.98 1140,743.28 1141,744.46 1142,742.94 1143,747.89 1144,750.07 1145,750.51 1146,751.7 1147,753.52 1148,754.1 1149,755.34 1150,757.01 1151,759.4 1152,760.62 1153,763.43 1154,762.94 1155,763.69 1156,764.67 1157,766.67 1158,766.68 1159,768.59 1160,766.91 1161,768.54 1162,767.23 1163,768.94 1164,768.32 1165,768.48 1166,768.32 1167,769.79 1168,772.54 1169,771.52 1170,772.39 1171,774.04 1172,774.57 1173,773.56 1174,772.88 1175,773.05 1176,772.67 1177,772.17 1178,773.48 1179,773.87 1180,774.38 1181,774.75 1182,774.82 1183,774.58 1184,774.82 1185,774.12 1186,772.78 1187,773.25 1188,772.42 1189,773.41 1190,773.7 1191,770.11 1192,769.84 1193,767.61 1194,769.66 1195,770.66 1196,765.93 1197,762.35 1198,761.8 1199,755.94 1200,751.6 1201,750.32 1202,746.43 1203,743.13 1204,741.05 1205,739.8 1206,737.33 1207,737.41 1208,737.06 1209,737.84 1210,735.12 1211,731.18 1212,731.8 1213,731.62 1214,732.47 1215,730.37 1216,727.34 1217,727.41 1218,725.76 1219,723.7 1220,726.18 1221,726.61 1222,724.21 1223,724.51 1224,725.89 1225,724.25 1226,723.01 1227,721.11 1228,724.03 1229,723.19 1230,722.56 1231,728.71 1232,724.92 1233,724.67 1234,727.59 1235,722.47 1236,723.38 1237,724.57 1238,721.64 1239,723.1 1240,728.09 1241,729.12 1242,726.93 1243,727.17 1244,727.17 1245,730.43 1246,730.44 1247,733.99 1248,735.42 1249,735.16 1250,736.78 1251,736.8 1252,738.49 1253,739.04 1254,736.75 1255,738.53 1256,738.8 1257,743.36 1258,744.61 1259,743.13 1260,746.75 1261,746.96 1262,747.27 1263,745.41 1264,749.3 1265,749.68 1266,749.59 1267,749.81 1268,752.95 1269,750.75 1270,750.87 1271,750.5 1272,751.77 1273,752.76 1274,754.96 1275,756.48 1276,758.93 1277,758.38 1278,760.71 1279,759.23 1280,759.73 1281,761.84 1282,762.34 1283,765.23 1284,766.39 1285,766.96 1286,768.33 1287,768.36 1288,768.23 1289,769.01 1290,769.93 1291,771.1 1292,772.88 1293,771.21 1294,771.81 1295,770.61 1296,772.51 1297,772.84 1298,771.86 1299,770.65 1300,770.63 1301,770.84 1302,773.49 1303,772.87 1304,771.25 1305,774.83 1306,773.84 1307,771.35 1308,773.63 1309,773.32 1310,771.37 1311,771.88 1312,772.55 1313,772.16 1314,773.07 1315,772.53 1316,772.77 1317,771.61 1318,772.67 1319,772.19 1320,771.43 1321,773.49 1322,770.77 1323,770.62 1324,770.63 1325,771.35 1326,769.57 1327,769.23 1328,766.77 1329,763.94 1330,764.59 1331,764.8 1332,763.77 1333,762.99 1334,761.2 1335,763.12 1336,760.13 1337,758.85 1338,758.39 1339,758.99 1340,755.35 1341,752.71 1342,751.96 1343,750.49 1344,748.98 1345,748.65 1346,746.99 1347,748.41 1348,745.77 1349,749.02" stroke="#12a882" fill="none" stroke-width="3.6" stroke-linejoin="round"/>
<line x1="955.75" y1="637" x2="955.75" y2="800.3" stroke="#000" stroke-width="2.2" />
<line x1="949" y1="799.25" x2="955.75" y2="799.25" stroke="#000" stroke-width="2.2" />
<text x="943.2" y="808.65" font-size="25.3" text-anchor="end" font-weight="normal" font-style="normal" fill="#000" >0</text>
<line x1="949" y1="745.5" x2="955.75" y2="745.5" stroke="#000" stroke-width="2.2" />
<text x="943.2" y="754.9" font-size="25.3" text-anchor="end" font-weight="normal" font-style="normal" fill="#000" >25</text>
<line x1="949" y1="691.75" x2="955.75" y2="691.75" stroke="#000" stroke-width="2.2" />
<text x="943.2" y="701.15" font-size="25.3" text-anchor="end" font-weight="normal" font-style="normal" fill="#000" >50</text>
<line x1="949" y1="638" x2="955.75" y2="638" stroke="#000" stroke-width="2.2" />
<text x="943.2" y="647.4" font-size="25.3" text-anchor="end" font-weight="normal" font-style="normal" fill="#000" >75</text>
<rect x="957.5" y="809.25" width="442.5" height="25.75" fill="none" stroke="#000" stroke-width="2.3"/>
<line x1="1063.75" y1="809.25" x2="1063.75" y2="835" stroke="#000" stroke-width="2.6" />
<line x1="1194.25" y1="809.25" x2="1194.25" y2="835" stroke="#000" stroke-width="2.6" />
<line x1="1323.25" y1="809.25" x2="1323.25" y2="835" stroke="#000" stroke-width="2.6" />
<text x="963.63" y="828.5" font-size="21.5" fill="#000" textLength="66.33" lengthAdjust="spacingAndGlyphs" >5 d.p.f.</text>
<text x="1068.51" y="828.5" font-size="21.5" fill="#000" textLength="66.55" lengthAdjust="spacingAndGlyphs" >6 d.p.f.</text>
<text x="1201.51" y="828.5" font-size="21.5" fill="#000" textLength="66.55" lengthAdjust="spacingAndGlyphs" >7 d.p.f.</text>
<text x="1331.18" y="828.5" font-size="21.5" fill="#000" textLength="66.38" lengthAdjust="spacingAndGlyphs" >8 d.p.f.</text>
<text transform="translate(831.05,811.5) rotate(-90)" x="-0.06" y="0" font-size="24.5" fill="#000" textLength="177.04" lengthAdjust="spacingAndGlyphs">Average activity</text>
<text transform="translate(860.9,793.6) rotate(-90)" x="-1.57" y="0" font-size="24.5" fill="#000" textLength="144.97" lengthAdjust="spacingAndGlyphs">(seconds per</text>
<text transform="translate(890.9,789.1) rotate(-90)" x="-1.87" y="0" font-size="24.5" fill="#000" textLength="129.95" lengthAdjust="spacingAndGlyphs">10 minutes)</text>
<text x="14.12" y="874.17" font-size="32.13" font-weight="bold" fill="#000" textLength="22.62" lengthAdjust="spacingAndGlyphs" >g</text>
<rect x="203.7" y="856" width="12.1" height="218" fill="#e6e6e6" />
<rect x="315" y="856" width="56.4" height="218" fill="#e6e6e6" />
<polyline points="220,942.5 297.6,891 375.6,912.6" stroke="#5bbde8" fill="none" stroke-width="4" />
<line x1="220" y1="918" x2="220" y2="965.7" stroke="#5bbde8" stroke-width="4.8" />
<circle cx="220" cy="942.5" r="6.2" fill="#5bbde8" />
<line x1="297.6" y1="859.7" x2="297.6" y2="919" stroke="#5bbde8" stroke-width="4.8" />
<circle cx="297.6" cy="891" r="6.2" fill="#5bbde8" />
<line x1="375.6" y1="886" x2="375.6" y2="939.3" stroke="#5bbde8" stroke-width="4.8" />
<circle cx="375.6" cy="912.6" r="6.2" fill="#5bbde8" />
<polyline points="221.8,990.2 299.2,1001.4 377.2,1005.5" stroke="#e08ebb" fill="none" stroke-width="4" />
<line x1="221.8" y1="964" x2="221.8" y2="1015" stroke="#e08ebb" stroke-width="4.8" />
<circle cx="221.8" cy="990.2" r="6.2" fill="#e08ebb" />
<line x1="299.2" y1="978.4" x2="299.2" y2="1024" stroke="#e08ebb" stroke-width="4.8" />
<circle cx="299.2" cy="1001.4" r="6.2" fill="#e08ebb" />
<line x1="377.2" y1="983" x2="377.2" y2="1030" stroke="#e08ebb" stroke-width="4.8" />
<circle cx="377.2" cy="1005.5" r="6.2" fill="#e08ebb" />
<polyline points="225.3,991.2 303.3,971.1 381,988.6" stroke="#0fa680" fill="none" stroke-width="4" />
<line x1="225.3" y1="954" x2="225.3" y2="1027" stroke="#0fa680" stroke-width="4.8" />
<circle cx="225.3" cy="991.2" r="6.2" fill="#0fa680" />
<line x1="303.3" y1="931.7" x2="303.3" y2="1008.7" stroke="#0fa680" stroke-width="4.8" />
<circle cx="303.3" cy="971.1" r="6.2" fill="#0fa680" />
<line x1="381" y1="948.2" x2="381" y2="1027" stroke="#0fa680" stroke-width="4.8" />
<circle cx="381" cy="988.6" r="6.2" fill="#0fa680" />
<line x1="203.7" y1="856" x2="203.7" y2="1075.1" stroke="#000" stroke-width="2.2" />
<line x1="193" y1="1058" x2="203.7" y2="1058" stroke="#000" stroke-width="2.2" />
<text x="186.7" y="1067.4" font-size="25.3" text-anchor="end" font-weight="normal" font-style="normal" fill="#000" >100</text>
<line x1="193" y1="995.9" x2="203.7" y2="995.9" stroke="#000" stroke-width="2.2" />
<text x="186.7" y="1005.3" font-size="25.3" text-anchor="end" font-weight="normal" font-style="normal" fill="#000" >120</text>
<line x1="193" y1="933.8" x2="203.7" y2="933.8" stroke="#000" stroke-width="2.2" />
<text x="186.7" y="943.2" font-size="25.3" text-anchor="end" font-weight="normal" font-style="normal" fill="#000" >140</text>
<line x1="193" y1="871.7" x2="203.7" y2="871.7" stroke="#000" stroke-width="2.2" />
<text x="186.7" y="881.1" font-size="25.3" text-anchor="end" font-weight="normal" font-style="normal" fill="#000" >160</text>
<line x1="202.6" y1="1074" x2="436" y2="1074" stroke="#000" stroke-width="2.2" />
<line x1="223.7" y1="1074" x2="223.7" y2="1085" stroke="#000" stroke-width="2.2" />
<text x="223.7" y="1109.2" font-size="25.3" text-anchor="middle" font-weight="normal" font-style="normal" fill="#000" >0</text>
<line x1="300.1" y1="1074" x2="300.1" y2="1085" stroke="#000" stroke-width="2.2" />
<text x="300.1" y="1109.2" font-size="25.3" text-anchor="middle" font-weight="normal" font-style="normal" fill="#000" >10</text>
<line x1="377.8" y1="1074" x2="377.8" y2="1085" stroke="#000" stroke-width="2.2" />
<text x="377.8" y="1109.2" font-size="25.3" text-anchor="middle" font-weight="normal" font-style="normal" fill="#000" >0</text>
<text x="285.6" y="1139.7" font-size="25" fill="#000" textLength="30.2" lengthAdjust="spacingAndGlyphs" >ZT</text>
<text transform="translate(118.05,1053.5) rotate(-90)" x="-1.15" y="0" font-size="24.5" fill="#000" textLength="168.86" lengthAdjust="spacingAndGlyphs">Synapse count</text>
<rect x="519.2" y="856" width="29" height="216.7" fill="#b8b8b8" />
<rect x="640" y="856" width="51.7" height="216.7" fill="#b8b8b8" />
<polyline points="556.89,942.15 626.94,893.71 695.26,906" stroke="#253845" fill="none" stroke-width="3.8" stroke-linejoin="round"/>
<circle cx="556.89" cy="942.15" r="5.9" fill="#253845" />
<circle cx="626.94" cy="893.71" r="5.9" fill="#253845" />
<circle cx="695.26" cy="906" r="5.9" fill="#253845" />
<polyline points="556.36,979.02 626.79,957.33 699.3,975.41" stroke="#305467" fill="none" stroke-width="3.8" stroke-linejoin="round"/>
<circle cx="556.36" cy="979.02" r="5.9" fill="#305467" />
<circle cx="626.79" cy="957.33" r="5.9" fill="#305467" />
<circle cx="699.3" cy="975.41" r="5.9" fill="#305467" />
<polyline points="554.41,1036.86 624.29,1024.57 696.23,1018.79" stroke="#305467" fill="none" stroke-width="3.8" stroke-linejoin="round"/>
<circle cx="554.41" cy="1036.86" r="5.9" fill="#305467" />
<circle cx="624.29" cy="1024.57" r="5.9" fill="#305467" />
<circle cx="696.23" cy="1018.79" r="5.9" fill="#305467" />
<polyline points="552.07,942.15 624.3,939.26 697.31,982.63" stroke="#366278" fill="none" stroke-width="3.8" stroke-linejoin="round"/>
<circle cx="552.07" cy="942.15" r="5.9" fill="#366278" />
<circle cx="624.3" cy="939.26" r="5.9" fill="#366278" />
<circle cx="697.31" cy="982.63" r="5.9" fill="#366278" />
<polyline points="553.67,1022.4 628.46,957.33 698.14,986.25" stroke="#366278" fill="none" stroke-width="3.8" stroke-linejoin="round"/>
<circle cx="553.67" cy="1022.4" r="5.9" fill="#366278" />
<circle cx="628.46" cy="957.33" r="5.9" fill="#366278" />
<circle cx="698.14" cy="986.25" r="5.9" fill="#366278" />
<polyline points="556.67,1029.63 624.33,1034.69 698.02,1042.64" stroke="#366278" fill="none" stroke-width="3.8" stroke-linejoin="round"/>
<circle cx="556.67" cy="1029.63" r="5.9" fill="#366278" />
<circle cx="624.33" cy="1034.69" r="5.9" fill="#366278" />
<circle cx="698.02" cy="1042.64" r="5.9" fill="#366278" />
<polyline points="552.39,968.18 624.13,979.02 698.82,957.33" stroke="#386980" fill="none" stroke-width="3.8" stroke-linejoin="round"/>
<circle cx="552.39" cy="968.18" r="5.9" fill="#386980" />
<circle cx="624.13" cy="979.02" r="5.9" fill="#386980" />
<circle cx="698.82" cy="957.33" r="5.9" fill="#386980" />
<polyline points="555.64,960.95 626.25,901.66 695.66,918.29" stroke="#3b7089" fill="none" stroke-width="3.8" stroke-linejoin="round"/>
<circle cx="555.64" cy="960.95" r="5.9" fill="#3b7089" />
<circle cx="626.25" cy="901.66" r="5.9" fill="#3b7089" />
<circle cx="695.66" cy="918.29" r="5.9" fill="#3b7089" />
<polyline points="553.38,1033.25 624.52,1010.83 698.94,1022.4" stroke="#3b7089" fill="none" stroke-width="3.8" stroke-linejoin="round"/>
<circle cx="553.38" cy="1033.25" r="5.9" fill="#3b7089" />
<circle cx="624.52" cy="1010.83" r="5.9" fill="#3b7089" />
<circle cx="698.94" cy="1022.4" r="5.9" fill="#3b7089" />
<polyline points="553.98,1011.56 624.3,993.48 695.27,1000.71" stroke="#3b7089" fill="none" stroke-width="3.8" stroke-linejoin="round"/>
<circle cx="553.98" cy="1011.56" r="5.9" fill="#3b7089" />
<circle cx="624.3" cy="993.48" r="5.9" fill="#3b7089" />
<circle cx="695.27" cy="1000.71" r="5.9" fill="#3b7089" />
<polyline points="552.05,1033.25 628.14,1026.02 699.16,1026.02" stroke="#3e7791" fill="none" stroke-width="3.8" stroke-linejoin="round"/>
<circle cx="552.05" cy="1033.25" r="5.9" fill="#3e7791" />
<circle cx="628.14" cy="1026.02" r="5.9" fill="#3e7791" />
<circle cx="699.16" cy="1026.02" r="5.9" fill="#3e7791" />
<polyline points="556.61,968.18 624.76,939.26 695.4,942.15" stroke="#407e9a" fill="none" stroke-width="3.8" stroke-linejoin="round"/>
<circle cx="556.61" cy="968.18" r="5.9" fill="#407e9a" />
<circle cx="624.76" cy="939.26" r="5.9" fill="#407e9a" />
<circle cx="695.4" cy="942.15" r="5.9" fill="#407e9a" />
<polyline points="553.52,997.1 625.62,998.54 699.59,1015.17" stroke="#407e9a" fill="none" stroke-width="3.8" stroke-linejoin="round"/>
<circle cx="553.52" cy="997.1" r="5.9" fill="#407e9a" />
<circle cx="625.62" cy="998.54" r="5.9" fill="#407e9a" />
<circle cx="699.59" cy="1015.17" r="5.9" fill="#407e9a" />
<polyline points="555.34,989.87 626.1,1015.17 696.76,1018.79" stroke="#407e9a" fill="none" stroke-width="3.8" stroke-linejoin="round"/>
<circle cx="555.34" cy="989.87" r="5.9" fill="#407e9a" />
<circle cx="626.1" cy="1015.17" r="5.9" fill="#407e9a" />
<circle cx="696.76" cy="1018.79" r="5.9" fill="#407e9a" />
<polyline points="554.59,1000.71 625.56,1022.4 698.45,1015.17" stroke="#4384a2" fill="none" stroke-width="3.8" stroke-linejoin="round"/>
<circle cx="554.59" cy="1000.71" r="5.9" fill="#4384a2" />
<circle cx="625.56" cy="1022.4" r="5.9" fill="#4384a2" />
<circle cx="698.45" cy="1015.17" r="5.9" fill="#4384a2" />
<polyline points="554.75,971.79 626.58,971.79 697.2,1000.71" stroke="#468baa" fill="none" stroke-width="3.8" stroke-linejoin="round"/>
<circle cx="554.75" cy="971.79" r="5.9" fill="#468baa" />
<circle cx="626.58" cy="971.79" r="5.9" fill="#468baa" />
<circle cx="697.2" cy="1000.71" r="5.9" fill="#468baa" />
<polyline points="554.32,1007.94 626.14,998.54 698.24,989.87" stroke="#468baa" fill="none" stroke-width="3.8" stroke-linejoin="round"/>
<circle cx="554.32" cy="1007.94" r="5.9" fill="#468baa" />
<circle cx="626.14" cy="998.54" r="5.9" fill="#468baa" />
<circle cx="698.24" cy="989.87" r="5.9" fill="#468baa" />
<polyline points="552.29,1040.48 628.47,1034.69 699.01,1023.12" stroke="#468baa" fill="none" stroke-width="3.8" stroke-linejoin="round"/>
<circle cx="552.29" cy="1040.48" r="5.9" fill="#468baa" />
<circle cx="628.47" cy="1034.69" r="5.9" fill="#468baa" />
<circle cx="699.01" cy="1023.12" r="5.9" fill="#468baa" />
<polyline points="556.3,1026.02 626.93,1018.79 699.66,1022.4" stroke="#4992b3" fill="none" stroke-width="3.8" stroke-linejoin="round"/>
<circle cx="556.3" cy="1026.02" r="5.9" fill="#4992b3" />
<circle cx="626.93" cy="1018.79" r="5.9" fill="#4992b3" />
<circle cx="699.66" cy="1022.4" r="5.9" fill="#4992b3" />
<polyline points="555.79,1022.4 628.04,1015.17 695.17,1004.33" stroke="#4c99bb" fill="none" stroke-width="3.8" stroke-linejoin="round"/>
<circle cx="555.79" cy="1022.4" r="5.9" fill="#4c99bb" />
<circle cx="628.04" cy="1015.17" r="5.9" fill="#4c99bb" />
<circle cx="695.17" cy="1004.33" r="5.9" fill="#4c99bb" />
<polyline points="555.92,979.02 628.26,993.48 694.95,997.1" stroke="#4c99bb" fill="none" stroke-width="3.8" stroke-linejoin="round"/>
<circle cx="555.92" cy="979.02" r="5.9" fill="#4c99bb" />
<circle cx="628.26" cy="993.48" r="5.9" fill="#4c99bb" />
<circle cx="694.95" cy="997.1" r="5.9" fill="#4c99bb" />
<polyline points="555.1,975.41 625.18,989.87 694.93,986.25" stroke="#4ea0c4" fill="none" stroke-width="3.8" stroke-linejoin="round"/>
<circle cx="555.1" cy="975.41" r="5.9" fill="#4ea0c4" />
<circle cx="625.18" cy="989.87" r="5.9" fill="#4ea0c4" />
<circle cx="694.93" cy="986.25" r="5.9" fill="#4ea0c4" />
<polyline points="552.53,971.79 626.8,923.35 698.18,968.18" stroke="#51a7cc" fill="none" stroke-width="3.8" stroke-linejoin="round"/>
<circle cx="552.53" cy="971.79" r="5.9" fill="#51a7cc" />
<circle cx="626.8" cy="923.35" r="5.9" fill="#51a7cc" />
<circle cx="698.18" cy="968.18" r="5.9" fill="#51a7cc" />
<polyline points="555.32,982.63 624.1,1004.33 695.1,1007.94" stroke="#51a7cc" fill="none" stroke-width="3.8" stroke-linejoin="round"/>
<circle cx="555.32" cy="982.63" r="5.9" fill="#51a7cc" />
<circle cx="624.1" cy="1004.33" r="5.9" fill="#51a7cc" />
<circle cx="695.1" cy="1007.94" r="5.9" fill="#51a7cc" />
<polyline points="555.76,1015.17 626.92,1004.33 697.82,993.48" stroke="#54aed5" fill="none" stroke-width="3.8" stroke-linejoin="round"/>
<circle cx="555.76" cy="1015.17" r="5.9" fill="#54aed5" />
<circle cx="626.92" cy="1004.33" r="5.9" fill="#54aed5" />
<circle cx="697.82" cy="993.48" r="5.9" fill="#54aed5" />
<polyline points="555.39,986.25 625.54,971.79 695.57,982.63" stroke="#56b5dd" fill="none" stroke-width="3.8" stroke-linejoin="round"/>
<circle cx="555.39" cy="986.25" r="5.9" fill="#56b5dd" />
<circle cx="625.54" cy="971.79" r="5.9" fill="#56b5dd" />
<circle cx="695.57" cy="982.63" r="5.9" fill="#56b5dd" />
<polyline points="553.04,1026.02 626.5,986.25 696.39,993.48" stroke="#59bce6" fill="none" stroke-width="3.8" stroke-linejoin="round"/>
<circle cx="553.04" cy="1026.02" r="5.9" fill="#59bce6" />
<circle cx="626.5" cy="986.25" r="5.9" fill="#59bce6" />
<circle cx="696.39" cy="993.48" r="5.9" fill="#59bce6" />
<polyline points="555.54,975.41 627.01,932.03 698.87,937.81" stroke="#5cc3ee" fill="none" stroke-width="3.8" stroke-linejoin="round"/>
<circle cx="555.54" cy="975.41" r="5.9" fill="#5cc3ee" />
<circle cx="627.01" cy="932.03" r="5.9" fill="#5cc3ee" />
<circle cx="698.87" cy="937.81" r="5.9" fill="#5cc3ee" />
<polyline points="554.74,993.48 623.88,986.25 699.4,1007.94" stroke="#5cc3ee" fill="none" stroke-width="3.8" stroke-linejoin="round"/>
<circle cx="554.74" cy="993.48" r="5.9" fill="#5cc3ee" />
<circle cx="623.88" cy="986.25" r="5.9" fill="#5cc3ee" />
<circle cx="699.4" cy="1007.94" r="5.9" fill="#5cc3ee" />
<polyline points="555.05,1018.79 627.2,1010.83 696.82,1011.56" stroke="#5cc3ee" fill="none" stroke-width="3.8" stroke-linejoin="round"/>
<circle cx="555.05" cy="1018.79" r="5.9" fill="#5cc3ee" />
<circle cx="627.2" cy="1010.83" r="5.9" fill="#5cc3ee" />
<circle cx="696.82" cy="1011.56" r="5.9" fill="#5cc3ee" />
<line x1="519.2" y1="856" x2="519.2" y2="1073.8" stroke="#000" stroke-width="2.2" />
<line x1="508.5" y1="1022.4" x2="519.2" y2="1022.4" stroke="#000" stroke-width="2.2" />
<text x="502.2" y="1031.8" font-size="25.3" text-anchor="end" font-weight="normal" font-style="normal" fill="#000" >100</text>
<line x1="508.5" y1="950.1" x2="519.2" y2="950.1" stroke="#000" stroke-width="2.2" />
<text x="502.2" y="959.5" font-size="25.3" text-anchor="end" font-weight="normal" font-style="normal" fill="#000" >200</text>
<line x1="508.5" y1="877.8" x2="519.2" y2="877.8" stroke="#000" stroke-width="2.2" />
<text x="502.2" y="887.2" font-size="25.3" text-anchor="end" font-weight="normal" font-style="normal" fill="#000" >300</text>
<line x1="518.1" y1="1072.7" x2="751" y2="1072.7" stroke="#000" stroke-width="2.2" />
<line x1="554.4" y1="1072.7" x2="554.4" y2="1083.7" stroke="#000" stroke-width="2.2" />
<text x="554.4" y="1109.2" font-size="25.3" text-anchor="middle" font-weight="normal" font-style="normal" fill="#000" >0</text>
<line x1="626.1" y1="1072.7" x2="626.1" y2="1083.7" stroke="#000" stroke-width="2.2" />
<text x="626.1" y="1109.2" font-size="25.3" text-anchor="middle" font-weight="normal" font-style="normal" fill="#000" >10</text>
<line x1="697.4" y1="1072.7" x2="697.4" y2="1083.7" stroke="#000" stroke-width="2.2" />
<text x="697.4" y="1109.2" font-size="25.3" text-anchor="middle" font-weight="normal" font-style="normal" fill="#000" >0</text>
<text x="610.5" y="1139.7" font-size="25" fill="#000" textLength="30.2" lengthAdjust="spacingAndGlyphs" >ZT</text>
<text x="704.45" y="1064.7" font-size="25.3" font-style="italic" fill="#000" textLength="14.34" lengthAdjust="spacingAndGlyphs" >n</text>
<text x="725.59" y="1064.7" font-size="25.3" fill="#000" textLength="50.31" lengthAdjust="spacingAndGlyphs" >= 30</text>
<rect x="836.8" y="856" width="29.2" height="216.7" fill="#faf6de" />
<rect x="957.3" y="856" width="51.5" height="216.7" fill="#faf6de" />
<polyline points="871.71,1031.08 945.24,1036.86 1012.94,1033.25" stroke="#4f2f40" fill="none" stroke-width="3.8" stroke-linejoin="round"/>
<circle cx="871.71" cy="1031.08" r="5.9" fill="#4f2f40" />
<circle cx="945.24" cy="1036.86" r="5.9" fill="#4f2f40" />
<circle cx="1012.94" cy="1033.25" r="5.9" fill="#4f2f40" />
<polyline points="871.22,1045.54 942.14,1048.43 1016.84,1040.48" stroke="#4f2f40" fill="none" stroke-width="3.8" stroke-linejoin="round"/>
<circle cx="871.22" cy="1045.54" r="5.9" fill="#4f2f40" />
<circle cx="942.14" cy="1048.43" r="5.9" fill="#4f2f40" />
<circle cx="1016.84" cy="1040.48" r="5.9" fill="#4f2f40" />
<polyline points="873.56,1022.4 945.52,1022.4 1015.75,1007.94" stroke="#563446" fill="none" stroke-width="3.8" stroke-linejoin="round"/>
<circle cx="873.56" cy="1022.4" r="5.9" fill="#563446" />
<circle cx="945.52" cy="1022.4" r="5.9" fill="#563446" />
<circle cx="1015.75" cy="1007.94" r="5.9" fill="#563446" />
<polyline points="870.29,1029.63 941.57,1042.64 1013.77,1038.31" stroke="#563446" fill="none" stroke-width="3.8" stroke-linejoin="round"/>
<circle cx="870.29" cy="1029.63" r="5.9" fill="#563446" />
<circle cx="941.57" cy="1042.64" r="5.9" fill="#563446" />
<circle cx="1013.77" cy="1038.31" r="5.9" fill="#563446" />
<polyline points="873.11,1033.25 943.86,1029.63 1015.4,1026.02" stroke="#5e394d" fill="none" stroke-width="3.8" stroke-linejoin="round"/>
<circle cx="873.11" cy="1033.25" r="5.9" fill="#5e394d" />
<circle cx="943.86" cy="1029.63" r="5.9" fill="#5e394d" />
<circle cx="1015.4" cy="1026.02" r="5.9" fill="#5e394d" />
<polyline points="871.46,1018.79 943.2,1026.02 1013.61,1018.79" stroke="#663e53" fill="none" stroke-width="3.8" stroke-linejoin="round"/>
<circle cx="871.46" cy="1018.79" r="5.9" fill="#663e53" />
<circle cx="943.2" cy="1026.02" r="5.9" fill="#663e53" />
<circle cx="1013.61" cy="1018.79" r="5.9" fill="#663e53" />
<polyline points="873.13,932.03 943.94,950.1 1013.01,971.79" stroke="#754861" fill="none" stroke-width="3.8" stroke-linejoin="round"/>
<circle cx="873.13" cy="932.03" r="5.9" fill="#754861" />
<circle cx="943.94" cy="950.1" r="5.9" fill="#754861" />
<circle cx="1013.01" cy="971.79" r="5.9" fill="#754861" />
<polyline points="869.48,973.24 943.5,950.1 1013.21,932.03" stroke="#754861" fill="none" stroke-width="3.8" stroke-linejoin="round"/>
<circle cx="869.48" cy="973.24" r="5.9" fill="#754861" />
<circle cx="943.5" cy="950.1" r="5.9" fill="#754861" />
<circle cx="1013.21" cy="932.03" r="5.9" fill="#754861" />
<polyline points="870.22,1023.85 945.01,1033.25 1017.27,1022.4" stroke="#754861" fill="none" stroke-width="3.8" stroke-linejoin="round"/>
<circle cx="870.22" cy="1023.85" r="5.9" fill="#754861" />
<circle cx="945.01" cy="1033.25" r="5.9" fill="#754861" />
<circle cx="1017.27" cy="1022.4" r="5.9" fill="#754861" />
<polyline points="869.96,942.87 945.45,989.87 1016.89,993.48" stroke="#7d4d67" fill="none" stroke-width="3.8" stroke-linejoin="round"/>
<circle cx="869.96" cy="942.87" r="5.9" fill="#7d4d67" />
<circle cx="945.45" cy="989.87" r="5.9" fill="#7d4d67" />
<circle cx="1016.89" cy="993.48" r="5.9" fill="#7d4d67" />
<polyline points="871.38,1011.56 943.14,1015.17 1015.28,1022.4" stroke="#85526e" fill="none" stroke-width="3.8" stroke-linejoin="round"/>
<circle cx="871.38" cy="1011.56" r="5.9" fill="#85526e" />
<circle cx="943.14" cy="1015.17" r="5.9" fill="#85526e" />
<circle cx="1015.28" cy="1022.4" r="5.9" fill="#85526e" />
<polyline points="872.53,1016.62 941.35,1009.39 1017.35,1004.33" stroke="#8c5774" fill="none" stroke-width="3.8" stroke-linejoin="round"/>
<circle cx="872.53" cy="1016.62" r="5.9" fill="#8c5774" />
<circle cx="941.35" cy="1009.39" r="5.9" fill="#8c5774" />
<circle cx="1017.35" cy="1004.33" r="5.9" fill="#8c5774" />
<polyline points="873.54,1004.33 942.17,1007.94 1013.27,1015.17" stroke="#945c7b" fill="none" stroke-width="3.8" stroke-linejoin="round"/>
<circle cx="873.54" cy="1004.33" r="5.9" fill="#945c7b" />
<circle cx="942.17" cy="1007.94" r="5.9" fill="#945c7b" />
<circle cx="1013.27" cy="1015.17" r="5.9" fill="#945c7b" />
<polyline points="871.05,1009.39 943.73,1022.4 1014.73,1023.85" stroke="#9c6282" fill="none" stroke-width="3.8" stroke-linejoin="round"/>
<circle cx="871.05" cy="1009.39" r="5.9" fill="#9c6282" />
<circle cx="943.73" cy="1022.4" r="5.9" fill="#9c6282" />
<circle cx="1014.73" cy="1023.85" r="5.9" fill="#9c6282" />
<polyline points="870.5,993.48 944.7,989.87 1013.74,989.87" stroke="#a36788" fill="none" stroke-width="3.8" stroke-linejoin="round"/>
<circle cx="870.5" cy="993.48" r="5.9" fill="#a36788" />
<circle cx="944.7" cy="989.87" r="5.9" fill="#a36788" />
<circle cx="1013.74" cy="989.87" r="5.9" fill="#a36788" />
<polyline points="870.14,1015.17 943.75,1004.33 1017.27,1011.56" stroke="#a36788" fill="none" stroke-width="3.8" stroke-linejoin="round"/>
<circle cx="870.14" cy="1015.17" r="5.9" fill="#a36788" />
<circle cx="943.75" cy="1004.33" r="5.9" fill="#a36788" />
<circle cx="1017.27" cy="1011.56" r="5.9" fill="#a36788" />
<polyline points="869.92,1013.72 943.06,1000.71 1017.19,1018.79" stroke="#ab6c8f" fill="none" stroke-width="3.8" stroke-linejoin="round"/>
<circle cx="869.92" cy="1013.72" r="5.9" fill="#ab6c8f" />
<circle cx="943.06" cy="1000.71" r="5.9" fill="#ab6c8f" />
<circle cx="1017.19" cy="1018.79" r="5.9" fill="#ab6c8f" />
<polyline points="870.43,1007.94 945.83,1011.56 1014.89,1000.71" stroke="#b37195" fill="none" stroke-width="3.8" stroke-linejoin="round"/>
<circle cx="870.43" cy="1007.94" r="5.9" fill="#b37195" />
<circle cx="945.83" cy="1011.56" r="5.9" fill="#b37195" />
<circle cx="1014.89" cy="1000.71" r="5.9" fill="#b37195" />
<polyline points="872.53,1026.02 943.01,1018.79 1012.73,1029.63" stroke="#ba769c" fill="none" stroke-width="3.8" stroke-linejoin="round"/>
<circle cx="872.53" cy="1026.02" r="5.9" fill="#ba769c" />
<circle cx="943.01" cy="1018.79" r="5.9" fill="#ba769c" />
<circle cx="1012.73" cy="1029.63" r="5.9" fill="#ba769c" />
<polyline points="869.95,1028.18 942.29,1031.08 1017.4,1015.17" stroke="#c27ba3" fill="none" stroke-width="3.8" stroke-linejoin="round"/>
<circle cx="869.95" cy="1028.18" r="5.9" fill="#c27ba3" />
<circle cx="942.29" cy="1031.08" r="5.9" fill="#c27ba3" />
<circle cx="1017.4" cy="1015.17" r="5.9" fill="#c27ba3" />
<polyline points="872.9,997.1 943.87,993.48 1015.36,997.1" stroke="#ca80a9" fill="none" stroke-width="3.8" stroke-linejoin="round"/>
<circle cx="872.9" cy="997.1" r="5.9" fill="#ca80a9" />
<circle cx="943.87" cy="993.48" r="5.9" fill="#ca80a9" />
<circle cx="1015.36" cy="997.1" r="5.9" fill="#ca80a9" />
<polyline points="870.98,963.11 941.68,979.02 1014.11,980.47" stroke="#d285b0" fill="none" stroke-width="3.8" stroke-linejoin="round"/>
<circle cx="870.98" cy="963.11" r="5.9" fill="#d285b0" />
<circle cx="941.68" cy="979.02" r="5.9" fill="#d285b0" />
<circle cx="1014.11" cy="980.47" r="5.9" fill="#d285b0" />
<polyline points="869.51,1004.33 943.06,1015.17 1017.29,1029.63" stroke="#d285b0" fill="none" stroke-width="3.8" stroke-linejoin="round"/>
<circle cx="869.51" cy="1004.33" r="5.9" fill="#d285b0" />
<circle cx="943.06" cy="1015.17" r="5.9" fill="#d285b0" />
<circle cx="1017.29" cy="1029.63" r="5.9" fill="#d285b0" />
<polyline points="872,1000.71 941.91,997.1 1017.06,1004.33" stroke="#e18fbd" fill="none" stroke-width="3.8" stroke-linejoin="round"/>
<circle cx="872" cy="1000.71" r="5.9" fill="#e18fbd" />
<circle cx="941.91" cy="997.1" r="5.9" fill="#e18fbd" />
<circle cx="1017.06" cy="1004.33" r="5.9" fill="#e18fbd" />
<polyline points="870.24,1036.86 943.93,1042.64 1016.64,1036.86" stroke="#e18fbd" fill="none" stroke-width="3.8" stroke-linejoin="round"/>
<circle cx="870.24" cy="1036.86" r="5.9" fill="#e18fbd" />
<circle cx="943.93" cy="1042.64" r="5.9" fill="#e18fbd" />
<circle cx="1016.64" cy="1036.86" r="5.9" fill="#e18fbd" />
<line x1="836.8" y1="856" x2="836.8" y2="1073.8" stroke="#000" stroke-width="2.2" />
<line x1="826.1" y1="1022.4" x2="836.8" y2="1022.4" stroke="#000" stroke-width="2.2" />
<text x="819.8" y="1031.8" font-size="25.3" text-anchor="end" font-weight="normal" font-style="normal" fill="#000" >100</text>
<line x1="826.1" y1="950.1" x2="836.8" y2="950.1" stroke="#000" stroke-width="2.2" />
<text x="819.8" y="959.5" font-size="25.3" text-anchor="end" font-weight="normal" font-style="normal" fill="#000" >200</text>
<line x1="826.1" y1="877.8" x2="836.8" y2="877.8" stroke="#000" stroke-width="2.2" />
<text x="819.8" y="887.2" font-size="25.3" text-anchor="end" font-weight="normal" font-style="normal" fill="#000" >300</text>
<line x1="835.7" y1="1072.7" x2="1068.7" y2="1072.7" stroke="#000" stroke-width="2.2" />
<line x1="871.9" y1="1072.7" x2="871.9" y2="1083.7" stroke="#000" stroke-width="2.2" />
<text x="871.9" y="1109.2" font-size="25.3" text-anchor="middle" font-weight="normal" font-style="normal" fill="#000" >0</text>
<line x1="943.7" y1="1072.7" x2="943.7" y2="1083.7" stroke="#000" stroke-width="2.2" />
<text x="943.7" y="1109.2" font-size="25.3" text-anchor="middle" font-weight="normal" font-style="normal" fill="#000" >10</text>
<line x1="1015" y1="1072.7" x2="1015" y2="1083.7" stroke="#000" stroke-width="2.2" />
<text x="1015" y="1109.2" font-size="25.3" text-anchor="middle" font-weight="normal" font-style="normal" fill="#000" >0</text>
<text x="928.1" y="1139.7" font-size="25" fill="#000" textLength="30.2" lengthAdjust="spacingAndGlyphs" >ZT</text>
<text x="1020.55" y="1064.7" font-size="25.3" font-style="italic" fill="#000" textLength="14.34" lengthAdjust="spacingAndGlyphs" >n</text>
<text x="1041.69" y="1064.7" font-size="25.3" fill="#000" textLength="50.38" lengthAdjust="spacingAndGlyphs" >= 25</text>
<rect x="1150.1" y="856" width="29" height="216.7" fill="#faf6de" />
<rect x="1270.7" y="856" width="51.5" height="216.7" fill="#faf6de" />
<polyline points="1187.06,927.69 1259.08,937.81 1327.15,926.96" stroke="#1b2b26" fill="none" stroke-width="3.8" stroke-linejoin="round"/>
<circle cx="1187.06" cy="927.69" r="5.9" fill="#1b2b26" />
<circle cx="1259.08" cy="937.81" r="5.9" fill="#1b2b26" />
<circle cx="1327.15" cy="926.96" r="5.9" fill="#1b2b26" />
<polyline points="1184.15,1022.4 1255.54,1018.79 1328.95,1033.25" stroke="#1a3830" fill="none" stroke-width="3.8" stroke-linejoin="round"/>
<circle cx="1184.15" cy="1022.4" r="5.9" fill="#1a3830" />
<circle cx="1255.54" cy="1018.79" r="5.9" fill="#1a3830" />
<circle cx="1328.95" cy="1033.25" r="5.9" fill="#1a3830" />
<polyline points="1185.42,960.22 1255.98,972.51 1329.77,977.57" stroke="#193e35" fill="none" stroke-width="3.8" stroke-linejoin="round"/>
<circle cx="1185.42" cy="960.22" r="5.9" fill="#193e35" />
<circle cx="1255.98" cy="972.51" r="5.9" fill="#193e35" />
<circle cx="1329.77" cy="977.57" r="5.9" fill="#193e35" />
<polyline points="1186.12,1004.33 1257.8,1007.94 1330.1,1004.33" stroke="#18453a" fill="none" stroke-width="3.8" stroke-linejoin="round"/>
<circle cx="1186.12" cy="1004.33" r="5.9" fill="#18453a" />
<circle cx="1257.8" cy="1007.94" r="5.9" fill="#18453a" />
<circle cx="1330.1" cy="1004.33" r="5.9" fill="#18453a" />
<polyline points="1185.32,1023.85 1257.39,1016.62 1328.2,1029.63" stroke="#184b3f" fill="none" stroke-width="3.8" stroke-linejoin="round"/>
<circle cx="1185.32" cy="1023.85" r="5.9" fill="#184b3f" />
<circle cx="1257.39" cy="1016.62" r="5.9" fill="#184b3f" />
<circle cx="1328.2" cy="1029.63" r="5.9" fill="#184b3f" />
<polyline points="1187.21,1000.71 1258.83,972.51 1328.93,973.24" stroke="#175144" fill="none" stroke-width="3.8" stroke-linejoin="round"/>
<circle cx="1187.21" cy="1000.71" r="5.9" fill="#175144" />
<circle cx="1258.83" cy="972.51" r="5.9" fill="#175144" />
<circle cx="1328.93" cy="973.24" r="5.9" fill="#175144" />
<polyline points="1185.61,1035.41 1257.55,1044.09 1330.06,1029.63" stroke="#165849" fill="none" stroke-width="3.8" stroke-linejoin="round"/>
<circle cx="1185.61" cy="1035.41" r="5.9" fill="#165849" />
<circle cx="1257.55" cy="1044.09" r="5.9" fill="#165849" />
<circle cx="1330.06" cy="1029.63" r="5.9" fill="#165849" />
<polyline points="1186.35,1002.16 1258.01,1004.33 1326.02,992.03" stroke="#165e4e" fill="none" stroke-width="3.8" stroke-linejoin="round"/>
<circle cx="1186.35" cy="1002.16" r="5.9" fill="#165e4e" />
<circle cx="1258.01" cy="1004.33" r="5.9" fill="#165e4e" />
<circle cx="1326.02" cy="992.03" r="5.9" fill="#165e4e" />
<polyline points="1185.33,1015.17 1258.13,1004.33 1327.48,1023.85" stroke="#146b58" fill="none" stroke-width="3.8" stroke-linejoin="round"/>
<circle cx="1185.33" cy="1015.17" r="5.9" fill="#146b58" />
<circle cx="1258.13" cy="1004.33" r="5.9" fill="#146b58" />
<circle cx="1327.48" cy="1023.85" r="5.9" fill="#146b58" />
<polyline points="1186.31,1033.25 1256.96,1036.86 1326,1042.64" stroke="#14715d" fill="none" stroke-width="3.8" stroke-linejoin="round"/>
<circle cx="1186.31" cy="1033.25" r="5.9" fill="#14715d" />
<circle cx="1256.96" cy="1036.86" r="5.9" fill="#14715d" />
<circle cx="1326" cy="1042.64" r="5.9" fill="#14715d" />
<polyline points="1186.2,1026.02 1254.94,1015.17 1328.63,1022.4" stroke="#137862" fill="none" stroke-width="3.8" stroke-linejoin="round"/>
<circle cx="1186.2" cy="1026.02" r="5.9" fill="#137862" />
<circle cx="1254.94" cy="1015.17" r="5.9" fill="#137862" />
<circle cx="1328.63" cy="1022.4" r="5.9" fill="#137862" />
<polyline points="1187.27,1047.71 1258.13,1054.93 1328.85,1054.93" stroke="#119176" fill="none" stroke-width="3.8" stroke-linejoin="round"/>
<circle cx="1187.27" cy="1047.71" r="5.9" fill="#119176" />
<circle cx="1258.13" cy="1054.93" r="5.9" fill="#119176" />
<circle cx="1328.85" cy="1054.93" r="5.9" fill="#119176" />
<polyline points="1183.89,986.25 1258.16,939.26 1327.43,957.33" stroke="#10987b" fill="none" stroke-width="3.8" stroke-linejoin="round"/>
<circle cx="1183.89" cy="986.25" r="5.9" fill="#10987b" />
<circle cx="1258.16" cy="939.26" r="5.9" fill="#10987b" />
<circle cx="1327.43" cy="957.33" r="5.9" fill="#10987b" />
<polyline points="1184.01,1011.56 1255.27,1015.17 1329.91,1007.94" stroke="#0f9e80" fill="none" stroke-width="3.8" stroke-linejoin="round"/>
<circle cx="1184.01" cy="1011.56" r="5.9" fill="#0f9e80" />
<circle cx="1255.27" cy="1015.17" r="5.9" fill="#0f9e80" />
<circle cx="1329.91" cy="1007.94" r="5.9" fill="#0f9e80" />
<polyline points="1184.38,1007.94 1258.54,1016.62 1330.41,1022.4" stroke="#0eab8a" fill="none" stroke-width="3.8" stroke-linejoin="round"/>
<circle cx="1184.38" cy="1007.94" r="5.9" fill="#0eab8a" />
<circle cx="1258.54" cy="1016.62" r="5.9" fill="#0eab8a" />
<circle cx="1330.41" cy="1022.4" r="5.9" fill="#0eab8a" />
<line x1="1150.1" y1="856" x2="1150.1" y2="1073.8" stroke="#000" stroke-width="2.2" />
<line x1="1139.4" y1="1022.4" x2="1150.1" y2="1022.4" stroke="#000" stroke-width="2.2" />
<text x="1133.1" y="1031.8" font-size="25.3" text-anchor="end" font-weight="normal" font-style="normal" fill="#000" >100</text>
<line x1="1139.4" y1="950.1" x2="1150.1" y2="950.1" stroke="#000" stroke-width="2.2" />
<text x="1133.1" y="959.5" font-size="25.3" text-anchor="end" font-weight="normal" font-style="normal" fill="#000" >200</text>
<line x1="1139.4" y1="877.8" x2="1150.1" y2="877.8" stroke="#000" stroke-width="2.2" />
<text x="1133.1" y="887.2" font-size="25.3" text-anchor="end" font-weight="normal" font-style="normal" fill="#000" >300</text>
<line x1="1149" y1="1072.7" x2="1381.6" y2="1072.7" stroke="#000" stroke-width="2.2" />
<line x1="1185.3" y1="1072.7" x2="1185.3" y2="1083.7" stroke="#000" stroke-width="2.2" />
<text x="1185.3" y="1109.2" font-size="25.3" text-anchor="middle" font-weight="normal" font-style="normal" fill="#000" >0</text>
<line x1="1256.6" y1="1072.7" x2="1256.6" y2="1083.7" stroke="#000" stroke-width="2.2" />
<text x="1256.6" y="1109.2" font-size="25.3" text-anchor="middle" font-weight="normal" font-style="normal" fill="#000" >10</text>
<line x1="1328.4" y1="1072.7" x2="1328.4" y2="1083.7" stroke="#000" stroke-width="2.2" />
<text x="1328.4" y="1109.2" font-size="25.3" text-anchor="middle" font-weight="normal" font-style="normal" fill="#000" >0</text>
<text x="1241" y="1139.7" font-size="25" fill="#000" textLength="30.2" lengthAdjust="spacingAndGlyphs" >ZT</text>
<text x="1342.75" y="1064.7" font-size="25.3" font-style="italic" fill="#000" textLength="14.34" lengthAdjust="spacingAndGlyphs" >n</text>
<text x="1363.89" y="1064.7" font-size="25.3" fill="#000" textLength="50.38" lengthAdjust="spacingAndGlyphs" >= 15</text>
<text x="13.11" y="1190.7" font-size="32" font-weight="bold" fill="#000" textLength="24.31" lengthAdjust="spacingAndGlyphs" >h</text>
<rect x="280" y="1171.6" width="90.8" height="216.4" fill="#e6e6e6" />
<line x1="204.6" y1="1326" x2="428" y2="1326" stroke="#555" stroke-width="2.2" stroke-dasharray="9,6"/>
<line x1="257.2" y1="1204" x2="257.2" y2="1267" stroke="#5bbde8" stroke-width="4.8" />
<circle cx="257.2" cy="1236.9" r="6.2" fill="#5bbde8" />
<line x1="373" y1="1316" x2="373" y2="1364" stroke="#5bbde8" stroke-width="4.8" />
<circle cx="373" cy="1337.8" r="6.2" fill="#5bbde8" />
<line x1="262.9" y1="1315" x2="262.9" y2="1357" stroke="#e08ebb" stroke-width="4.8" />
<circle cx="262.9" cy="1335.5" r="6.2" fill="#e08ebb" />
<line x1="378.7" y1="1307.5" x2="378.7" y2="1346.4" stroke="#e08ebb" stroke-width="4.8" />
<circle cx="378.7" cy="1327.6" r="6.2" fill="#e08ebb" />
<line x1="268.9" y1="1262.3" x2="268.9" y2="1326" stroke="#0fa680" stroke-width="4.8" />
<circle cx="268.9" cy="1294.2" r="6.2" fill="#0fa680" />
<line x1="385.4" y1="1325" x2="385.4" y2="1375.3" stroke="#0fa680" stroke-width="4.8" />
<circle cx="385.4" cy="1349.9" r="6.2" fill="#0fa680" />
<text x="238" y="1235" font-size="26" text-anchor="middle" font-weight="normal" font-style="normal" fill="#000" >*</text>
<line x1="204.6" y1="1171.6" x2="204.6" y2="1389.1" stroke="#000" stroke-width="2.2" />
<line x1="193.9" y1="1387.9" x2="204.6" y2="1387.9" stroke="#000" stroke-width="2.2" />
<text x="187.6" y="1397.3" font-size="25.3" text-anchor="end" font-weight="normal" font-style="normal" fill="#000" >−10</text>
<line x1="193.9" y1="1326" x2="204.6" y2="1326" stroke="#000" stroke-width="2.2" />
<text x="187.6" y="1335.4" font-size="25.3" text-anchor="end" font-weight="normal" font-style="normal" fill="#000" >0</text>
<line x1="193.9" y1="1264.1" x2="204.6" y2="1264.1" stroke="#000" stroke-width="2.2" />
<text x="187.6" y="1273.5" font-size="25.3" text-anchor="end" font-weight="normal" font-style="normal" fill="#000" >10</text>
<line x1="193.9" y1="1202.2" x2="204.6" y2="1202.2" stroke="#000" stroke-width="2.2" />
<text x="187.6" y="1211.6" font-size="25.3" text-anchor="end" font-weight="normal" font-style="normal" fill="#000" >20</text>
<line x1="203.5" y1="1388" x2="437.6" y2="1388" stroke="#000" stroke-width="2.2" />
<line x1="262.6" y1="1388" x2="262.6" y2="1399" stroke="#000" stroke-width="2.2" />
<text x="231.01" y="1426.9" font-size="25.3" fill="#000" textLength="44.03" lengthAdjust="spacingAndGlyphs" >Day</text>
<text x="203.61" y="1453" font-size="25.3" fill="#000" textLength="108.11" lengthAdjust="spacingAndGlyphs" >dynamics</text>
<line x1="378.7" y1="1388" x2="378.7" y2="1399" stroke="#000" stroke-width="2.2" />
<text x="349.39" y="1426.9" font-size="25.3" fill="#000" textLength="59.69" lengthAdjust="spacingAndGlyphs" >Night</text>
<text x="328.76" y="1453" font-size="25.3" fill="#000" textLength="108.11" lengthAdjust="spacingAndGlyphs" >dynamics</text>
<text transform="translate(117.7,1377.7) rotate(-90)" x="-0.74" y="0" font-size="24.5" fill="#000" textLength="203.74" lengthAdjust="spacingAndGlyphs">Δ Synapse no. (%)</text>
<rect x="595.2" y="1169.8" width="89.8" height="217.3" fill="#b8b8b8" />
<polyline points="578.44,1213.1 690.74,1346.4" stroke="#253845" fill="none" stroke-width="3.8" stroke-linejoin="round"/>
<circle cx="578.44" cy="1213.1" r="5.9" fill="#253845" />
<circle cx="690.74" cy="1346.4" r="5.9" fill="#253845" />
<polyline points="575.77,1265.8 691.58,1347.17" stroke="#283f4d" fill="none" stroke-width="3.8" stroke-linejoin="round"/>
<circle cx="575.77" cy="1265.8" r="5.9" fill="#283f4d" />
<circle cx="691.58" cy="1347.17" r="5.9" fill="#283f4d" />
<polyline points="577.3,1198.38 693.74,1354.15" stroke="#2a4656" fill="none" stroke-width="3.8" stroke-linejoin="round"/>
<circle cx="577.3" cy="1198.38" r="5.9" fill="#2a4656" />
<circle cx="693.74" cy="1354.15" r="5.9" fill="#2a4656" />
<polyline points="579.14,1327.03 692.11,1294.32" stroke="#305467" fill="none" stroke-width="3.8" stroke-linejoin="round"/>
<circle cx="579.14" cy="1327.03" r="5.9" fill="#305467" />
<circle cx="692.11" cy="1294.32" r="5.9" fill="#305467" />
<polyline points="577.81,1292.15 693.25,1286.73" stroke="#366278" fill="none" stroke-width="3.8" stroke-linejoin="round"/>
<circle cx="577.81" cy="1292.15" r="5.9" fill="#366278" />
<circle cx="693.25" cy="1286.73" r="5.9" fill="#366278" />
<polyline points="579.4,1270.45 693.38,1354.15" stroke="#366278" fill="none" stroke-width="3.8" stroke-linejoin="round"/>
<circle cx="579.4" cy="1270.45" r="5.9" fill="#366278" />
<circle cx="693.38" cy="1354.15" r="5.9" fill="#366278" />
<polyline points="575.94,1309.2 690.62,1322.38" stroke="#386980" fill="none" stroke-width="3.8" stroke-linejoin="round"/>
<circle cx="575.94" cy="1309.2" r="5.9" fill="#386980" />
<circle cx="690.62" cy="1322.38" r="5.9" fill="#386980" />
<polyline points="579.22,1247.2 695.3,1332.45" stroke="#3b7089" fill="none" stroke-width="3.8" stroke-linejoin="round"/>
<circle cx="579.22" cy="1247.2" r="5.9" fill="#3b7089" />
<circle cx="695.3" cy="1332.45" r="5.9" fill="#3b7089" />
<polyline points="577.09,1312.3 692.32,1316.95" stroke="#3b7089" fill="none" stroke-width="3.8" stroke-linejoin="round"/>
<circle cx="577.09" cy="1312.3" r="5.9" fill="#3b7089" />
<circle cx="692.32" cy="1316.95" r="5.9" fill="#3b7089" />
<polyline points="575.26,1293.7 694.71,1309.2" stroke="#3e7791" fill="none" stroke-width="3.8" stroke-linejoin="round"/>
<circle cx="575.26" cy="1293.7" r="5.9" fill="#3e7791" />
<circle cx="694.71" cy="1309.2" r="5.9" fill="#3e7791" />
<polyline points="574.46,1241.62 694.8,1294.32" stroke="#407e9a" fill="none" stroke-width="3.8" stroke-linejoin="round"/>
<circle cx="574.46" cy="1241.62" r="5.9" fill="#407e9a" />
<circle cx="694.8" cy="1294.32" r="5.9" fill="#407e9a" />
<polyline points="579.29,1304.55 691.57,1269.52" stroke="#407e9a" fill="none" stroke-width="3.8" stroke-linejoin="round"/>
<circle cx="579.29" cy="1304.55" r="5.9" fill="#407e9a" />
<circle cx="691.57" cy="1269.52" r="5.9" fill="#407e9a" />
<polyline points="578.82,1340.2 694.65,1286.73" stroke="#407e9a" fill="none" stroke-width="3.8" stroke-linejoin="round"/>
<circle cx="578.82" cy="1340.2" r="5.9" fill="#407e9a" />
<circle cx="694.65" cy="1286.73" r="5.9" fill="#407e9a" />
<polyline points="576.68,1273.55 695.05,1305.33" stroke="#4384a2" fill="none" stroke-width="3.8" stroke-linejoin="round"/>
<circle cx="576.68" cy="1273.55" r="5.9" fill="#4384a2" />
<circle cx="695.05" cy="1305.33" r="5.9" fill="#4384a2" />
<polyline points="577.06,1296.8 694.72,1295.25" stroke="#4384a2" fill="none" stroke-width="3.8" stroke-linejoin="round"/>
<circle cx="577.06" cy="1296.8" r="5.9" fill="#4384a2" />
<circle cx="694.72" cy="1295.25" r="5.9" fill="#4384a2" />
<polyline points="578.65,1253.4 692.09,1300.37" stroke="#468baa" fill="none" stroke-width="3.8" stroke-linejoin="round"/>
<circle cx="578.65" cy="1253.4" r="5.9" fill="#468baa" />
<circle cx="692.09" cy="1300.37" r="5.9" fill="#468baa" />
<polyline points="577.35,1287.5 693.55,1279.75" stroke="#468baa" fill="none" stroke-width="3.8" stroke-linejoin="round"/>
<circle cx="577.35" cy="1287.5" r="5.9" fill="#468baa" />
<circle cx="693.55" cy="1279.75" r="5.9" fill="#468baa" />
<polyline points="575.04,1352.6 693.04,1279.75" stroke="#468baa" fill="none" stroke-width="3.8" stroke-linejoin="round"/>
<circle cx="575.04" cy="1352.6" r="5.9" fill="#468baa" />
<circle cx="693.04" cy="1279.75" r="5.9" fill="#468baa" />
<polyline points="576.18,1301.45 694.29,1300.37" stroke="#4992b3" fill="none" stroke-width="3.8" stroke-linejoin="round"/>
<circle cx="576.18" cy="1301.45" r="5.9" fill="#4992b3" />
<circle cx="694.29" cy="1300.37" r="5.9" fill="#4992b3" />
<polyline points="577.93,1259.6 691.07,1322.38" stroke="#4c99bb" fill="none" stroke-width="3.8" stroke-linejoin="round"/>
<circle cx="577.93" cy="1259.6" r="5.9" fill="#4c99bb" />
<circle cx="691.07" cy="1322.38" r="5.9" fill="#4c99bb" />
<polyline points="575.94,1346.4 695.11,1312.3" stroke="#4c99bb" fill="none" stroke-width="3.8" stroke-linejoin="round"/>
<circle cx="575.94" cy="1346.4" r="5.9" fill="#4c99bb" />
<circle cx="695.11" cy="1312.3" r="5.9" fill="#4c99bb" />
<polyline points="575.05,1278.2 693.11,1332.45" stroke="#4ea0c4" fill="none" stroke-width="3.8" stroke-linejoin="round"/>
<circle cx="575.05" cy="1278.2" r="5.9" fill="#4ea0c4" />
<circle cx="693.11" cy="1332.45" r="5.9" fill="#4ea0c4" />
<polyline points="578.8,1298.35 691.2,1312.3" stroke="#51a7cc" fill="none" stroke-width="3.8" stroke-linejoin="round"/>
<circle cx="578.8" cy="1298.35" r="5.9" fill="#51a7cc" />
<circle cx="691.2" cy="1312.3" r="5.9" fill="#51a7cc" />
<polyline points="575,1343.3 690.6,1269.52" stroke="#51a7cc" fill="none" stroke-width="3.8" stroke-linejoin="round"/>
<circle cx="575" cy="1343.3" r="5.9" fill="#51a7cc" />
<circle cx="690.6" cy="1269.52" r="5.9" fill="#51a7cc" />
<polyline points="576.95,1250.3 690.64,1324.7" stroke="#54aed5" fill="none" stroke-width="3.8" stroke-linejoin="round"/>
<circle cx="576.95" cy="1250.3" r="5.9" fill="#54aed5" />
<circle cx="690.64" cy="1324.7" r="5.9" fill="#54aed5" />
<polyline points="575.95,1262.7 692.4,1340.98" stroke="#56b5dd" fill="none" stroke-width="3.8" stroke-linejoin="round"/>
<circle cx="575.95" cy="1262.7" r="5.9" fill="#56b5dd" />
<circle cx="692.4" cy="1340.98" r="5.9" fill="#56b5dd" />
<polyline points="575.64,1316.95 694.9,1312.3" stroke="#56b5dd" fill="none" stroke-width="3.8" stroke-linejoin="round"/>
<circle cx="575.64" cy="1316.95" r="5.9" fill="#56b5dd" />
<circle cx="694.9" cy="1312.3" r="5.9" fill="#56b5dd" />
<polyline points="575.38,1335.55 694.56,1256.5" stroke="#59bce6" fill="none" stroke-width="3.8" stroke-linejoin="round"/>
<circle cx="575.38" cy="1335.55" r="5.9" fill="#59bce6" />
<circle cx="694.56" cy="1256.5" r="5.9" fill="#59bce6" />
<polyline points="575.12,1218.84 695.32,1340.98" stroke="#5cc3ee" fill="none" stroke-width="3.8" stroke-linejoin="round"/>
<circle cx="575.12" cy="1218.84" r="5.9" fill="#5cc3ee" />
<circle cx="695.32" cy="1340.98" r="5.9" fill="#5cc3ee" />
<polyline points="578.14,1285.95 693.23,1305.33" stroke="#5cc3ee" fill="none" stroke-width="3.8" stroke-linejoin="round"/>
<circle cx="578.14" cy="1285.95" r="5.9" fill="#5cc3ee" />
<circle cx="693.23" cy="1305.33" r="5.9" fill="#5cc3ee" />
<line x1="519.2" y1="1169.8" x2="519.2" y2="1388.2" stroke="#000" stroke-width="2.2" />
<line x1="508.5" y1="1386.7" x2="519.2" y2="1386.7" stroke="#000" stroke-width="2.2" />
<text x="502.2" y="1396.1" font-size="25.3" text-anchor="end" font-weight="normal" font-style="normal" fill="#000" >−50</text>
<line x1="508.5" y1="1309.2" x2="519.2" y2="1309.2" stroke="#000" stroke-width="2.2" />
<text x="502.2" y="1318.6" font-size="25.3" text-anchor="end" font-weight="normal" font-style="normal" fill="#000" >0</text>
<line x1="508.5" y1="1231.7" x2="519.2" y2="1231.7" stroke="#000" stroke-width="2.2" />
<text x="502.2" y="1241.1" font-size="25.3" text-anchor="end" font-weight="normal" font-style="normal" fill="#000" >50</text>
<line x1="518.1" y1="1387.1" x2="751" y2="1387.1" stroke="#000" stroke-width="2.2" />
<line x1="576.9" y1="1387.1" x2="576.9" y2="1398.1" stroke="#000" stroke-width="2.2" />
<text x="542.01" y="1426.9" font-size="25.3" fill="#000" textLength="44.03" lengthAdjust="spacingAndGlyphs" >Day</text>
<text x="514.56" y="1453.2" font-size="25.3" fill="#000" textLength="108.11" lengthAdjust="spacingAndGlyphs" >dynamics</text>
<line x1="693" y1="1387.1" x2="693" y2="1398.1" stroke="#000" stroke-width="2.2" />
<text x="660.39" y="1426.9" font-size="25.3" fill="#000" textLength="59.69" lengthAdjust="spacingAndGlyphs" >Night</text>
<text x="639.66" y="1453.2" font-size="25.3" fill="#000" textLength="108.11" lengthAdjust="spacingAndGlyphs" >dynamics</text>
<rect x="912.2" y="1169.8" width="90.4" height="217.3" fill="#faf6de" />
<polyline points="896.65,1332.45 1011.79,1306.1" stroke="#563446" fill="none" stroke-width="3.8" stroke-linejoin="round"/>
<circle cx="896.65" cy="1332.45" r="5.9" fill="#563446" />
<circle cx="1011.79" cy="1306.1" r="5.9" fill="#563446" />
<polyline points="896.31,1339.42 1011.16,1292.15" stroke="#5e394d" fill="none" stroke-width="3.8" stroke-linejoin="round"/>
<circle cx="896.31" cy="1339.42" r="5.9" fill="#5e394d" />
<circle cx="1011.16" cy="1292.15" r="5.9" fill="#5e394d" />
<polyline points="894.36,1281.77 1008.52,1360.35" stroke="#663e53" fill="none" stroke-width="3.8" stroke-linejoin="round"/>
<circle cx="894.36" cy="1281.77" r="5.9" fill="#663e53" />
<circle cx="1008.52" cy="1360.35" r="5.9" fill="#663e53" />
<polyline points="894.43,1298.35 1012.96,1306.1" stroke="#663e53" fill="none" stroke-width="3.8" stroke-linejoin="round"/>
<circle cx="894.43" cy="1298.35" r="5.9" fill="#663e53" />
<circle cx="1012.96" cy="1306.1" r="5.9" fill="#663e53" />
<polyline points="894.34,1301.45 1010.35,1306.1" stroke="#6e435a" fill="none" stroke-width="3.8" stroke-linejoin="round"/>
<circle cx="894.34" cy="1301.45" r="5.9" fill="#6e435a" />
<circle cx="1010.35" cy="1306.1" r="5.9" fill="#6e435a" />
<polyline points="894.63,1289.05 1008.47,1329.35" stroke="#754861" fill="none" stroke-width="3.8" stroke-linejoin="round"/>
<circle cx="894.63" cy="1289.05" r="5.9" fill="#754861" />
<circle cx="1008.47" cy="1329.35" r="5.9" fill="#754861" />
<polyline points="893.13,1320.98 1008.4,1275.1" stroke="#754861" fill="none" stroke-width="3.8" stroke-linejoin="round"/>
<circle cx="893.13" cy="1320.98" r="5.9" fill="#754861" />
<circle cx="1008.4" cy="1275.1" r="5.9" fill="#754861" />
<polyline points="892.81,1278.2 1010.35,1329.35" stroke="#7d4d67" fill="none" stroke-width="3.8" stroke-linejoin="round"/>
<circle cx="892.81" cy="1278.2" r="5.9" fill="#7d4d67" />
<circle cx="1010.35" cy="1329.35" r="5.9" fill="#7d4d67" />
<polyline points="893.96,1264.25 1011.32,1306.1" stroke="#85526e" fill="none" stroke-width="3.8" stroke-linejoin="round"/>
<circle cx="893.96" cy="1264.25" r="5.9" fill="#85526e" />
<circle cx="1011.32" cy="1306.1" r="5.9" fill="#85526e" />
<polyline points="894.1,1293.7 1009.98,1299.9" stroke="#85526e" fill="none" stroke-width="3.8" stroke-linejoin="round"/>
<circle cx="894.1" cy="1293.7" r="5.9" fill="#85526e" />
<circle cx="1009.98" cy="1299.9" r="5.9" fill="#85526e" />
<polyline points="892.09,1290.6 1012.59,1343.3" stroke="#8c5774" fill="none" stroke-width="3.8" stroke-linejoin="round"/>
<circle cx="892.09" cy="1290.6" r="5.9" fill="#8c5774" />
<circle cx="1012.59" cy="1343.3" r="5.9" fill="#8c5774" />
<polyline points="892.32,1296.8 1009.84,1299.9" stroke="#945c7b" fill="none" stroke-width="3.8" stroke-linejoin="round"/>
<circle cx="892.32" cy="1296.8" r="5.9" fill="#945c7b" />
<circle cx="1009.84" cy="1299.9" r="5.9" fill="#945c7b" />
<polyline points="896.05,1358.8 1010.38,1329.35" stroke="#945c7b" fill="none" stroke-width="3.8" stroke-linejoin="round"/>
<circle cx="896.05" cy="1358.8" r="5.9" fill="#945c7b" />
<circle cx="1010.38" cy="1329.35" r="5.9" fill="#945c7b" />
<polyline points="892.54,1285.95 1010.12,1313.38" stroke="#9c6282" fill="none" stroke-width="3.8" stroke-linejoin="round"/>
<circle cx="892.54" cy="1285.95" r="5.9" fill="#9c6282" />
<circle cx="1010.12" cy="1313.38" r="5.9" fill="#9c6282" />
<polyline points="895.93,1303.78 1011.76,1278.98" stroke="#a36788" fill="none" stroke-width="3.8" stroke-linejoin="round"/>
<circle cx="895.93" cy="1303.78" r="5.9" fill="#a36788" />
<circle cx="1011.76" cy="1278.98" r="5.9" fill="#a36788" />
<polyline points="893.63,1323.15 1009.08,1299.9" stroke="#a36788" fill="none" stroke-width="3.8" stroke-linejoin="round"/>
<circle cx="893.63" cy="1323.15" r="5.9" fill="#a36788" />
<circle cx="1009.08" cy="1299.9" r="5.9" fill="#a36788" />
<polyline points="893.41,1329.35 1008.42,1313.38" stroke="#ab6c8f" fill="none" stroke-width="3.8" stroke-linejoin="round"/>
<circle cx="893.41" cy="1329.35" r="5.9" fill="#ab6c8f" />
<circle cx="1008.42" cy="1313.38" r="5.9" fill="#ab6c8f" />
<polyline points="895.35,1349.5 1009.04,1343.3" stroke="#b37195" fill="none" stroke-width="3.8" stroke-linejoin="round"/>
<circle cx="895.35" cy="1349.5" r="5.9" fill="#b37195" />
<circle cx="1009.04" cy="1343.3" r="5.9" fill="#b37195" />
<polyline points="891.92,1313.85 1011.36,1292.15" stroke="#ba769c" fill="none" stroke-width="3.8" stroke-linejoin="round"/>
<circle cx="891.92" cy="1313.85" r="5.9" fill="#ba769c" />
<circle cx="1011.36" cy="1292.15" r="5.9" fill="#ba769c" />
<polyline points="893.65,1326.25 1009.68,1338.03" stroke="#c27ba3" fill="none" stroke-width="3.8" stroke-linejoin="round"/>
<circle cx="893.65" cy="1326.25" r="5.9" fill="#c27ba3" />
<circle cx="1009.68" cy="1338.03" r="5.9" fill="#c27ba3" />
<polyline points="892.08,1316.95 1010.55,1278.98" stroke="#c27ba3" fill="none" stroke-width="3.8" stroke-linejoin="round"/>
<circle cx="892.08" cy="1316.95" r="5.9" fill="#c27ba3" />
<circle cx="1010.55" cy="1278.98" r="5.9" fill="#c27ba3" />
<polyline points="893.92,1343.3 1011.36,1299.9" stroke="#ca80a9" fill="none" stroke-width="3.8" stroke-linejoin="round"/>
<circle cx="893.92" cy="1343.3" r="5.9" fill="#ca80a9" />
<circle cx="1011.36" cy="1299.9" r="5.9" fill="#ca80a9" />
<polyline points="894.16,1310.75 1012.39,1313.38" stroke="#d285b0" fill="none" stroke-width="3.8" stroke-linejoin="round"/>
<circle cx="894.16" cy="1310.75" r="5.9" fill="#d285b0" />
<circle cx="1012.39" cy="1313.38" r="5.9" fill="#d285b0" />
<polyline points="892.74,1309.2 1008.7,1338.03" stroke="#d98ab6" fill="none" stroke-width="3.8" stroke-linejoin="round"/>
<circle cx="892.74" cy="1309.2" r="5.9" fill="#d98ab6" />
<circle cx="1008.7" cy="1338.03" r="5.9" fill="#d98ab6" />
<polyline points="896.5,1268.12 1012.88,1292.15" stroke="#e18fbd" fill="none" stroke-width="3.8" stroke-linejoin="round"/>
<circle cx="896.5" cy="1268.12" r="5.9" fill="#e18fbd" />
<circle cx="1012.88" cy="1292.15" r="5.9" fill="#e18fbd" />
<line x1="837.2" y1="1169.8" x2="837.2" y2="1388.2" stroke="#000" stroke-width="2.2" />
<line x1="826.5" y1="1386.7" x2="837.2" y2="1386.7" stroke="#000" stroke-width="2.2" />
<text x="820.2" y="1396.1" font-size="25.3" text-anchor="end" font-weight="normal" font-style="normal" fill="#000" >−50</text>
<line x1="826.5" y1="1309.2" x2="837.2" y2="1309.2" stroke="#000" stroke-width="2.2" />
<text x="820.2" y="1318.6" font-size="25.3" text-anchor="end" font-weight="normal" font-style="normal" fill="#000" >0</text>
<line x1="826.5" y1="1231.7" x2="837.2" y2="1231.7" stroke="#000" stroke-width="2.2" />
<text x="820.2" y="1241.1" font-size="25.3" text-anchor="end" font-weight="normal" font-style="normal" fill="#000" >50</text>
<line x1="836.1" y1="1387.1" x2="1068.7" y2="1387.1" stroke="#000" stroke-width="2.2" />
<line x1="894.4" y1="1387.1" x2="894.4" y2="1398.1" stroke="#000" stroke-width="2.2" />
<text x="862.01" y="1426.9" font-size="25.3" fill="#000" textLength="44.03" lengthAdjust="spacingAndGlyphs" >Day</text>
<text x="834.56" y="1453.2" font-size="25.3" fill="#000" textLength="108.11" lengthAdjust="spacingAndGlyphs" >dynamics</text>
<line x1="1010.7" y1="1387.1" x2="1010.7" y2="1398.1" stroke="#000" stroke-width="2.2" />
<text x="981.09" y="1426.9" font-size="25.3" fill="#000" textLength="59.69" lengthAdjust="spacingAndGlyphs" >Night</text>
<text x="959.66" y="1453.2" font-size="25.3" fill="#000" textLength="108.11" lengthAdjust="spacingAndGlyphs" >dynamics</text>
<rect x="1225.4" y="1171.8" width="90.3" height="216.6" fill="#faf6de" />
<polyline points="1207.28,1291.8 1323.43,1315.83" stroke="#1a312b" fill="none" stroke-width="3.8" stroke-linejoin="round"/>
<circle cx="1207.28" cy="1291.8" r="5.9" fill="#1a312b" />
<circle cx="1323.43" cy="1315.83" r="5.9" fill="#1a312b" />
<polyline points="1208.26,1294.9 1323.61,1313.5" stroke="#1a3830" fill="none" stroke-width="3.8" stroke-linejoin="round"/>
<circle cx="1208.26" cy="1294.9" r="5.9" fill="#1a3830" />
<circle cx="1323.61" cy="1313.5" r="5.9" fill="#1a3830" />
<polyline points="1209.45,1318.15 1322.04,1262.35" stroke="#18453a" fill="none" stroke-width="3.8" stroke-linejoin="round"/>
<circle cx="1209.45" cy="1318.15" r="5.9" fill="#18453a" />
<circle cx="1322.04" cy="1262.35" r="5.9" fill="#18453a" />
<polyline points="1209.05,1302.65 1324.61,1308.85" stroke="#175144" fill="none" stroke-width="3.8" stroke-linejoin="round"/>
<circle cx="1209.05" cy="1302.65" r="5.9" fill="#175144" />
<circle cx="1324.61" cy="1308.85" r="5.9" fill="#175144" />
<polyline points="1208.91,1265.45 1324.77,1338.3" stroke="#165e4e" fill="none" stroke-width="3.8" stroke-linejoin="round"/>
<circle cx="1208.91" cy="1265.45" r="5.9" fill="#165e4e" />
<circle cx="1324.77" cy="1338.3" r="5.9" fill="#165e4e" />
<polyline points="1207.65,1322.8 1321.81,1287.15" stroke="#165e4e" fill="none" stroke-width="3.8" stroke-linejoin="round"/>
<circle cx="1207.65" cy="1322.8" r="5.9" fill="#165e4e" />
<circle cx="1321.81" cy="1287.15" r="5.9" fill="#165e4e" />
<polyline points="1204.54,1270.88 1324.14,1325.9" stroke="#156553" fill="none" stroke-width="3.8" stroke-linejoin="round"/>
<circle cx="1204.54" cy="1270.88" r="5.9" fill="#156553" />
<circle cx="1324.14" cy="1325.9" r="5.9" fill="#156553" />
<polyline points="1207.74,1260.8 1322.61,1344.5" stroke="#146b58" fill="none" stroke-width="3.8" stroke-linejoin="round"/>
<circle cx="1207.74" cy="1260.8" r="5.9" fill="#146b58" />
<circle cx="1322.61" cy="1344.5" r="5.9" fill="#146b58" />
<polyline points="1208.95,1277.85 1321.35,1308.85" stroke="#146b58" fill="none" stroke-width="3.8" stroke-linejoin="round"/>
<circle cx="1208.95" cy="1277.85" r="5.9" fill="#146b58" />
<circle cx="1321.35" cy="1308.85" r="5.9" fill="#146b58" />
<polyline points="1204.59,1315.05 1325.71,1347.6" stroke="#137862" fill="none" stroke-width="3.8" stroke-linejoin="round"/>
<circle cx="1204.59" cy="1315.05" r="5.9" fill="#137862" />
<circle cx="1325.71" cy="1347.6" r="5.9" fill="#137862" />
<polyline points="1209.11,1339.85 1322.58,1303.43" stroke="#12856c" fill="none" stroke-width="3.8" stroke-linejoin="round"/>
<circle cx="1209.11" cy="1339.85" r="5.9" fill="#12856c" />
<circle cx="1322.58" cy="1303.43" r="5.9" fill="#12856c" />
<polyline points="1209.01,1312.73 1321.21,1299.55" stroke="#10987b" fill="none" stroke-width="3.8" stroke-linejoin="round"/>
<circle cx="1209.01" cy="1312.73" r="5.9" fill="#10987b" />
<circle cx="1321.21" cy="1299.55" r="5.9" fill="#10987b" />
<polyline points="1207.73,1243.75 1321.42,1330.55" stroke="#0f9e80" fill="none" stroke-width="3.8" stroke-linejoin="round"/>
<circle cx="1207.73" cy="1243.75" r="5.9" fill="#0f9e80" />
<circle cx="1321.42" cy="1330.55" r="5.9" fill="#0f9e80" />
<polyline points="1209.02,1327.45 1324.45,1325.9" stroke="#0fa585" fill="none" stroke-width="3.8" stroke-linejoin="round"/>
<circle cx="1209.02" cy="1327.45" r="5.9" fill="#0fa585" />
<circle cx="1324.45" cy="1325.9" r="5.9" fill="#0fa585" />
<polyline points="1209.25,1310.4 1324.64,1303.43" stroke="#0eab8a" fill="none" stroke-width="3.8" stroke-linejoin="round"/>
<circle cx="1209.25" cy="1310.4" r="5.9" fill="#0eab8a" />
<circle cx="1324.64" cy="1303.43" r="5.9" fill="#0eab8a" />
<line x1="1150.1" y1="1171.8" x2="1150.1" y2="1389.5" stroke="#000" stroke-width="2.2" />
<line x1="1139.4" y1="1387.9" x2="1150.1" y2="1387.9" stroke="#000" stroke-width="2.2" />
<text x="1133.1" y="1397.3" font-size="25.3" text-anchor="end" font-weight="normal" font-style="normal" fill="#000" >−50</text>
<line x1="1139.4" y1="1310.4" x2="1150.1" y2="1310.4" stroke="#000" stroke-width="2.2" />
<text x="1133.1" y="1319.8" font-size="25.3" text-anchor="end" font-weight="normal" font-style="normal" fill="#000" >0</text>
<line x1="1139.4" y1="1232.9" x2="1150.1" y2="1232.9" stroke="#000" stroke-width="2.2" />
<text x="1133.1" y="1242.3" font-size="25.3" text-anchor="end" font-weight="normal" font-style="normal" fill="#000" >50</text>
<line x1="1149" y1="1388.4" x2="1381.6" y2="1388.4" stroke="#000" stroke-width="2.2" />
<line x1="1207" y1="1388.4" x2="1207" y2="1399.4" stroke="#000" stroke-width="2.2" />
<text x="1175.91" y="1426.9" font-size="25.3" fill="#000" textLength="44.03" lengthAdjust="spacingAndGlyphs" >Day</text>
<text x="1148.46" y="1453.2" font-size="25.3" fill="#000" textLength="108.11" lengthAdjust="spacingAndGlyphs" >dynamics</text>
<line x1="1323.4" y1="1388.4" x2="1323.4" y2="1399.4" stroke="#000" stroke-width="2.2" />
<text x="1294.99" y="1426.9" font-size="25.3" fill="#000" textLength="59.69" lengthAdjust="spacingAndGlyphs" >Night</text>
<text x="1273.46" y="1453.2" font-size="25.3" fill="#000" textLength="108.11" lengthAdjust="spacingAndGlyphs" >dynamics</text>
<text x="21.64" y="1508" font-size="32.97" font-weight="bold" fill="#000" textLength="13.34" lengthAdjust="spacingAndGlyphs" >i</text>
<rect x="203.7" y="1478.1" width="12.1" height="216.8" fill="#e6e6e6" />
<rect x="315" y="1478.1" width="56.4" height="216.8" fill="#e6e6e6" />
<polyline points="219.6,1667.5 297.6,1612.8 375.6,1652.6" stroke="#5bbde8" fill="none" stroke-width="4" stroke-dasharray="14.5,6"/>
<line x1="219.6" y1="1648.7" x2="219.6" y2="1687.6" stroke="#5bbde8" stroke-width="4.8" />
<circle cx="219.6" cy="1667.5" r="6.2" fill="#5bbde8" />
<line x1="297.6" y1="1588.9" x2="297.6" y2="1634.4" stroke="#5bbde8" stroke-width="4.8" />
<circle cx="297.6" cy="1612.8" r="6.2" fill="#5bbde8" />
<line x1="375.6" y1="1627" x2="375.6" y2="1676.4" stroke="#5bbde8" stroke-width="4.8" />
<circle cx="375.6" cy="1652.6" r="6.2" fill="#5bbde8" />
<polyline points="222.8,1616.9 300.1,1627.1 378.1,1621.7" stroke="#e08ebb" fill="none" stroke-width="4" stroke-dasharray="14.5,6"/>
<line x1="222.8" y1="1595.3" x2="222.8" y2="1639.8" stroke="#e08ebb" stroke-width="4.8" />
<circle cx="222.8" cy="1616.9" r="6.2" fill="#e08ebb" />
<line x1="300.1" y1="1600" x2="300.1" y2="1651.9" stroke="#e08ebb" stroke-width="4.8" />
<circle cx="300.1" cy="1627.1" r="6.2" fill="#e08ebb" />
<line x1="378.1" y1="1590.5" x2="378.1" y2="1652.6" stroke="#e08ebb" stroke-width="4.8" />
<circle cx="378.1" cy="1621.7" r="6.2" fill="#e08ebb" />
<polyline points="225.3,1577.1 304,1519.8 381,1526.2" stroke="#0fa680" fill="none" stroke-width="4" stroke-dasharray="14.5,6"/>
<line x1="225.3" y1="1534.8" x2="225.3" y2="1616" stroke="#0fa680" stroke-width="4.8" />
<circle cx="225.3" cy="1577.1" r="6.2" fill="#0fa680" />
<line x1="304" y1="1485.5" x2="304" y2="1555.5" stroke="#0fa680" stroke-width="4.8" />
<circle cx="304" cy="1519.8" r="6.2" fill="#0fa680" />
<line x1="381" y1="1493.4" x2="381" y2="1558.7" stroke="#0fa680" stroke-width="4.8" />
<circle cx="381" cy="1526.2" r="6.2" fill="#0fa680" />
<line x1="203.7" y1="1478.1" x2="203.7" y2="1696" stroke="#000" stroke-width="2.2" />
<line x1="193" y1="1648.4" x2="203.7" y2="1648.4" stroke="#000" stroke-width="2.2" />
<text x="186.7" y="1657.8" font-size="25.3" text-anchor="end" font-weight="normal" font-style="normal" fill="#000" >0.3</text>
<line x1="193" y1="1570.9" x2="203.7" y2="1570.9" stroke="#000" stroke-width="2.2" />
<text x="186.7" y="1580.3" font-size="25.3" text-anchor="end" font-weight="normal" font-style="normal" fill="#000" >0.4</text>
<line x1="193" y1="1493.4" x2="203.7" y2="1493.4" stroke="#000" stroke-width="2.2" />
<text x="186.7" y="1502.8" font-size="25.3" text-anchor="end" font-weight="normal" font-style="normal" fill="#000" >0.5</text>
<line x1="202.6" y1="1694.9" x2="436" y2="1694.9" stroke="#000" stroke-width="2.2" />
<line x1="222.8" y1="1694.9" x2="222.8" y2="1705.9" stroke="#000" stroke-width="2.2" />
<text x="222.8" y="1733.7" font-size="25.3" text-anchor="middle" font-weight="normal" font-style="normal" fill="#000" >0</text>
<line x1="300.1" y1="1694.9" x2="300.1" y2="1705.9" stroke="#000" stroke-width="2.2" />
<text x="300.1" y="1733.7" font-size="25.3" text-anchor="middle" font-weight="normal" font-style="normal" fill="#000" >10</text>
<line x1="377.8" y1="1694.9" x2="377.8" y2="1705.9" stroke="#000" stroke-width="2.2" />
<text x="377.8" y="1733.7" font-size="25.3" text-anchor="middle" font-weight="normal" font-style="normal" fill="#000" >0</text>
<text x="300.5" y="1764.6" font-size="24.5" text-anchor="middle" font-weight="normal" font-style="normal" fill="#000" >ZT</text>
<text transform="translate(95.8,1666.4) rotate(-90)" x="-2.37" y="0" font-size="24.5" fill="#000" textLength="145.02" lengthAdjust="spacingAndGlyphs">Normalized</text>
<text transform="translate(125.9,1665.1) rotate(-90)" x="-1.66" y="0" font-size="24.5" fill="#000" textLength="154.86" lengthAdjust="spacingAndGlyphs">intensity (a.u.)</text>
<rect x="519.2" y="1477.8" width="29" height="216.6" fill="#b8b8b8" />
<rect x="640" y="1477.8" width="51.7" height="216.6" fill="#b8b8b8" />
<polyline points="555.41,1629.6 625.24,1542.86 696.38,1493.29" stroke="#253845" fill="none" stroke-width="3.8" stroke-linejoin="round" stroke-dasharray="12,6"/>
<circle cx="555.41" cy="1629.6" r="5.9" fill="#253845" />
<circle cx="625.24" cy="1542.86" r="5.9" fill="#253845" />
<circle cx="696.38" cy="1493.29" r="5.9" fill="#253845" />
<polyline points="555.3,1604.82 627.86,1598.62 697.84,1612.25" stroke="#283f4d" fill="none" stroke-width="3.8" stroke-linejoin="round" stroke-dasharray="12,6"/>
<circle cx="555.3" cy="1604.82" r="5.9" fill="#283f4d" />
<circle cx="627.86" cy="1598.62" r="5.9" fill="#283f4d" />
<circle cx="697.84" cy="1612.25" r="5.9" fill="#283f4d" />
<polyline points="553.65,1633.94 624,1570.74 698.72,1627.74" stroke="#2a4656" fill="none" stroke-width="3.8" stroke-linejoin="round" stroke-dasharray="12,6"/>
<circle cx="553.65" cy="1633.94" r="5.9" fill="#2a4656" />
<circle cx="624" cy="1570.74" r="5.9" fill="#2a4656" />
<circle cx="698.72" cy="1627.74" r="5.9" fill="#2a4656" />
<polyline points="554.28,1676.07 626.6,1680.41 698.06,1671.42" stroke="#2a4656" fill="none" stroke-width="3.8" stroke-linejoin="round" stroke-dasharray="12,6"/>
<circle cx="554.28" cy="1676.07" r="5.9" fill="#2a4656" />
<circle cx="626.6" cy="1680.41" r="5.9" fill="#2a4656" />
<circle cx="698.06" cy="1671.42" r="5.9" fill="#2a4656" />
<polyline points="552.36,1660.58 626.47,1630.84 698.24,1645.09" stroke="#2d4d5e" fill="none" stroke-width="3.8" stroke-linejoin="round" stroke-dasharray="12,6"/>
<circle cx="552.36" cy="1660.58" r="5.9" fill="#2d4d5e" />
<circle cx="626.47" cy="1630.84" r="5.9" fill="#2d4d5e" />
<circle cx="698.24" cy="1645.09" r="5.9" fill="#2d4d5e" />
<polyline points="555.72,1682.89 624.25,1668.02 698.32,1671.42" stroke="#305467" fill="none" stroke-width="3.8" stroke-linejoin="round" stroke-dasharray="12,6"/>
<circle cx="555.72" cy="1682.89" r="5.9" fill="#305467" />
<circle cx="624.25" cy="1668.02" r="5.9" fill="#305467" />
<circle cx="698.32" cy="1671.42" r="5.9" fill="#305467" />
<polyline points="552.43,1548.43 628.11,1620.31 697.19,1666.78" stroke="#366278" fill="none" stroke-width="3.8" stroke-linejoin="round" stroke-dasharray="12,6"/>
<circle cx="552.43" cy="1548.43" r="5.9" fill="#366278" />
<circle cx="628.11" cy="1620.31" r="5.9" fill="#366278" />
<circle cx="697.19" cy="1666.78" r="5.9" fill="#366278" />
<polyline points="556.22,1682.27 626.48,1676.07 697.99,1663.68" stroke="#366278" fill="none" stroke-width="3.8" stroke-linejoin="round" stroke-dasharray="12,6"/>
<circle cx="556.22" cy="1682.27" r="5.9" fill="#366278" />
<circle cx="626.48" cy="1676.07" r="5.9" fill="#366278" />
<circle cx="697.99" cy="1663.68" r="5.9" fill="#366278" />
<polyline points="556.03,1624.65 628.21,1531.71 699.29,1584.68" stroke="#386980" fill="none" stroke-width="3.8" stroke-linejoin="round" stroke-dasharray="12,6"/>
<circle cx="556.03" cy="1624.65" r="5.9" fill="#386980" />
<circle cx="628.21" cy="1531.71" r="5.9" fill="#386980" />
<circle cx="699.29" cy="1584.68" r="5.9" fill="#386980" />
<polyline points="552.64,1641.99 624.83,1648.19 697.09,1654.39" stroke="#3b7089" fill="none" stroke-width="3.8" stroke-linejoin="round" stroke-dasharray="12,6"/>
<circle cx="552.64" cy="1641.99" r="5.9" fill="#3b7089" />
<circle cx="624.83" cy="1648.19" r="5.9" fill="#3b7089" />
<circle cx="697.09" cy="1654.39" r="5.9" fill="#3b7089" />
<polyline points="554.1,1623.41 627.06,1620.31 695.11,1629.6" stroke="#3e7791" fill="none" stroke-width="3.8" stroke-linejoin="round" stroke-dasharray="12,6"/>
<circle cx="554.1" cy="1623.41" r="5.9" fill="#3e7791" />
<circle cx="627.06" cy="1620.31" r="5.9" fill="#3e7791" />
<circle cx="695.11" cy="1629.6" r="5.9" fill="#3e7791" />
<polyline points="555.85,1635.8 628.6,1648.19 697.86,1663.68" stroke="#407e9a" fill="none" stroke-width="3.8" stroke-linejoin="round" stroke-dasharray="12,6"/>
<circle cx="555.85" cy="1635.8" r="5.9" fill="#407e9a" />
<circle cx="628.6" cy="1648.19" r="5.9" fill="#407e9a" />
<circle cx="697.86" cy="1663.68" r="5.9" fill="#407e9a" />
<polyline points="552.55,1629.6 627.04,1617.21 697.14,1633.94" stroke="#4384a2" fill="none" stroke-width="3.8" stroke-linejoin="round" stroke-dasharray="12,6"/>
<circle cx="552.55" cy="1629.6" r="5.9" fill="#4384a2" />
<circle cx="627.04" cy="1617.21" r="5.9" fill="#4384a2" />
<circle cx="697.14" cy="1633.94" r="5.9" fill="#4384a2" />
<polyline points="554.89,1669.88 623.66,1617.21 697.75,1655.63" stroke="#468baa" fill="none" stroke-width="3.8" stroke-linejoin="round" stroke-dasharray="12,6"/>
<circle cx="554.89" cy="1669.88" r="5.9" fill="#468baa" />
<circle cx="623.66" cy="1617.21" r="5.9" fill="#468baa" />
<circle cx="697.75" cy="1655.63" r="5.9" fill="#468baa" />
<polyline points="556.33,1632.7 623.63,1626.5 698.09,1632.7" stroke="#468baa" fill="none" stroke-width="3.8" stroke-linejoin="round" stroke-dasharray="12,6"/>
<circle cx="556.33" cy="1632.7" r="5.9" fill="#468baa" />
<circle cx="623.63" cy="1626.5" r="5.9" fill="#468baa" />
<circle cx="698.09" cy="1632.7" r="5.9" fill="#468baa" />
<polyline points="553.89,1654.39 624.82,1638.9 697.12,1648.19" stroke="#4992b3" fill="none" stroke-width="3.8" stroke-linejoin="round" stroke-dasharray="12,6"/>
<circle cx="553.89" cy="1654.39" r="5.9" fill="#4992b3" />
<circle cx="624.82" cy="1638.9" r="5.9" fill="#4992b3" />
<circle cx="697.12" cy="1648.19" r="5.9" fill="#4992b3" />
<polyline points="555.73,1584.37 625.1,1561.45 695.36,1531.71" stroke="#4c99bb" fill="none" stroke-width="3.8" stroke-linejoin="round" stroke-dasharray="12,6"/>
<circle cx="555.73" cy="1584.37" r="5.9" fill="#4c99bb" />
<circle cx="625.1" cy="1561.45" r="5.9" fill="#4c99bb" />
<circle cx="695.36" cy="1531.71" r="5.9" fill="#4c99bb" />
<polyline points="552.25,1672.97 624.71,1663.68 695.39,1666.78" stroke="#4c99bb" fill="none" stroke-width="3.8" stroke-linejoin="round" stroke-dasharray="12,6"/>
<circle cx="552.25" cy="1672.97" r="5.9" fill="#4c99bb" />
<circle cx="624.71" cy="1663.68" r="5.9" fill="#4c99bb" />
<circle cx="695.39" cy="1666.78" r="5.9" fill="#4c99bb" />
<polyline points="551.94,1649.43 625.87,1595.52 697.42,1627.74" stroke="#4ea0c4" fill="none" stroke-width="3.8" stroke-linejoin="round" stroke-dasharray="12,6"/>
<circle cx="551.94" cy="1649.43" r="5.9" fill="#4ea0c4" />
<circle cx="625.87" cy="1595.52" r="5.9" fill="#4ea0c4" />
<circle cx="697.42" cy="1627.74" r="5.9" fill="#4ea0c4" />
<polyline points="553.91,1660.58 628.23,1668.02 695.93,1686.61" stroke="#51a7cc" fill="none" stroke-width="3.8" stroke-linejoin="round" stroke-dasharray="12,6"/>
<circle cx="553.91" cy="1660.58" r="5.9" fill="#51a7cc" />
<circle cx="628.23" cy="1668.02" r="5.9" fill="#51a7cc" />
<circle cx="695.93" cy="1686.61" r="5.9" fill="#51a7cc" />
<polyline points="552.68,1648.19 627.63,1630.84 698.55,1633.94" stroke="#54aed5" fill="none" stroke-width="3.8" stroke-linejoin="round" stroke-dasharray="12,6"/>
<circle cx="552.68" cy="1648.19" r="5.9" fill="#54aed5" />
<circle cx="627.63" cy="1630.84" r="5.9" fill="#54aed5" />
<circle cx="698.55" cy="1633.94" r="5.9" fill="#54aed5" />
<polyline points="552.49,1594.9 625.55,1570.74 698.98,1578.18" stroke="#56b5dd" fill="none" stroke-width="3.8" stroke-linejoin="round" stroke-dasharray="12,6"/>
<circle cx="552.49" cy="1594.9" r="5.9" fill="#56b5dd" />
<circle cx="625.55" cy="1570.74" r="5.9" fill="#56b5dd" />
<circle cx="698.98" cy="1578.18" r="5.9" fill="#56b5dd" />
<polyline points="553.72,1649.43 626.96,1660.58 698.72,1645.09" stroke="#56b5dd" fill="none" stroke-width="3.8" stroke-linejoin="round" stroke-dasharray="12,6"/>
<circle cx="553.72" cy="1649.43" r="5.9" fill="#56b5dd" />
<circle cx="626.96" cy="1660.58" r="5.9" fill="#56b5dd" />
<circle cx="698.72" cy="1645.09" r="5.9" fill="#56b5dd" />
<polyline points="552.75,1663.68 623.94,1660.58 695.03,1663.68" stroke="#59bce6" fill="none" stroke-width="3.8" stroke-linejoin="round" stroke-dasharray="12,6"/>
<circle cx="552.75" cy="1663.68" r="5.9" fill="#59bce6" />
<circle cx="623.94" cy="1660.58" r="5.9" fill="#59bce6" />
<circle cx="695.03" cy="1663.68" r="5.9" fill="#59bce6" />
<polyline points="554.22,1669.88 624.84,1668.02 697.08,1655.63" stroke="#5cc3ee" fill="none" stroke-width="3.8" stroke-linejoin="round" stroke-dasharray="12,6"/>
<circle cx="554.22" cy="1669.88" r="5.9" fill="#5cc3ee" />
<circle cx="624.84" cy="1668.02" r="5.9" fill="#5cc3ee" />
<circle cx="697.08" cy="1655.63" r="5.9" fill="#5cc3ee" />
<line x1="519.2" y1="1477.8" x2="519.2" y2="1695.5" stroke="#000" stroke-width="2.2" />
<line x1="508.5" y1="1663.68" x2="519.2" y2="1663.68" stroke="#000" stroke-width="2.2" />
<text x="502.2" y="1673.08" font-size="25.3" text-anchor="end" font-weight="normal" font-style="normal" fill="#000" >0.2</text>
<line x1="508.5" y1="1601.72" x2="519.2" y2="1601.72" stroke="#000" stroke-width="2.2" />
<text x="502.2" y="1611.12" font-size="25.3" text-anchor="end" font-weight="normal" font-style="normal" fill="#000" >0.4</text>
<line x1="508.5" y1="1539.76" x2="519.2" y2="1539.76" stroke="#000" stroke-width="2.2" />
<text x="502.2" y="1549.16" font-size="25.3" text-anchor="end" font-weight="normal" font-style="normal" fill="#000" >0.6</text>
<line x1="508.5" y1="1477.8" x2="519.2" y2="1477.8" stroke="#000" stroke-width="2.2" />
<text x="502.2" y="1487.2" font-size="25.3" text-anchor="end" font-weight="normal" font-style="normal" fill="#000" >0.8</text>
<line x1="518.1" y1="1694.4" x2="751" y2="1694.4" stroke="#000" stroke-width="2.2" />
<line x1="554.4" y1="1694.4" x2="554.4" y2="1705.4" stroke="#000" stroke-width="2.2" />
<text x="554.4" y="1732.5" font-size="25.3" text-anchor="middle" font-weight="normal" font-style="normal" fill="#000" >0</text>
<line x1="626.1" y1="1694.4" x2="626.1" y2="1705.4" stroke="#000" stroke-width="2.2" />
<text x="626.1" y="1732.5" font-size="25.3" text-anchor="middle" font-weight="normal" font-style="normal" fill="#000" >10</text>
<line x1="697.4" y1="1694.4" x2="697.4" y2="1705.4" stroke="#000" stroke-width="2.2" />
<text x="697.4" y="1732.5" font-size="25.3" text-anchor="middle" font-weight="normal" font-style="normal" fill="#000" >0</text>
<text x="626.1" y="1764.5" font-size="24.5" text-anchor="middle" font-weight="normal" font-style="normal" fill="#000" >ZT</text>
<rect x="837.5" y="1477.8" width="29.4" height="216.6" fill="#faf6de" />
<rect x="958" y="1477.8" width="52.5" height="216.6" fill="#faf6de" />
<polyline points="874.51,1553.7 942.8,1537.59 1018.06,1545.96" stroke="#472a39" fill="none" stroke-width="3.8" stroke-linejoin="round" stroke-dasharray="12,6"/>
<circle cx="874.51" cy="1553.7" r="5.9" fill="#472a39" />
<circle cx="942.8" cy="1537.59" r="5.9" fill="#472a39" />
<circle cx="1018.06" cy="1545.96" r="5.9" fill="#472a39" />
<polyline points="873.47,1614.11 944.85,1592.43 1014.36,1645.09" stroke="#4f2f40" fill="none" stroke-width="3.8" stroke-linejoin="round" stroke-dasharray="12,6"/>
<circle cx="873.47" cy="1614.11" r="5.9" fill="#4f2f40" />
<circle cx="944.85" cy="1592.43" r="5.9" fill="#4f2f40" />
<circle cx="1014.36" cy="1645.09" r="5.9" fill="#4f2f40" />
<polyline points="874.59,1580.03 943.99,1570.74 1017.67,1535.11" stroke="#5e394d" fill="none" stroke-width="3.8" stroke-linejoin="round" stroke-dasharray="12,6"/>
<circle cx="874.59" cy="1580.03" r="5.9" fill="#5e394d" />
<circle cx="943.99" cy="1570.74" r="5.9" fill="#5e394d" />
<circle cx="1017.67" cy="1535.11" r="5.9" fill="#5e394d" />
<polyline points="874.83,1580.65 942.89,1582.51 1018.67,1610.39" stroke="#663e53" fill="none" stroke-width="3.8" stroke-linejoin="round" stroke-dasharray="12,6"/>
<circle cx="874.83" cy="1580.65" r="5.9" fill="#663e53" />
<circle cx="942.89" cy="1582.51" r="5.9" fill="#663e53" />
<circle cx="1018.67" cy="1610.39" r="5.9" fill="#663e53" />
<polyline points="871.54,1648.19 943.72,1663.68 1016.55,1663.68" stroke="#6e435a" fill="none" stroke-width="3.8" stroke-linejoin="round" stroke-dasharray="12,6"/>
<circle cx="871.54" cy="1648.19" r="5.9" fill="#6e435a" />
<circle cx="943.72" cy="1663.68" r="5.9" fill="#6e435a" />
<circle cx="1016.55" cy="1663.68" r="5.9" fill="#6e435a" />
<polyline points="874.11,1638.9 943.67,1654.39 1018.1,1651.29" stroke="#754861" fill="none" stroke-width="3.8" stroke-linejoin="round" stroke-dasharray="12,6"/>
<circle cx="874.11" cy="1638.9" r="5.9" fill="#754861" />
<circle cx="943.67" cy="1654.39" r="5.9" fill="#754861" />
<circle cx="1018.1" cy="1651.29" r="5.9" fill="#754861" />
<polyline points="875.53,1652.22 943.53,1669.88 1016.86,1670.81" stroke="#7d4d67" fill="none" stroke-width="3.8" stroke-linejoin="round" stroke-dasharray="12,6"/>
<circle cx="875.53" cy="1652.22" r="5.9" fill="#7d4d67" />
<circle cx="943.53" cy="1669.88" r="5.9" fill="#7d4d67" />
<circle cx="1016.86" cy="1670.81" r="5.9" fill="#7d4d67" />
<polyline points="870.97,1646.33 942.52,1665.54 1014.7,1657.48" stroke="#85526e" fill="none" stroke-width="3.8" stroke-linejoin="round" stroke-dasharray="12,6"/>
<circle cx="870.97" cy="1646.33" r="5.9" fill="#85526e" />
<circle cx="942.52" cy="1665.54" r="5.9" fill="#85526e" />
<circle cx="1014.7" cy="1657.48" r="5.9" fill="#85526e" />
<polyline points="875.45,1632.7 944.9,1692.8 1014.63,1678.24" stroke="#8c5774" fill="none" stroke-width="3.8" stroke-linejoin="round" stroke-dasharray="12,6"/>
<circle cx="875.45" cy="1632.7" r="5.9" fill="#8c5774" />
<circle cx="944.9" cy="1692.8" r="5.9" fill="#8c5774" />
<circle cx="1014.63" cy="1678.24" r="5.9" fill="#8c5774" />
<polyline points="873.98,1633.63 943.22,1648.19 1018.13,1663.68" stroke="#945c7b" fill="none" stroke-width="3.8" stroke-linejoin="round" stroke-dasharray="12,6"/>
<circle cx="873.98" cy="1633.63" r="5.9" fill="#945c7b" />
<circle cx="943.22" cy="1648.19" r="5.9" fill="#945c7b" />
<circle cx="1018.13" cy="1663.68" r="5.9" fill="#945c7b" />
<polyline points="873.36,1556.18 947.02,1552.77 1016.03,1490.19" stroke="#a36788" fill="none" stroke-width="3.8" stroke-linejoin="round" stroke-dasharray="12,6"/>
<circle cx="873.36" cy="1556.18" r="5.9" fill="#a36788" />
<circle cx="947.02" cy="1552.77" r="5.9" fill="#a36788" />
<circle cx="1016.03" cy="1490.19" r="5.9" fill="#a36788" />
<polyline points="874.08,1626.5 946.12,1614.11 1014.35,1614.11" stroke="#ab6c8f" fill="none" stroke-width="3.8" stroke-linejoin="round" stroke-dasharray="12,6"/>
<circle cx="874.08" cy="1626.5" r="5.9" fill="#ab6c8f" />
<circle cx="946.12" cy="1614.11" r="5.9" fill="#ab6c8f" />
<circle cx="1014.35" cy="1614.11" r="5.9" fill="#ab6c8f" />
<polyline points="873.87,1621.86 944.72,1614.11 1017.44,1569.19" stroke="#b37195" fill="none" stroke-width="3.8" stroke-linejoin="round" stroke-dasharray="12,6"/>
<circle cx="873.87" cy="1621.86" r="5.9" fill="#b37195" />
<circle cx="944.72" cy="1614.11" r="5.9" fill="#b37195" />
<circle cx="1017.44" cy="1569.19" r="5.9" fill="#b37195" />
<polyline points="871.81,1670.81 942.96,1680.41 1017.91,1645.09" stroke="#c27ba3" fill="none" stroke-width="3.8" stroke-linejoin="round" stroke-dasharray="12,6"/>
<circle cx="871.81" cy="1670.81" r="5.9" fill="#c27ba3" />
<circle cx="942.96" cy="1680.41" r="5.9" fill="#c27ba3" />
<circle cx="1017.91" cy="1645.09" r="5.9" fill="#c27ba3" />
<polyline points="871.76,1629.6 946.38,1629.6 1015.07,1638.9" stroke="#ca80a9" fill="none" stroke-width="3.8" stroke-linejoin="round" stroke-dasharray="12,6"/>
<circle cx="871.76" cy="1629.6" r="5.9" fill="#ca80a9" />
<circle cx="946.38" cy="1629.6" r="5.9" fill="#ca80a9" />
<circle cx="1015.07" cy="1638.9" r="5.9" fill="#ca80a9" />
<polyline points="873.11,1641.99 942.61,1629.6 1017.57,1651.29" stroke="#d285b0" fill="none" stroke-width="3.8" stroke-linejoin="round" stroke-dasharray="12,6"/>
<circle cx="873.11" cy="1641.99" r="5.9" fill="#d285b0" />
<circle cx="942.61" cy="1629.6" r="5.9" fill="#d285b0" />
<circle cx="1017.57" cy="1651.29" r="5.9" fill="#d285b0" />
<polyline points="872.87,1590.88 942.95,1616.28 1018.27,1615.35" stroke="#d98ab6" fill="none" stroke-width="3.8" stroke-linejoin="round" stroke-dasharray="12,6"/>
<circle cx="872.87" cy="1590.88" r="5.9" fill="#d98ab6" />
<circle cx="942.95" cy="1616.28" r="5.9" fill="#d98ab6" />
<circle cx="1018.27" cy="1615.35" r="5.9" fill="#d98ab6" />
<polyline points="873.37,1658.41 943.26,1648.19 1014.84,1657.48" stroke="#e18fbd" fill="none" stroke-width="3.8" stroke-linejoin="round" stroke-dasharray="12,6"/>
<circle cx="873.37" cy="1658.41" r="5.9" fill="#e18fbd" />
<circle cx="943.26" cy="1648.19" r="5.9" fill="#e18fbd" />
<circle cx="1014.84" cy="1657.48" r="5.9" fill="#e18fbd" />
<line x1="837.5" y1="1477.8" x2="837.5" y2="1695.5" stroke="#000" stroke-width="2.2" />
<line x1="826.8" y1="1663.68" x2="837.5" y2="1663.68" stroke="#000" stroke-width="2.2" />
<text x="820.5" y="1673.08" font-size="25.3" text-anchor="end" font-weight="normal" font-style="normal" fill="#000" >0.2</text>
<line x1="826.8" y1="1601.72" x2="837.5" y2="1601.72" stroke="#000" stroke-width="2.2" />
<text x="820.5" y="1611.12" font-size="25.3" text-anchor="end" font-weight="normal" font-style="normal" fill="#000" >0.4</text>
<line x1="826.8" y1="1539.76" x2="837.5" y2="1539.76" stroke="#000" stroke-width="2.2" />
<text x="820.5" y="1549.16" font-size="25.3" text-anchor="end" font-weight="normal" font-style="normal" fill="#000" >0.6</text>
<line x1="826.8" y1="1477.8" x2="837.5" y2="1477.8" stroke="#000" stroke-width="2.2" />
<text x="820.5" y="1487.2" font-size="25.3" text-anchor="end" font-weight="normal" font-style="normal" fill="#000" >0.8</text>
<line x1="836.4" y1="1694.4" x2="1070.6" y2="1694.4" stroke="#000" stroke-width="2.2" />
<line x1="873.1" y1="1694.4" x2="873.1" y2="1705.4" stroke="#000" stroke-width="2.2" />
<text x="873.1" y="1732.5" font-size="25.3" text-anchor="middle" font-weight="normal" font-style="normal" fill="#000" >0</text>
<line x1="944.9" y1="1694.4" x2="944.9" y2="1705.4" stroke="#000" stroke-width="2.2" />
<text x="944.9" y="1732.5" font-size="25.3" text-anchor="middle" font-weight="normal" font-style="normal" fill="#000" >10</text>
<line x1="1016.2" y1="1694.4" x2="1016.2" y2="1705.4" stroke="#000" stroke-width="2.2" />
<text x="1016.2" y="1732.5" font-size="25.3" text-anchor="middle" font-weight="normal" font-style="normal" fill="#000" >0</text>
<text x="944.9" y="1764.5" font-size="24.5" text-anchor="middle" font-weight="normal" font-style="normal" fill="#000" >ZT</text>
<rect x="1150.1" y="1477.8" width="29" height="216.6" fill="#faf6de" />
<rect x="1270.7" y="1477.8" width="51.5" height="216.6" fill="#faf6de" />
<polyline points="1186.49,1532.01 1258.12,1567.64 1327.14,1601.72" stroke="#1b2b26" fill="none" stroke-width="3.8" stroke-linejoin="round" stroke-dasharray="12,6"/>
<circle cx="1186.49" cy="1532.01" r="5.9" fill="#1b2b26" />
<circle cx="1258.12" cy="1567.64" r="5.9" fill="#1b2b26" />
<circle cx="1327.14" cy="1601.72" r="5.9" fill="#1b2b26" />
<polyline points="1184.87,1621.24 1257.95,1602.65 1326.13,1565.16" stroke="#1a312b" fill="none" stroke-width="3.8" stroke-linejoin="round" stroke-dasharray="12,6"/>
<circle cx="1184.87" cy="1621.24" r="5.9" fill="#1a312b" />
<circle cx="1257.95" cy="1602.65" r="5.9" fill="#1a312b" />
<circle cx="1326.13" cy="1565.16" r="5.9" fill="#1a312b" />
<polyline points="1186.04,1658.41 1257.38,1662.13 1326.18,1601.72" stroke="#18453a" fill="none" stroke-width="3.8" stroke-linejoin="round" stroke-dasharray="12,6"/>
<circle cx="1186.04" cy="1658.41" r="5.9" fill="#18453a" />
<circle cx="1257.38" cy="1662.13" r="5.9" fill="#18453a" />
<circle cx="1326.18" cy="1601.72" r="5.9" fill="#18453a" />
<polyline points="1184.53,1620.31 1257.24,1589.33 1326.31,1595.52" stroke="#175144" fill="none" stroke-width="3.8" stroke-linejoin="round" stroke-dasharray="12,6"/>
<circle cx="1184.53" cy="1620.31" r="5.9" fill="#175144" />
<circle cx="1257.24" cy="1589.33" r="5.9" fill="#175144" />
<circle cx="1326.31" cy="1595.52" r="5.9" fill="#175144" />
<polyline points="1186.27,1615.04 1255.14,1552.15 1328.85,1584.68" stroke="#165e4e" fill="none" stroke-width="3.8" stroke-linejoin="round" stroke-dasharray="12,6"/>
<circle cx="1186.27" cy="1615.04" r="5.9" fill="#165e4e" />
<circle cx="1255.14" cy="1552.15" r="5.9" fill="#165e4e" />
<circle cx="1328.85" cy="1584.68" r="5.9" fill="#165e4e" />
<polyline points="1183.97,1645.09 1254.83,1583.13 1325.91,1595.83" stroke="#156553" fill="none" stroke-width="3.8" stroke-linejoin="round" stroke-dasharray="12,6"/>
<circle cx="1183.97" cy="1645.09" r="5.9" fill="#156553" />
<circle cx="1254.83" cy="1583.13" r="5.9" fill="#156553" />
<circle cx="1325.91" cy="1595.83" r="5.9" fill="#156553" />
<polyline points="1184.76,1596.45 1255.65,1589.33 1328.49,1589.64" stroke="#14715d" fill="none" stroke-width="3.8" stroke-linejoin="round" stroke-dasharray="12,6"/>
<circle cx="1184.76" cy="1596.45" r="5.9" fill="#14715d" />
<circle cx="1255.65" cy="1589.33" r="5.9" fill="#14715d" />
<circle cx="1328.49" cy="1589.64" r="5.9" fill="#14715d" />
<polyline points="1183.73,1497.94 1254.9,1539.76 1327.38,1607.92" stroke="#137e67" fill="none" stroke-width="3.8" stroke-linejoin="round" stroke-dasharray="12,6"/>
<circle cx="1183.73" cy="1497.94" r="5.9" fill="#137e67" />
<circle cx="1254.9" cy="1539.76" r="5.9" fill="#137e67" />
<circle cx="1327.38" cy="1607.92" r="5.9" fill="#137e67" />
<polyline points="1186.67,1601.72 1255.16,1539.76 1327.89,1489.57" stroke="#118b71" fill="none" stroke-width="3.8" stroke-linejoin="round" stroke-dasharray="12,6"/>
<circle cx="1186.67" cy="1601.72" r="5.9" fill="#118b71" />
<circle cx="1255.16" cy="1539.76" r="5.9" fill="#118b71" />
<circle cx="1327.89" cy="1489.57" r="5.9" fill="#118b71" />
<polyline points="1187.13,1615.04 1258.68,1539.76 1328.52,1529.85" stroke="#119176" fill="none" stroke-width="3.8" stroke-linejoin="round" stroke-dasharray="12,6"/>
<circle cx="1187.13" cy="1615.04" r="5.9" fill="#119176" />
<circle cx="1258.68" cy="1539.76" r="5.9" fill="#119176" />
<circle cx="1328.52" cy="1529.85" r="5.9" fill="#119176" />
<polyline points="1186.31,1596.45 1258.94,1524.27 1329.58,1642.61" stroke="#0fa585" fill="none" stroke-width="3.8" stroke-linejoin="round" stroke-dasharray="12,6"/>
<circle cx="1186.31" cy="1596.45" r="5.9" fill="#0fa585" />
<circle cx="1258.94" cy="1524.27" r="5.9" fill="#0fa585" />
<circle cx="1329.58" cy="1642.61" r="5.9" fill="#0fa585" />
<polyline points="1184.38,1664.61 1258.47,1648.19 1326.7,1621.24" stroke="#0eab8a" fill="none" stroke-width="3.8" stroke-linejoin="round" stroke-dasharray="12,6"/>
<circle cx="1184.38" cy="1664.61" r="5.9" fill="#0eab8a" />
<circle cx="1258.47" cy="1648.19" r="5.9" fill="#0eab8a" />
<circle cx="1326.7" cy="1621.24" r="5.9" fill="#0eab8a" />
<line x1="1150.1" y1="1477.8" x2="1150.1" y2="1695.5" stroke="#000" stroke-width="2.2" />
<line x1="1139.4" y1="1663.68" x2="1150.1" y2="1663.68" stroke="#000" stroke-width="2.2" />
<text x="1133.1" y="1673.08" font-size="25.3" text-anchor="end" font-weight="normal" font-style="normal" fill="#000" >0.2</text>
<line x1="1139.4" y1="1601.72" x2="1150.1" y2="1601.72" stroke="#000" stroke-width="2.2" />
<text x="1133.1" y="1611.12" font-size="25.3" text-anchor="end" font-weight="normal" font-style="normal" fill="#000" >0.4</text>
<line x1="1139.4" y1="1539.76" x2="1150.1" y2="1539.76" stroke="#000" stroke-width="2.2" />
<text x="1133.1" y="1549.16" font-size="25.3" text-anchor="end" font-weight="normal" font-style="normal" fill="#000" >0.6</text>
<line x1="1139.4" y1="1477.8" x2="1150.1" y2="1477.8" stroke="#000" stroke-width="2.2" />
<text x="1133.1" y="1487.2" font-size="25.3" text-anchor="end" font-weight="normal" font-style="normal" fill="#000" >0.8</text>
<line x1="1149" y1="1694.4" x2="1381.6" y2="1694.4" stroke="#000" stroke-width="2.2" />
<line x1="1185.3" y1="1694.4" x2="1185.3" y2="1705.4" stroke="#000" stroke-width="2.2" />
<text x="1185.3" y="1732.5" font-size="25.3" text-anchor="middle" font-weight="normal" font-style="normal" fill="#000" >0</text>
<line x1="1256.6" y1="1694.4" x2="1256.6" y2="1705.4" stroke="#000" stroke-width="2.2" />
<text x="1256.6" y="1732.5" font-size="25.3" text-anchor="middle" font-weight="normal" font-style="normal" fill="#000" >10</text>
<line x1="1328.4" y1="1694.4" x2="1328.4" y2="1705.4" stroke="#000" stroke-width="2.2" />
<text x="1328.4" y="1732.5" font-size="25.3" text-anchor="middle" font-weight="normal" font-style="normal" fill="#000" >0</text>
<text x="1256.6" y="1764.5" font-size="24.5" text-anchor="middle" font-weight="normal" font-style="normal" fill="#000" >ZT</text>
<text x="20.66" y="1823.11" font-size="31.74" font-weight="bold" fill="#000" textLength="12.18" lengthAdjust="spacingAndGlyphs" >j</text>
<rect x="278.5" y="1791.6" width="90.1" height="216.4" fill="#e6e6e6" />
<line x1="202.7" y1="1946.6" x2="426.5" y2="1946.6" stroke="#555" stroke-width="2.2" stroke-dasharray="9,6"/>
<line x1="254.6" y1="1799.3" x2="254.6" y2="1876" stroke="#5bbde8" stroke-width="4.8" />
<circle cx="254.6" cy="1839.4" r="6.2" fill="#5bbde8" />
<line x1="370.8" y1="1959.4" x2="370.8" y2="2000.7" stroke="#5bbde8" stroke-width="4.8" />
<circle cx="370.8" cy="1980.7" r="6.2" fill="#5bbde8" />
<line x1="260.3" y1="1937" x2="260.3" y2="1976.9" stroke="#e08ebb" stroke-width="4.8" />
<circle cx="260.3" cy="1956.8" r="6.2" fill="#e08ebb" />
<line x1="376.5" y1="1895.7" x2="376.5" y2="1954" stroke="#e08ebb" stroke-width="4.8" />
<circle cx="376.5" cy="1923.7" r="6.2" fill="#e08ebb" />
<line x1="266.7" y1="1846.4" x2="266.7" y2="1902.7" stroke="#0fa680" stroke-width="4.8" />
<circle cx="266.7" cy="1873.8" r="6.2" fill="#0fa680" />
<line x1="382.9" y1="1889.4" x2="382.9" y2="1962.6" stroke="#0fa680" stroke-width="4.8" />
<circle cx="382.9" cy="1925.3" r="6.2" fill="#0fa680" />
<text x="239.3" y="1836" font-size="26" text-anchor="middle" font-weight="normal" font-style="normal" fill="#000" >*</text>
<text x="281.7" y="1871" font-size="26" text-anchor="middle" font-weight="normal" font-style="normal" fill="#000" >*</text>
<line x1="202.7" y1="1791.6" x2="202.7" y2="2009.1" stroke="#000" stroke-width="2.2" />
<line x1="192" y1="2005" x2="202.7" y2="2005" stroke="#000" stroke-width="2.2" />
<text x="185.7" y="2014.4" font-size="25.3" text-anchor="end" font-weight="normal" font-style="normal" fill="#000" >−20</text>
<line x1="192" y1="1946.6" x2="202.7" y2="1946.6" stroke="#000" stroke-width="2.2" />
<text x="185.7" y="1956" font-size="25.3" text-anchor="end" font-weight="normal" font-style="normal" fill="#000" >0</text>
<line x1="192" y1="1888.2" x2="202.7" y2="1888.2" stroke="#000" stroke-width="2.2" />
<text x="185.7" y="1897.6" font-size="25.3" text-anchor="end" font-weight="normal" font-style="normal" fill="#000" >20</text>
<line x1="192" y1="1829.8" x2="202.7" y2="1829.8" stroke="#000" stroke-width="2.2" />
<text x="185.7" y="1839.2" font-size="25.3" text-anchor="end" font-weight="normal" font-style="normal" fill="#000" >40</text>
<line x1="201.6" y1="2008" x2="434.4" y2="2008" stroke="#000" stroke-width="2.2" />
<line x1="260.3" y1="2008" x2="260.3" y2="2019" stroke="#000" stroke-width="2.2" />
<text x="231.11" y="2045.3" font-size="25.3" fill="#000" textLength="44.03" lengthAdjust="spacingAndGlyphs" >Day</text>
<text x="203.36" y="2070.8" font-size="25.3" fill="#000" textLength="108.11" lengthAdjust="spacingAndGlyphs" >dynamics</text>
<line x1="377.1" y1="2008" x2="377.1" y2="2019" stroke="#000" stroke-width="2.2" />
<text x="349.49" y="2045.3" font-size="25.3" fill="#000" textLength="59.69" lengthAdjust="spacingAndGlyphs" >Night</text>
<text x="328.26" y="2070.8" font-size="25.3" fill="#000" textLength="108.11" lengthAdjust="spacingAndGlyphs" >dynamics</text>
<text transform="translate(94.96,1979.4) rotate(-90)" x="-2.36" y="0" font-size="24.5" fill="#000" textLength="144.61" lengthAdjust="spacingAndGlyphs">Normalized</text>
<text transform="translate(124.9,1979) rotate(-90)" x="-2.33" y="0" font-size="24.5" fill="#000" textLength="162.45" lengthAdjust="spacingAndGlyphs">Intensity Δ (%)</text>
<rect x="594.2" y="1791.8" width="89.6" height="217.1" fill="#b8b8b8" />
<polyline points="574.42,1893.76 693.71,1973.74" stroke="#253845" fill="none" stroke-width="3.8" stroke-linejoin="round" stroke-dasharray="12,6"/>
<circle cx="574.42" cy="1893.76" r="5.9" fill="#253845" />
<circle cx="693.71" cy="1973.74" r="5.9" fill="#253845" />
<polyline points="574.85,1907.37 694.42,1954.4" stroke="#253845" fill="none" stroke-width="3.8" stroke-linejoin="round" stroke-dasharray="12,6"/>
<circle cx="574.85" cy="1907.37" r="5.9" fill="#253845" />
<circle cx="694.42" cy="1954.4" r="5.9" fill="#253845" />
<polyline points="578.16,1855.39 692.45,1920.52" stroke="#283f4d" fill="none" stroke-width="3.8" stroke-linejoin="round" stroke-dasharray="12,6"/>
<circle cx="578.16" cy="1855.39" r="5.9" fill="#283f4d" />
<circle cx="692.45" cy="1920.52" r="5.9" fill="#283f4d" />
<polyline points="576.64,1976.06 692.93,1960.59" stroke="#305467" fill="none" stroke-width="3.8" stroke-linejoin="round" stroke-dasharray="12,6"/>
<circle cx="576.64" cy="1976.06" r="5.9" fill="#305467" />
<circle cx="692.93" cy="1960.59" r="5.9" fill="#305467" />
<polyline points="576.73,1800.86 694.14,1988.98" stroke="#366278" fill="none" stroke-width="3.8" stroke-linejoin="round" stroke-dasharray="12,6"/>
<circle cx="576.73" cy="1800.86" r="5.9" fill="#366278" />
<circle cx="694.14" cy="1988.98" r="5.9" fill="#366278" />
<polyline points="573.94,1997.72 690.11,1973.74" stroke="#386980" fill="none" stroke-width="3.8" stroke-linejoin="round" stroke-dasharray="12,6"/>
<circle cx="573.94" cy="1997.72" r="5.9" fill="#386980" />
<circle cx="690.11" cy="1973.74" r="5.9" fill="#386980" />
<polyline points="576.6,1846.11 694.67,2000.04" stroke="#3b7089" fill="none" stroke-width="3.8" stroke-linejoin="round" stroke-dasharray="12,6"/>
<circle cx="576.6" cy="1846.11" r="5.9" fill="#3b7089" />
<circle cx="694.67" cy="2000.04" r="5.9" fill="#3b7089" />
<polyline points="577.37,1948.21 690.72,1954.4" stroke="#3b7089" fill="none" stroke-width="3.8" stroke-linejoin="round" stroke-dasharray="12,6"/>
<circle cx="577.37" cy="1948.21" r="5.9" fill="#3b7089" />
<circle cx="690.72" cy="1954.4" r="5.9" fill="#3b7089" />
<polyline points="575.5,1931.2 692.3,1960.59" stroke="#3e7791" fill="none" stroke-width="3.8" stroke-linejoin="round" stroke-dasharray="12,6"/>
<circle cx="575.5" cy="1931.2" r="5.9" fill="#3e7791" />
<circle cx="692.3" cy="1960.59" r="5.9" fill="#3e7791" />
<polyline points="578.35,1938.31 691.2,1931.2" stroke="#407e9a" fill="none" stroke-width="3.8" stroke-linejoin="round" stroke-dasharray="12,6"/>
<circle cx="578.35" cy="1938.31" r="5.9" fill="#407e9a" />
<circle cx="691.2" cy="1931.2" r="5.9" fill="#407e9a" />
<polyline points="575.54,1940.48 693.73,1960.59" stroke="#4384a2" fill="none" stroke-width="3.8" stroke-linejoin="round" stroke-dasharray="12,6"/>
<circle cx="575.54" cy="1940.48" r="5.9" fill="#4384a2" />
<circle cx="693.73" cy="1960.59" r="5.9" fill="#4384a2" />
<polyline points="578.28,1921.53 693.89,1935.84" stroke="#468baa" fill="none" stroke-width="3.8" stroke-linejoin="round" stroke-dasharray="12,6"/>
<circle cx="578.28" cy="1921.53" r="5.9" fill="#468baa" />
<circle cx="693.89" cy="1935.84" r="5.9" fill="#468baa" />
<polyline points="574.3,1943.96 694.78,1943.57" stroke="#4992b3" fill="none" stroke-width="3.8" stroke-linejoin="round" stroke-dasharray="12,6"/>
<circle cx="574.3" cy="1943.96" r="5.9" fill="#4992b3" />
<circle cx="694.78" cy="1943.57" r="5.9" fill="#4992b3" />
<polyline points="574.57,1958.27 691.97,1966.78" stroke="#4c99bb" fill="none" stroke-width="3.8" stroke-linejoin="round" stroke-dasharray="12,6"/>
<circle cx="574.57" cy="1958.27" r="5.9" fill="#4c99bb" />
<circle cx="691.97" cy="1966.78" r="5.9" fill="#4c99bb" />
<polyline points="575.26,1942.8 692.79,1951.31" stroke="#4ea0c4" fill="none" stroke-width="3.8" stroke-linejoin="round" stroke-dasharray="12,6"/>
<circle cx="575.26" cy="1942.8" r="5.9" fill="#4ea0c4" />
<circle cx="692.79" cy="1951.31" r="5.9" fill="#4ea0c4" />
<polyline points="577.02,1973.97 691.73,1954.4" stroke="#54aed5" fill="none" stroke-width="3.8" stroke-linejoin="round" stroke-dasharray="12,6"/>
<circle cx="577.02" cy="1973.97" r="5.9" fill="#54aed5" />
<circle cx="691.73" cy="1954.4" r="5.9" fill="#54aed5" />
<polyline points="575.96,1872.72 694.08,1943.57" stroke="#56b5dd" fill="none" stroke-width="3.8" stroke-linejoin="round" stroke-dasharray="12,6"/>
<circle cx="575.96" cy="1872.72" r="5.9" fill="#56b5dd" />
<circle cx="694.08" cy="1943.57" r="5.9" fill="#56b5dd" />
<polyline points="574.81,1954.4 693.87,1931.2" stroke="#59bce6" fill="none" stroke-width="3.8" stroke-linejoin="round" stroke-dasharray="12,6"/>
<circle cx="574.81" cy="1954.4" r="5.9" fill="#59bce6" />
<circle cx="693.87" cy="1931.2" r="5.9" fill="#59bce6" />
<polyline points="578.2,1895.61 691.91,1966.78" stroke="#5cc3ee" fill="none" stroke-width="3.8" stroke-linejoin="round" stroke-dasharray="12,6"/>
<circle cx="578.2" cy="1895.61" r="5.9" fill="#5cc3ee" />
<circle cx="691.91" cy="1966.78" r="5.9" fill="#5cc3ee" />
<polyline points="578.34,1965.23 691.29,1935.84" stroke="#5cc3ee" fill="none" stroke-width="3.8" stroke-linejoin="round" stroke-dasharray="12,6"/>
<circle cx="578.34" cy="1965.23" r="5.9" fill="#5cc3ee" />
<circle cx="691.29" cy="1935.84" r="5.9" fill="#5cc3ee" />
<line x1="518.5" y1="1791.8" x2="518.5" y2="2010" stroke="#000" stroke-width="2.2" />
<line x1="507.8" y1="1954.4" x2="518.5" y2="1954.4" stroke="#000" stroke-width="2.2" />
<text x="501.5" y="1963.8" font-size="25.3" text-anchor="end" font-weight="normal" font-style="normal" fill="#000" >0</text>
<line x1="507.8" y1="1877.05" x2="518.5" y2="1877.05" stroke="#000" stroke-width="2.2" />
<text x="501.5" y="1886.45" font-size="25.3" text-anchor="end" font-weight="normal" font-style="normal" fill="#000" >100</text>
<line x1="507.8" y1="1799.7" x2="518.5" y2="1799.7" stroke="#000" stroke-width="2.2" />
<text x="501.5" y="1809.1" font-size="25.3" text-anchor="end" font-weight="normal" font-style="normal" fill="#000" >200</text>
<line x1="517.4" y1="2008.9" x2="750.6" y2="2008.9" stroke="#000" stroke-width="2.2" />
<line x1="576.1" y1="2008.9" x2="576.1" y2="2019.9" stroke="#000" stroke-width="2.2" />
<text x="546.71" y="2044.8" font-size="25.3" fill="#000" textLength="44.03" lengthAdjust="spacingAndGlyphs" >Day</text>
<text x="519.46" y="2072" font-size="25.3" fill="#000" textLength="108.11" lengthAdjust="spacingAndGlyphs" >dynamics</text>
<line x1="692.5" y1="2008.9" x2="692.5" y2="2019.9" stroke="#000" stroke-width="2.2" />
<text x="665.99" y="2044.8" font-size="25.3" fill="#000" textLength="59.69" lengthAdjust="spacingAndGlyphs" >Night</text>
<text x="645.46" y="2072" font-size="25.3" fill="#000" textLength="108.11" lengthAdjust="spacingAndGlyphs" >dynamics</text>
<rect x="912.2" y="1791.8" width="90.4" height="217.1" fill="#faf6de" />
<polyline points="893.63,1965.62 1009.84,1939.32" stroke="#563446" fill="none" stroke-width="3.8" stroke-linejoin="round" stroke-dasharray="12,6"/>
<circle cx="893.63" cy="1965.62" r="5.9" fill="#563446" />
<circle cx="1009.84" cy="1939.32" r="5.9" fill="#563446" />
<polyline points="891.96,1946.67 1013.35,1969.1" stroke="#5e394d" fill="none" stroke-width="3.8" stroke-linejoin="round" stroke-dasharray="12,6"/>
<circle cx="891.96" cy="1946.67" r="5.9" fill="#5e394d" />
<circle cx="1013.35" cy="1969.1" r="5.9" fill="#5e394d" />
<polyline points="893.51,1948.21 1008.7,1920.37" stroke="#663e53" fill="none" stroke-width="3.8" stroke-linejoin="round" stroke-dasharray="12,6"/>
<circle cx="893.51" cy="1948.21" r="5.9" fill="#663e53" />
<circle cx="1008.7" cy="1920.37" r="5.9" fill="#663e53" />
<polyline points="892.95,1969.87 1011.29,1994.62" stroke="#6e435a" fill="none" stroke-width="3.8" stroke-linejoin="round" stroke-dasharray="12,6"/>
<circle cx="892.95" cy="1969.87" r="5.9" fill="#6e435a" />
<circle cx="1011.29" cy="1994.62" r="5.9" fill="#6e435a" />
<polyline points="895.71,1985.34 1010.24,1944.34" stroke="#754861" fill="none" stroke-width="3.8" stroke-linejoin="round" stroke-dasharray="12,6"/>
<circle cx="895.71" cy="1985.34" r="5.9" fill="#754861" />
<circle cx="1010.24" cy="1944.34" r="5.9" fill="#754861" />
<polyline points="892.66,1942.8 1009.05,1988.82" stroke="#7d4d67" fill="none" stroke-width="3.8" stroke-linejoin="round" stroke-dasharray="12,6"/>
<circle cx="892.66" cy="1942.8" r="5.9" fill="#7d4d67" />
<circle cx="1009.05" cy="1988.82" r="5.9" fill="#7d4d67" />
<polyline points="896.26,1979.15 1010.24,1939.32" stroke="#85526e" fill="none" stroke-width="3.8" stroke-linejoin="round" stroke-dasharray="12,6"/>
<circle cx="896.26" cy="1979.15" r="5.9" fill="#85526e" />
<circle cx="1010.24" cy="1939.32" r="5.9" fill="#85526e" />
<polyline points="893.26,1995.4 1013.62,1959.04" stroke="#8c5774" fill="none" stroke-width="3.8" stroke-linejoin="round" stroke-dasharray="12,6"/>
<circle cx="893.26" cy="1995.4" r="5.9" fill="#8c5774" />
<circle cx="1013.62" cy="1959.04" r="5.9" fill="#8c5774" />
<polyline points="895.59,1958.27 1012.55,1928.1" stroke="#945c7b" fill="none" stroke-width="3.8" stroke-linejoin="round" stroke-dasharray="12,6"/>
<circle cx="895.59" cy="1958.27" r="5.9" fill="#945c7b" />
<circle cx="1012.55" cy="1928.1" r="5.9" fill="#945c7b" />
<polyline points="895.57,1932.12 1008.9,1865.45" stroke="#9c6282" fill="none" stroke-width="3.8" stroke-linejoin="round" stroke-dasharray="12,6"/>
<circle cx="895.57" cy="1932.12" r="5.9" fill="#9c6282" />
<circle cx="1008.9" cy="1865.45" r="5.9" fill="#9c6282" />
<polyline points="895.82,1899.95 1013.64,1951.69" stroke="#a36788" fill="none" stroke-width="3.8" stroke-linejoin="round" stroke-dasharray="12,6"/>
<circle cx="895.82" cy="1899.95" r="5.9" fill="#a36788" />
<circle cx="1013.64" cy="1951.69" r="5.9" fill="#a36788" />
<polyline points="896.83,1950.53 1009.16,1944.34" stroke="#ab6c8f" fill="none" stroke-width="3.8" stroke-linejoin="round" stroke-dasharray="12,6"/>
<circle cx="896.83" cy="1950.53" r="5.9" fill="#ab6c8f" />
<circle cx="1009.16" cy="1944.34" r="5.9" fill="#ab6c8f" />
<polyline points="894.98,1939.7 1013.21,1886.33" stroke="#b37195" fill="none" stroke-width="3.8" stroke-linejoin="round" stroke-dasharray="12,6"/>
<circle cx="894.98" cy="1939.7" r="5.9" fill="#b37195" />
<circle cx="1013.21" cy="1886.33" r="5.9" fill="#b37195" />
<polyline points="895.89,1962.13 1010.59,1951.69" stroke="#c27ba3" fill="none" stroke-width="3.8" stroke-linejoin="round" stroke-dasharray="12,6"/>
<circle cx="895.89" cy="1962.13" r="5.9" fill="#c27ba3" />
<circle cx="1010.59" cy="1951.69" r="5.9" fill="#c27ba3" />
<polyline points="893.67,1954.4 1010.72,1977.61" stroke="#e18fbd" fill="none" stroke-width="3.8" stroke-linejoin="round" stroke-dasharray="12,6"/>
<circle cx="893.67" cy="1954.4" r="5.9" fill="#e18fbd" />
<circle cx="1010.72" cy="1977.61" r="5.9" fill="#e18fbd" />
<polyline points="894.52,1975.52 1010.75,1977.61" stroke="#e18fbd" fill="none" stroke-width="3.8" stroke-linejoin="round" stroke-dasharray="12,6"/>
<circle cx="894.52" cy="1975.52" r="5.9" fill="#e18fbd" />
<circle cx="1010.75" cy="1977.61" r="5.9" fill="#e18fbd" />
<line x1="837.2" y1="1791.8" x2="837.2" y2="2010" stroke="#000" stroke-width="2.2" />
<line x1="826.5" y1="1954.4" x2="837.2" y2="1954.4" stroke="#000" stroke-width="2.2" />
<text x="820.2" y="1963.8" font-size="25.3" text-anchor="end" font-weight="normal" font-style="normal" fill="#000" >0</text>
<line x1="826.5" y1="1877.05" x2="837.2" y2="1877.05" stroke="#000" stroke-width="2.2" />
<text x="820.2" y="1886.45" font-size="25.3" text-anchor="end" font-weight="normal" font-style="normal" fill="#000" >100</text>
<line x1="826.5" y1="1799.7" x2="837.2" y2="1799.7" stroke="#000" stroke-width="2.2" />
<text x="820.2" y="1809.1" font-size="25.3" text-anchor="end" font-weight="normal" font-style="normal" fill="#000" >200</text>
<line x1="836.1" y1="2008.9" x2="1068.7" y2="2008.9" stroke="#000" stroke-width="2.2" />
<line x1="894.4" y1="2008.9" x2="894.4" y2="2019.9" stroke="#000" stroke-width="2.2" />
<text x="870.61" y="2044.8" font-size="25.3" fill="#000" textLength="44.03" lengthAdjust="spacingAndGlyphs" >Day</text>
<text x="843.26" y="2072" font-size="25.3" fill="#000" textLength="108.11" lengthAdjust="spacingAndGlyphs" >dynamics</text>
<line x1="1011.2" y1="2008.9" x2="1011.2" y2="2019.9" stroke="#000" stroke-width="2.2" />
<text x="985.39" y="2044.8" font-size="25.3" fill="#000" textLength="59.69" lengthAdjust="spacingAndGlyphs" >Night</text>
<text x="964.26" y="2072" font-size="25.3" fill="#000" textLength="108.11" lengthAdjust="spacingAndGlyphs" >dynamics</text>
<rect x="1224.4" y="1791.8" width="90.3" height="217.1" fill="#faf6de" />
<polyline points="1205.54,1968.32 1324.78,1932.28" stroke="#1b2b26" fill="none" stroke-width="3.8" stroke-linejoin="round" stroke-dasharray="12,6"/>
<circle cx="1205.54" cy="1968.32" r="5.9" fill="#1b2b26" />
<circle cx="1324.78" cy="1932.28" r="5.9" fill="#1b2b26" />
<polyline points="1206.12,1943.57 1321.39,1960.59" stroke="#1a3830" fill="none" stroke-width="3.8" stroke-linejoin="round" stroke-dasharray="12,6"/>
<circle cx="1206.12" cy="1943.57" r="5.9" fill="#1a3830" />
<circle cx="1321.39" cy="1960.59" r="5.9" fill="#1a3830" />
<polyline points="1207.11,1958.27 1322.31,1875.89" stroke="#1a3830" fill="none" stroke-width="3.8" stroke-linejoin="round" stroke-dasharray="12,6"/>
<circle cx="1207.11" cy="1958.27" r="5.9" fill="#1a3830" />
<circle cx="1322.31" cy="1875.89" r="5.9" fill="#1a3830" />
<polyline points="1206.58,1938.54 1321.39,1954.4" stroke="#193e35" fill="none" stroke-width="3.8" stroke-linejoin="round" stroke-dasharray="12,6"/>
<circle cx="1206.58" cy="1938.54" r="5.9" fill="#193e35" />
<circle cx="1321.39" cy="1954.4" r="5.9" fill="#193e35" />
<polyline points="1205.79,1926.09 1325.26,1974.2" stroke="#165e4e" fill="none" stroke-width="3.8" stroke-linejoin="round" stroke-dasharray="12,6"/>
<circle cx="1205.79" cy="1926.09" r="5.9" fill="#165e4e" />
<circle cx="1325.26" cy="1974.2" r="5.9" fill="#165e4e" />
<polyline points="1204.61,1902.03 1324.53,1949.76" stroke="#146b58" fill="none" stroke-width="3.8" stroke-linejoin="round" stroke-dasharray="12,6"/>
<circle cx="1204.61" cy="1902.03" r="5.9" fill="#146b58" />
<circle cx="1324.53" cy="1949.76" r="5.9" fill="#146b58" />
<polyline points="1206.42,1916.11 1320.86,1932.28" stroke="#12856c" fill="none" stroke-width="3.8" stroke-linejoin="round" stroke-dasharray="12,6"/>
<circle cx="1206.42" cy="1916.11" r="5.9" fill="#12856c" />
<circle cx="1320.86" cy="1932.28" r="5.9" fill="#12856c" />
<polyline points="1207.3,1968.32 1322.55,1974.2" stroke="#119176" fill="none" stroke-width="3.8" stroke-linejoin="round" stroke-dasharray="12,6"/>
<circle cx="1207.3" cy="1968.32" r="5.9" fill="#119176" />
<circle cx="1322.55" cy="1974.2" r="5.9" fill="#119176" />
<polyline points="1207.47,1891.28 1323.49,1998.95" stroke="#0fa585" fill="none" stroke-width="3.8" stroke-linejoin="round" stroke-dasharray="12,6"/>
<circle cx="1207.47" cy="1891.28" r="5.9" fill="#0fa585" />
<circle cx="1323.49" cy="1998.95" r="5.9" fill="#0fa585" />
<polyline points="1208.49,1932.28 1321.87,1927.33" stroke="#0eab8a" fill="none" stroke-width="3.8" stroke-linejoin="round" stroke-dasharray="12,6"/>
<circle cx="1208.49" cy="1932.28" r="5.9" fill="#0eab8a" />
<circle cx="1321.87" cy="1927.33" r="5.9" fill="#0eab8a" />
<line x1="1148.9" y1="1791.8" x2="1148.9" y2="2010" stroke="#000" stroke-width="2.2" />
<line x1="1138.2" y1="1954.4" x2="1148.9" y2="1954.4" stroke="#000" stroke-width="2.2" />
<text x="1131.9" y="1963.8" font-size="25.3" text-anchor="end" font-weight="normal" font-style="normal" fill="#000" >0</text>
<line x1="1138.2" y1="1877.05" x2="1148.9" y2="1877.05" stroke="#000" stroke-width="2.2" />
<text x="1131.9" y="1886.45" font-size="25.3" text-anchor="end" font-weight="normal" font-style="normal" fill="#000" >100</text>
<line x1="1138.2" y1="1799.7" x2="1148.9" y2="1799.7" stroke="#000" stroke-width="2.2" />
<text x="1131.9" y="1809.1" font-size="25.3" text-anchor="end" font-weight="normal" font-style="normal" fill="#000" >200</text>
<line x1="1147.8" y1="2008.9" x2="1381.6" y2="2008.9" stroke="#000" stroke-width="2.2" />
<line x1="1206.8" y1="2008.9" x2="1206.8" y2="2019.9" stroke="#000" stroke-width="2.2" />
<text x="1174.61" y="2044.8" font-size="25.3" fill="#000" textLength="44.03" lengthAdjust="spacingAndGlyphs" >Day</text>
<text x="1147.26" y="2072" font-size="25.3" fill="#000" textLength="108.11" lengthAdjust="spacingAndGlyphs" >dynamics</text>
<line x1="1323.2" y1="2008.9" x2="1323.2" y2="2019.9" stroke="#000" stroke-width="2.2" />
<text x="1297.39" y="2044.8" font-size="25.3" fill="#000" textLength="59.69" lengthAdjust="spacingAndGlyphs" >Night</text>
<text x="1275.96" y="2072" font-size="25.3" fill="#000" textLength="108.11" lengthAdjust="spacingAndGlyphs" >dynamics</text>
</svg></body></html>
